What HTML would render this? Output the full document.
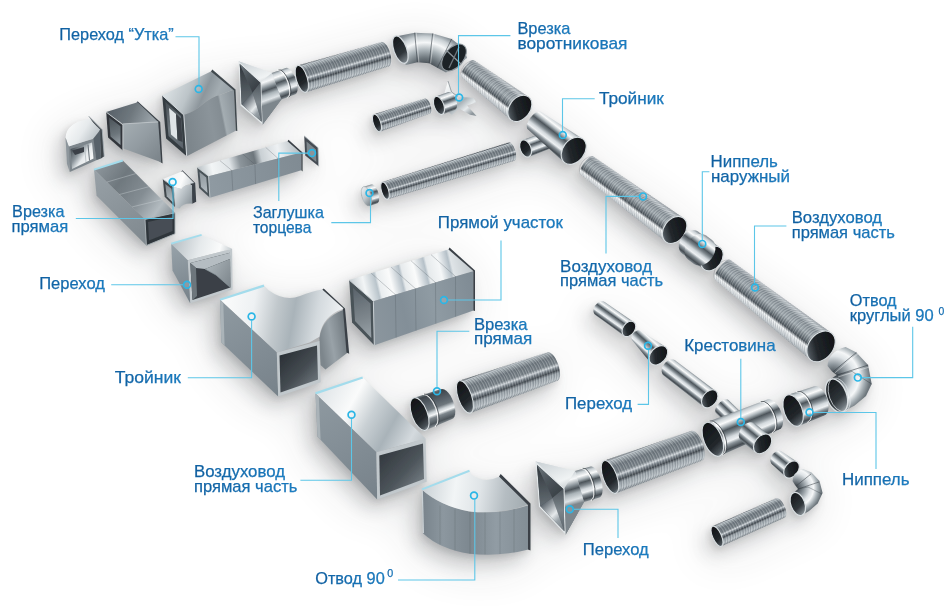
<!DOCTYPE html>
<html><head><meta charset="utf-8"><title>Воздуховоды</title>
<style>
html,body{margin:0;padding:0;background:#fff;}
body{width:950px;height:611px;overflow:hidden;font-family:"Liberation Sans",sans-serif;}
svg{display:block}
text{font-family:"Liberation Sans",sans-serif;}
</style></head><body>
<svg width="950" height="611" viewBox="0 0 950 611">
<defs>
<filter id="blur" x="-20%" y="-20%" width="140%" height="140%"><feGaussianBlur stdDeviation="9"/></filter>
<filter id="blur3" x="-30%" y="-30%" width="160%" height="160%"><feGaussianBlur stdDeviation="24"/></filter>
<filter id="blur2" x="-20%" y="-20%" width="140%" height="140%"><feGaussianBlur stdDeviation="3"/></filter>
<filter id="soft" x="-5%" y="-5%" width="110%" height="110%"><feGaussianBlur stdDeviation="0.35"/></filter>
<linearGradient id="txt" x1="0" y1="0" x2="1" y2="0"><stop offset="0" stop-color="#0f5c9c"/><stop offset="1" stop-color="#1b80c4"/></linearGradient>
<linearGradient id="g1" gradientUnits="userSpaceOnUse" x1="72.0" y1="148.0" x2="92.0" y2="162.0"><stop offset="0" stop-color="#4a5258"/><stop offset="0.35" stop-color="#8d969c"/><stop offset="0.6" stop-color="#e6eaec"/><stop offset="1" stop-color="#fafbfb"/></linearGradient><linearGradient id="g2" gradientUnits="userSpaceOnUse" x1="68.0" y1="124.0" x2="96.0" y2="142.0"><stop offset="0" stop-color="#fafbfb"/><stop offset="0.5" stop-color="#e6eaec"/><stop offset="1" stop-color="#b5bdc2"/></linearGradient><linearGradient id="g3" gradientUnits="userSpaceOnUse" x1="112.0" y1="106.0" x2="150.0" y2="124.0"><stop offset="0" stop-color="#59626a"/><stop offset="0.5" stop-color="#6f787e"/><stop offset="1" stop-color="#99a2a8"/></linearGradient><linearGradient id="g4" gradientUnits="userSpaceOnUse" x1="123.0" y1="124.0" x2="160.0" y2="160.0"><stop offset="0" stop-color="#a4adb2"/><stop offset="0.45" stop-color="#949da3"/><stop offset="1" stop-color="#7b848a"/></linearGradient><linearGradient id="g5" gradientUnits="userSpaceOnUse" x1="109.0" y1="118.0" x2="120.0" y2="145.0"><stop offset="0" stop-color="#4a5258"/><stop offset="0.6" stop-color="#6d767c"/><stop offset="1" stop-color="#99a2a8"/></linearGradient><linearGradient id="g6" gradientUnits="userSpaceOnUse" x1="172.0" y1="80.0" x2="225.0" y2="104.0"><stop offset="0" stop-color="#d9dfe2"/><stop offset="0.35" stop-color="#bcc4c8"/><stop offset="0.6" stop-color="#8d969c"/><stop offset="0.8" stop-color="#a4adb2"/><stop offset="1" stop-color="#99a2a8"/></linearGradient><linearGradient id="g7" gradientUnits="userSpaceOnUse" x1="186.0" y1="125.0" x2="236.0" y2="115.0"><stop offset="0" stop-color="#7d868c"/><stop offset="0.5" stop-color="#8b949a"/><stop offset="0.72" stop-color="#848d93"/><stop offset="0.76" stop-color="#a4adb2"/><stop offset="1" stop-color="#8d969c"/></linearGradient><linearGradient id="g8" gradientUnits="userSpaceOnUse" x1="166.0" y1="104.0" x2="183.0" y2="148.0"><stop offset="0" stop-color="#4a5258"/><stop offset="0.5" stop-color="#6d767c"/><stop offset="1" stop-color="#59626a"/></linearGradient><linearGradient id="g9" gradientUnits="userSpaceOnUse" x1="100.0" y1="165.0" x2="170.0" y2="215.0"><stop offset="0" stop-color="#8b949a"/><stop offset="0.3" stop-color="#6f787e"/><stop offset="0.6" stop-color="#848d93"/><stop offset="0.85" stop-color="#b4bcc1"/><stop offset="1" stop-color="#8b949a"/></linearGradient><linearGradient id="g10" gradientUnits="userSpaceOnUse" x1="94.0" y1="170.0" x2="146.0" y2="245.0"><stop offset="0" stop-color="#98a1a7"/><stop offset="1" stop-color="#7f888e"/></linearGradient><linearGradient id="g11" gradientUnits="userSpaceOnUse" x1="166.0" y1="176.0" x2="192.0" y2="186.0"><stop offset="0" stop-color="#eef1f3"/><stop offset="0.6" stop-color="#fafbfb"/><stop offset="1" stop-color="#c9d0d4"/></linearGradient><linearGradient id="g12" gradientUnits="userSpaceOnUse" x1="175.0" y1="190.0" x2="193.0" y2="200.0"><stop offset="0" stop-color="#dfe4e7"/><stop offset="0.5" stop-color="#b5bdc2"/><stop offset="1" stop-color="#8d969c"/></linearGradient><linearGradient id="g13" gradientUnits="userSpaceOnUse" x1="165.0" y1="184.0" x2="173.0" y2="202.0"><stop offset="0" stop-color="#7d868c"/><stop offset="1" stop-color="#b5bdc2"/></linearGradient><linearGradient id="g14" gradientUnits="userSpaceOnUse" x1="200.0" y1="170.0" x2="298.0" y2="146.0"><stop offset="0" stop-color="#c1c8cc"/><stop offset="0.12" stop-color="#f2f5f6"/><stop offset="0.3" stop-color="#dfe4e7"/><stop offset="0.4" stop-color="#8d969c"/><stop offset="0.55" stop-color="#6d767c"/><stop offset="0.62" stop-color="#c9d0d4"/><stop offset="0.8" stop-color="#eef1f3"/><stop offset="1" stop-color="#b5bdc2"/></linearGradient><linearGradient id="g15" gradientUnits="userSpaceOnUse" x1="208.0" y1="185.0" x2="302.0" y2="160.0"><stop offset="0" stop-color="#8f9aa2"/><stop offset="0.5" stop-color="#87929a"/><stop offset="1" stop-color="#808b93"/></linearGradient><linearGradient id="g16" gradientUnits="userSpaceOnUse" x1="200.0" y1="172.0" x2="207.0" y2="193.0"><stop offset="0" stop-color="#8d969c"/><stop offset="1" stop-color="#b5bdc2"/></linearGradient><linearGradient id="g17" gradientUnits="userSpaceOnUse" x1="175.0" y1="240.0" x2="230.0" y2="255.0"><stop offset="0" stop-color="#b9c1c6"/><stop offset="0.45" stop-color="#e6eaec"/><stop offset="0.8" stop-color="#fafbfb"/><stop offset="1" stop-color="#c5ccd0"/></linearGradient><linearGradient id="g18" gradientUnits="userSpaceOnUse" x1="205.0" y1="269.0" x2="231.0" y2="285.0"><stop offset="0" stop-color="#aab3b8"/><stop offset="1" stop-color="#7d868c"/></linearGradient><linearGradient id="g19" gradientUnits="userSpaceOnUse" x1="171.0" y1="243.0" x2="191.0" y2="300.0"><stop offset="0" stop-color="#98a3aa"/><stop offset="1" stop-color="#77828a"/></linearGradient><linearGradient id="g20" gradientUnits="userSpaceOnUse" x1="238.5" y1="61.2" x2="262.6" y2="124.5"><stop offset="0" stop-color="#c9d0d4"/><stop offset="0.35" stop-color="#f0f3f4"/><stop offset="0.6" stop-color="#9aa3a9"/><stop offset="1" stop-color="#6d767c"/></linearGradient><linearGradient id="g21" gradientUnits="userSpaceOnUse" x1="271.7" y1="73.0" x2="281.3" y2="99.4"><stop offset="0" stop-color="#7f888e"/><stop offset="0.08" stop-color="#c9d0d4"/><stop offset="0.2" stop-color="#fafbfb"/><stop offset="0.3" stop-color="#aab3b8"/><stop offset="0.4" stop-color="#4d555b"/><stop offset="0.5" stop-color="#7d868c"/><stop offset="0.62" stop-color="#d4dade"/><stop offset="0.72" stop-color="#eef1f3"/><stop offset="0.8" stop-color="#8d969c"/><stop offset="0.92" stop-color="#454c52"/><stop offset="1" stop-color="#7d868c"/></linearGradient><linearGradient id="g22" gradientUnits="userSpaceOnUse" x1="238.5" y1="61.2" x2="262.6" y2="124.5"><stop offset="0" stop-color="#c9d0d4"/><stop offset="0.35" stop-color="#f0f3f4"/><stop offset="0.6" stop-color="#9aa3a9"/><stop offset="1" stop-color="#6d767c"/></linearGradient><linearGradient id="g23" gradientUnits="userSpaceOnUse" x1="271.7" y1="73.0" x2="281.3" y2="99.4"><stop offset="0" stop-color="#c9d0d4"/><stop offset="0.22" stop-color="#f5f7f8"/><stop offset="0.4" stop-color="#8d969c"/><stop offset="0.52" stop-color="#4d555b"/><stop offset="0.66" stop-color="#aab3b8"/><stop offset="0.85" stop-color="#dfe4e7"/><stop offset="1" stop-color="#7d868c"/></linearGradient><linearGradient id="g24" gradientUnits="userSpaceOnUse" x1="239.8" y1="64.0" x2="241.6" y2="104.3"><stop offset="0" stop-color="#30363b"/><stop offset="0.6" stop-color="#4d555b"/><stop offset="1" stop-color="#646d73"/></linearGradient><linearGradient id="g25" gradientUnits="userSpaceOnUse" x1="239.8" y1="64.0" x2="260.3" y2="82.8"><stop offset="0" stop-color="#6d767c"/><stop offset="0.5" stop-color="#4d555b"/><stop offset="1" stop-color="#3a4147"/></linearGradient><linearGradient id="g26" gradientUnits="userSpaceOnUse" x1="260.3" y1="82.8" x2="261.7" y2="121.7"><stop offset="0" stop-color="#4d555b"/><stop offset="0.5" stop-color="#7d868c"/><stop offset="1" stop-color="#59626a"/></linearGradient><linearGradient id="g27" gradientUnits="userSpaceOnUse" x1="241.6" y1="104.3" x2="261.7" y2="121.7"><stop offset="0" stop-color="#59626a"/><stop offset="0.45" stop-color="#e6eaec"/><stop offset="0.65" stop-color="#99a2a8"/><stop offset="1" stop-color="#6d767c"/></linearGradient><linearGradient id="g28" gradientUnits="userSpaceOnUse" x1="297.8" y1="65.5" x2="305.8" y2="92.3"><stop offset="0" stop-color="#4d555b"/><stop offset="0.05" stop-color="#b9c1c6"/><stop offset="0.12" stop-color="#9fa8ad"/><stop offset="0.24" stop-color="#707980"/><stop offset="0.44" stop-color="#7c858b"/><stop offset="0.52" stop-color="#d0d6da"/><stop offset="0.58" stop-color="#808990"/><stop offset="0.66" stop-color="#454c52"/><stop offset="0.74" stop-color="#99a2a8"/><stop offset="0.9" stop-color="#b9c1c6"/><stop offset="1" stop-color="#7d868c"/></linearGradient><linearGradient id="g29" gradientUnits="userSpaceOnUse" x1="297.8" y1="65.5" x2="305.8" y2="92.3"><stop offset="0" stop-color="#0f1215"/><stop offset="0.65" stop-color="#22272b"/><stop offset="0.88" stop-color="#4a5258"/><stop offset="1" stop-color="#99a2a8"/></linearGradient><radialGradient id="g30" gradientUnits="userSpaceOnUse" cx="425.0" cy="78.0" r="48.0"><stop offset="0" stop-color="#3a4147"/><stop offset="0.28" stop-color="#454c52"/><stop offset="0.42" stop-color="#6d767c"/><stop offset="0.58" stop-color="#aab3b8"/><stop offset="0.74" stop-color="#f5f7f8"/><stop offset="0.86" stop-color="#c9d0d4"/><stop offset="0.95" stop-color="#8d969c"/><stop offset="1" stop-color="#7a838a"/></radialGradient><linearGradient id="g31" gradientUnits="userSpaceOnUse" x1="397.0" y1="37.0" x2="405.0" y2="64.0"><stop offset="0" stop-color="#15191c"/><stop offset="0.6" stop-color="#2f353a"/><stop offset="1" stop-color="#8d969c"/></linearGradient><linearGradient id="g32" gradientUnits="userSpaceOnUse" x1="374.1" y1="114.3" x2="379.9" y2="131.7"><stop offset="0" stop-color="#4d555b"/><stop offset="0.05" stop-color="#b9c1c6"/><stop offset="0.12" stop-color="#9fa8ad"/><stop offset="0.24" stop-color="#707980"/><stop offset="0.44" stop-color="#7c858b"/><stop offset="0.52" stop-color="#d0d6da"/><stop offset="0.58" stop-color="#808990"/><stop offset="0.66" stop-color="#454c52"/><stop offset="0.74" stop-color="#99a2a8"/><stop offset="0.9" stop-color="#b9c1c6"/><stop offset="1" stop-color="#7d868c"/></linearGradient><linearGradient id="g33" gradientUnits="userSpaceOnUse" x1="374.1" y1="114.3" x2="379.9" y2="131.7"><stop offset="0" stop-color="#0f1215"/><stop offset="0.65" stop-color="#22272b"/><stop offset="0.88" stop-color="#4a5258"/><stop offset="1" stop-color="#99a2a8"/></linearGradient><linearGradient id="g34" gradientUnits="userSpaceOnUse" x1="446.0" y1="84.0" x2="472.0" y2="114.0"><stop offset="0" stop-color="#fafbfb"/><stop offset="0.35" stop-color="#dfe4e7"/><stop offset="0.6" stop-color="#aab3b8"/><stop offset="0.8" stop-color="#e6eaec"/><stop offset="1" stop-color="#8d969c"/></linearGradient><linearGradient id="g35" gradientUnits="userSpaceOnUse" x1="435.8" y1="96.6" x2="442.2" y2="114.4"><stop offset="0" stop-color="#7f888e"/><stop offset="0.08" stop-color="#c9d0d4"/><stop offset="0.2" stop-color="#fafbfb"/><stop offset="0.3" stop-color="#aab3b8"/><stop offset="0.4" stop-color="#4d555b"/><stop offset="0.5" stop-color="#7d868c"/><stop offset="0.62" stop-color="#d4dade"/><stop offset="0.72" stop-color="#eef1f3"/><stop offset="0.8" stop-color="#8d969c"/><stop offset="0.92" stop-color="#454c52"/><stop offset="1" stop-color="#7d868c"/></linearGradient><linearGradient id="g36" gradientUnits="userSpaceOnUse" x1="435.8" y1="96.6" x2="442.2" y2="114.4"><stop offset="0" stop-color="#0f1215"/><stop offset="0.65" stop-color="#22272b"/><stop offset="0.88" stop-color="#4a5258"/><stop offset="1" stop-color="#99a2a8"/></linearGradient><linearGradient id="g37" gradientUnits="userSpaceOnUse" x1="476.3" y1="57.0" x2="458.7" y2="80.0"><stop offset="0" stop-color="#8e979d"/><stop offset="0.1" stop-color="#c9d0d4"/><stop offset="0.24" stop-color="#8d969c"/><stop offset="0.45" stop-color="#a4adb2"/><stop offset="0.6" stop-color="#6d767c"/><stop offset="0.68" stop-color="#4d555b"/><stop offset="0.76" stop-color="#f2f5f6"/><stop offset="0.9" stop-color="#c9d0d4"/><stop offset="1" stop-color="#99a2a8"/></linearGradient><linearGradient id="g38" gradientUnits="userSpaceOnUse" x1="528.6" y1="96.9" x2="511.0" y2="119.9"><stop offset="0" stop-color="#0f1215"/><stop offset="0.65" stop-color="#22272b"/><stop offset="0.88" stop-color="#4a5258"/><stop offset="1" stop-color="#99a2a8"/></linearGradient><linearGradient id="g39" gradientUnits="userSpaceOnUse" x1="382.2" y1="181.5" x2="387.8" y2="199.9"><stop offset="0" stop-color="#4d555b"/><stop offset="0.05" stop-color="#b9c1c6"/><stop offset="0.12" stop-color="#9fa8ad"/><stop offset="0.24" stop-color="#707980"/><stop offset="0.44" stop-color="#7c858b"/><stop offset="0.52" stop-color="#d0d6da"/><stop offset="0.58" stop-color="#808990"/><stop offset="0.66" stop-color="#454c52"/><stop offset="0.74" stop-color="#99a2a8"/><stop offset="0.9" stop-color="#b9c1c6"/><stop offset="1" stop-color="#7d868c"/></linearGradient><linearGradient id="g40" gradientUnits="userSpaceOnUse" x1="382.3" y1="182.1" x2="387.7" y2="199.3"><stop offset="0" stop-color="#0f1215"/><stop offset="0.65" stop-color="#22272b"/><stop offset="0.88" stop-color="#4a5258"/><stop offset="1" stop-color="#99a2a8"/></linearGradient><linearGradient id="g41" gradientUnits="userSpaceOnUse" x1="363.6" y1="186.7" x2="369.4" y2="205.9"><stop offset="0" stop-color="#7f888e"/><stop offset="0.08" stop-color="#c9d0d4"/><stop offset="0.2" stop-color="#fafbfb"/><stop offset="0.3" stop-color="#aab3b8"/><stop offset="0.4" stop-color="#4d555b"/><stop offset="0.5" stop-color="#7d868c"/><stop offset="0.62" stop-color="#d4dade"/><stop offset="0.72" stop-color="#eef1f3"/><stop offset="0.8" stop-color="#8d969c"/><stop offset="0.92" stop-color="#454c52"/><stop offset="1" stop-color="#7d868c"/></linearGradient><linearGradient id="g42" gradientUnits="userSpaceOnUse" x1="362.0" y1="190.0" x2="371.0" y2="203.0"><stop offset="0" stop-color="#e6eaec"/><stop offset="0.5" stop-color="#c1c8cc"/><stop offset="1" stop-color="#7d868c"/></linearGradient><linearGradient id="g43" gradientUnits="userSpaceOnUse" x1="522.5" y1="140.1" x2="528.7" y2="156.9"><stop offset="0" stop-color="#7f888e"/><stop offset="0.08" stop-color="#c9d0d4"/><stop offset="0.2" stop-color="#fafbfb"/><stop offset="0.3" stop-color="#aab3b8"/><stop offset="0.4" stop-color="#4d555b"/><stop offset="0.5" stop-color="#7d868c"/><stop offset="0.62" stop-color="#d4dade"/><stop offset="0.72" stop-color="#eef1f3"/><stop offset="0.8" stop-color="#8d969c"/><stop offset="0.92" stop-color="#454c52"/><stop offset="1" stop-color="#7d868c"/></linearGradient><linearGradient id="g44" gradientUnits="userSpaceOnUse" x1="522.5" y1="140.1" x2="528.7" y2="156.9"><stop offset="0" stop-color="#0f1215"/><stop offset="0.65" stop-color="#22272b"/><stop offset="0.88" stop-color="#4a5258"/><stop offset="1" stop-color="#99a2a8"/></linearGradient><linearGradient id="g45" gradientUnits="userSpaceOnUse" x1="543.7" y1="108.7" x2="525.3" y2="132.5"><stop offset="0" stop-color="#7f888e"/><stop offset="0.08" stop-color="#c9d0d4"/><stop offset="0.2" stop-color="#fafbfb"/><stop offset="0.3" stop-color="#aab3b8"/><stop offset="0.4" stop-color="#4d555b"/><stop offset="0.5" stop-color="#7d868c"/><stop offset="0.62" stop-color="#d4dade"/><stop offset="0.72" stop-color="#eef1f3"/><stop offset="0.8" stop-color="#8d969c"/><stop offset="0.92" stop-color="#454c52"/><stop offset="1" stop-color="#7d868c"/></linearGradient><linearGradient id="g46" gradientUnits="userSpaceOnUse" x1="582.9" y1="138.9" x2="564.5" y2="162.7"><stop offset="0" stop-color="#0f1215"/><stop offset="0.65" stop-color="#22272b"/><stop offset="0.88" stop-color="#4a5258"/><stop offset="1" stop-color="#99a2a8"/></linearGradient><linearGradient id="g47" gradientUnits="userSpaceOnUse" x1="595.3" y1="153.3" x2="577.7" y2="177.1"><stop offset="0" stop-color="#8e979d"/><stop offset="0.1" stop-color="#c9d0d4"/><stop offset="0.24" stop-color="#8d969c"/><stop offset="0.45" stop-color="#a4adb2"/><stop offset="0.6" stop-color="#6d767c"/><stop offset="0.68" stop-color="#4d555b"/><stop offset="0.76" stop-color="#f2f5f6"/><stop offset="0.9" stop-color="#c9d0d4"/><stop offset="1" stop-color="#99a2a8"/></linearGradient><linearGradient id="g48" gradientUnits="userSpaceOnUse" x1="683.4" y1="218.0" x2="665.8" y2="241.8"><stop offset="0" stop-color="#0f1215"/><stop offset="0.65" stop-color="#22272b"/><stop offset="0.88" stop-color="#4a5258"/><stop offset="1" stop-color="#99a2a8"/></linearGradient><linearGradient id="g49" gradientUnits="userSpaceOnUse" x1="697.9" y1="231.6" x2="682.1" y2="253.4"><stop offset="0" stop-color="#7f888e"/><stop offset="0.08" stop-color="#c9d0d4"/><stop offset="0.2" stop-color="#fafbfb"/><stop offset="0.3" stop-color="#aab3b8"/><stop offset="0.4" stop-color="#4d555b"/><stop offset="0.5" stop-color="#7d868c"/><stop offset="0.62" stop-color="#d4dade"/><stop offset="0.72" stop-color="#eef1f3"/><stop offset="0.8" stop-color="#8d969c"/><stop offset="0.92" stop-color="#454c52"/><stop offset="1" stop-color="#7d868c"/></linearGradient><linearGradient id="g50" gradientUnits="userSpaceOnUse" x1="719.9" y1="247.6" x2="704.1" y2="269.4"><stop offset="0" stop-color="#0f1215"/><stop offset="0.65" stop-color="#22272b"/><stop offset="0.88" stop-color="#4a5258"/><stop offset="1" stop-color="#99a2a8"/></linearGradient><linearGradient id="g51" gradientUnits="userSpaceOnUse" x1="706.0" y1="235.5" x2="688.0" y2="259.5"><stop offset="0" stop-color="#7f888e"/><stop offset="0.08" stop-color="#c9d0d4"/><stop offset="0.2" stop-color="#fafbfb"/><stop offset="0.3" stop-color="#aab3b8"/><stop offset="0.4" stop-color="#4d555b"/><stop offset="0.5" stop-color="#7d868c"/><stop offset="0.62" stop-color="#d4dade"/><stop offset="0.72" stop-color="#eef1f3"/><stop offset="0.8" stop-color="#8d969c"/><stop offset="0.92" stop-color="#454c52"/><stop offset="1" stop-color="#7d868c"/></linearGradient><linearGradient id="g52" gradientUnits="userSpaceOnUse" x1="732.7" y1="256.3" x2="711.9" y2="283.1"><stop offset="0" stop-color="#8e979d"/><stop offset="0.1" stop-color="#c9d0d4"/><stop offset="0.24" stop-color="#8d969c"/><stop offset="0.45" stop-color="#a4adb2"/><stop offset="0.6" stop-color="#6d767c"/><stop offset="0.68" stop-color="#4d555b"/><stop offset="0.76" stop-color="#f2f5f6"/><stop offset="0.9" stop-color="#c9d0d4"/><stop offset="1" stop-color="#99a2a8"/></linearGradient><linearGradient id="g53" gradientUnits="userSpaceOnUse" x1="831.4" y1="333.0" x2="810.6" y2="359.8"><stop offset="0" stop-color="#0f1215"/><stop offset="0.65" stop-color="#22272b"/><stop offset="0.88" stop-color="#4a5258"/><stop offset="1" stop-color="#99a2a8"/></linearGradient><radialGradient id="g54" gradientUnits="userSpaceOnUse" cx="833.0" cy="377.0" r="42.0"><stop offset="0" stop-color="#3a4147"/><stop offset="0.12" stop-color="#4d555b"/><stop offset="0.3" stop-color="#8d969c"/><stop offset="0.5" stop-color="#dfe4e7"/><stop offset="0.62" stop-color="#f5f7f8"/><stop offset="0.75" stop-color="#aab3b8"/><stop offset="0.88" stop-color="#6d767c"/><stop offset="1" stop-color="#59626a"/></radialGradient><linearGradient id="g55" gradientUnits="userSpaceOnUse" x1="830.0" y1="380.0" x2="843.0" y2="412.0"><stop offset="0" stop-color="#15191c"/><stop offset="0.6" stop-color="#2f353a"/><stop offset="0.85" stop-color="#6d767c"/><stop offset="1" stop-color="#aab3b8"/></linearGradient><linearGradient id="g56" gradientUnits="userSpaceOnUse" x1="787.4" y1="395.0" x2="798.8" y2="426.0"><stop offset="0" stop-color="#7f888e"/><stop offset="0.08" stop-color="#c9d0d4"/><stop offset="0.2" stop-color="#fafbfb"/><stop offset="0.3" stop-color="#aab3b8"/><stop offset="0.4" stop-color="#4d555b"/><stop offset="0.5" stop-color="#7d868c"/><stop offset="0.62" stop-color="#d4dade"/><stop offset="0.72" stop-color="#eef1f3"/><stop offset="0.8" stop-color="#8d969c"/><stop offset="0.92" stop-color="#454c52"/><stop offset="1" stop-color="#7d868c"/></linearGradient><linearGradient id="g57" gradientUnits="userSpaceOnUse" x1="787.4" y1="395.0" x2="798.8" y2="426.0"><stop offset="0" stop-color="#0f1215"/><stop offset="0.65" stop-color="#22272b"/><stop offset="0.88" stop-color="#4a5258"/><stop offset="1" stop-color="#99a2a8"/></linearGradient><linearGradient id="g58" gradientUnits="userSpaceOnUse" x1="728.4" y1="400.1" x2="716.0" y2="413.1"><stop offset="0" stop-color="#7f888e"/><stop offset="0.08" stop-color="#c9d0d4"/><stop offset="0.2" stop-color="#fafbfb"/><stop offset="0.3" stop-color="#aab3b8"/><stop offset="0.4" stop-color="#4d555b"/><stop offset="0.5" stop-color="#7d868c"/><stop offset="0.62" stop-color="#d4dade"/><stop offset="0.72" stop-color="#eef1f3"/><stop offset="0.8" stop-color="#8d969c"/><stop offset="0.92" stop-color="#454c52"/><stop offset="1" stop-color="#7d868c"/></linearGradient><linearGradient id="g59" gradientUnits="userSpaceOnUse" x1="706.0" y1="422.6" x2="719.6" y2="456.0"><stop offset="0" stop-color="#7f888e"/><stop offset="0.08" stop-color="#c9d0d4"/><stop offset="0.2" stop-color="#fafbfb"/><stop offset="0.3" stop-color="#aab3b8"/><stop offset="0.4" stop-color="#4d555b"/><stop offset="0.5" stop-color="#7d868c"/><stop offset="0.62" stop-color="#d4dade"/><stop offset="0.72" stop-color="#eef1f3"/><stop offset="0.8" stop-color="#8d969c"/><stop offset="0.92" stop-color="#454c52"/><stop offset="1" stop-color="#7d868c"/></linearGradient><linearGradient id="g60" gradientUnits="userSpaceOnUse" x1="706.0" y1="422.6" x2="719.6" y2="456.0"><stop offset="0" stop-color="#0f1215"/><stop offset="0.65" stop-color="#22272b"/><stop offset="0.88" stop-color="#4a5258"/><stop offset="1" stop-color="#99a2a8"/></linearGradient><linearGradient id="g61" gradientUnits="userSpaceOnUse" x1="754.9" y1="423.5" x2="741.1" y2="440.5"><stop offset="0" stop-color="#7f888e"/><stop offset="0.08" stop-color="#c9d0d4"/><stop offset="0.2" stop-color="#fafbfb"/><stop offset="0.3" stop-color="#aab3b8"/><stop offset="0.4" stop-color="#4d555b"/><stop offset="0.5" stop-color="#7d868c"/><stop offset="0.62" stop-color="#d4dade"/><stop offset="0.72" stop-color="#eef1f3"/><stop offset="0.8" stop-color="#8d969c"/><stop offset="0.92" stop-color="#454c52"/><stop offset="1" stop-color="#7d868c"/></linearGradient><linearGradient id="g62" gradientUnits="userSpaceOnUse" x1="769.5" y1="435.4" x2="755.7" y2="452.4"><stop offset="0" stop-color="#0f1215"/><stop offset="0.65" stop-color="#22272b"/><stop offset="0.88" stop-color="#4a5258"/><stop offset="1" stop-color="#99a2a8"/></linearGradient><linearGradient id="g63" gradientUnits="userSpaceOnUse" x1="604.9" y1="301.6" x2="595.1" y2="315.4"><stop offset="0" stop-color="#7f888e"/><stop offset="0.08" stop-color="#c9d0d4"/><stop offset="0.2" stop-color="#fafbfb"/><stop offset="0.3" stop-color="#aab3b8"/><stop offset="0.4" stop-color="#4d555b"/><stop offset="0.5" stop-color="#7d868c"/><stop offset="0.62" stop-color="#d4dade"/><stop offset="0.72" stop-color="#eef1f3"/><stop offset="0.8" stop-color="#8d969c"/><stop offset="0.92" stop-color="#454c52"/><stop offset="1" stop-color="#7d868c"/></linearGradient><linearGradient id="g64" gradientUnits="userSpaceOnUse" x1="633.8" y1="322.0" x2="624.0" y2="335.8"><stop offset="0" stop-color="#0f1215"/><stop offset="0.65" stop-color="#22272b"/><stop offset="0.88" stop-color="#4a5258"/><stop offset="1" stop-color="#99a2a8"/></linearGradient><linearGradient id="g65" gradientUnits="userSpaceOnUse" x1="644.4" y1="327.8" x2="629.6" y2="344.2"><stop offset="0" stop-color="#7f888e"/><stop offset="0.08" stop-color="#c9d0d4"/><stop offset="0.2" stop-color="#fafbfb"/><stop offset="0.3" stop-color="#aab3b8"/><stop offset="0.4" stop-color="#4d555b"/><stop offset="0.5" stop-color="#7d868c"/><stop offset="0.62" stop-color="#d4dade"/><stop offset="0.72" stop-color="#eef1f3"/><stop offset="0.8" stop-color="#8d969c"/><stop offset="0.92" stop-color="#454c52"/><stop offset="1" stop-color="#7d868c"/></linearGradient><linearGradient id="g66" gradientUnits="userSpaceOnUse" x1="665.8" y1="347.1" x2="651.0" y2="363.5"><stop offset="0" stop-color="#0f1215"/><stop offset="0.65" stop-color="#22272b"/><stop offset="0.88" stop-color="#4a5258"/><stop offset="1" stop-color="#99a2a8"/></linearGradient><linearGradient id="g67" gradientUnits="userSpaceOnUse" x1="675.6" y1="360.1" x2="663.4" y2="375.9"><stop offset="0" stop-color="#7f888e"/><stop offset="0.08" stop-color="#c9d0d4"/><stop offset="0.2" stop-color="#fafbfb"/><stop offset="0.3" stop-color="#aab3b8"/><stop offset="0.4" stop-color="#4d555b"/><stop offset="0.5" stop-color="#7d868c"/><stop offset="0.62" stop-color="#d4dade"/><stop offset="0.72" stop-color="#eef1f3"/><stop offset="0.8" stop-color="#8d969c"/><stop offset="0.92" stop-color="#454c52"/><stop offset="1" stop-color="#7d868c"/></linearGradient><linearGradient id="g68" gradientUnits="userSpaceOnUse" x1="715.8" y1="390.9" x2="703.6" y2="406.7"><stop offset="0" stop-color="#0f1215"/><stop offset="0.65" stop-color="#22272b"/><stop offset="0.88" stop-color="#4a5258"/><stop offset="1" stop-color="#99a2a8"/></linearGradient><linearGradient id="g69" gradientUnits="userSpaceOnUse" x1="352.0" y1="286.0" x2="470.0" y2="258.0"><stop offset="0" stop-color="#c9d0d4"/><stop offset="0.1" stop-color="#f2f5f6"/><stop offset="0.2" stop-color="#b9c4cb"/><stop offset="0.22" stop-color="#e9edef"/><stop offset="0.32" stop-color="#fafbfb"/><stop offset="0.41" stop-color="#b5c0c8"/><stop offset="0.43" stop-color="#e6eaec"/><stop offset="0.53" stop-color="#fafbfb"/><stop offset="0.62" stop-color="#b5c0c8"/><stop offset="0.64" stop-color="#e6eaec"/><stop offset="0.74" stop-color="#f5f7f8"/><stop offset="0.82" stop-color="#b5c0c8"/><stop offset="0.84" stop-color="#dfe4e7"/><stop offset="1" stop-color="#c1c8cc"/></linearGradient><linearGradient id="g70" gradientUnits="userSpaceOnUse" x1="374.0" y1="320.0" x2="474.0" y2="295.0"><stop offset="0" stop-color="#8a959d"/><stop offset="0.3" stop-color="#838f98"/><stop offset="0.6" stop-color="#8f9ba3"/><stop offset="1" stop-color="#808c95"/></linearGradient><linearGradient id="g71" gradientUnits="userSpaceOnUse" x1="353.0" y1="288.0" x2="371.0" y2="338.0"><stop offset="0" stop-color="#59626a"/><stop offset="0.6" stop-color="#7d868c"/><stop offset="1" stop-color="#9aa3a9"/></linearGradient><linearGradient id="g72" gradientUnits="userSpaceOnUse" x1="320.0" y1="340.0" x2="348.0" y2="335.0"><stop offset="0" stop-color="#7d868c"/><stop offset="0.4" stop-color="#99a2a8"/><stop offset="0.7" stop-color="#848d93"/><stop offset="1" stop-color="#6d767c"/></linearGradient><linearGradient id="g73" gradientUnits="userSpaceOnUse" x1="225.0" y1="300.0" x2="340.0" y2="320.0"><stop offset="0" stop-color="#fafbfb"/><stop offset="0.25" stop-color="#eef1f3"/><stop offset="0.45" stop-color="#c1c8cc"/><stop offset="0.6" stop-color="#a9b3b9"/><stop offset="0.8" stop-color="#d4dade"/><stop offset="1" stop-color="#eef1f3"/></linearGradient><linearGradient id="g74" gradientUnits="userSpaceOnUse" x1="220.0" y1="300.0" x2="278.0" y2="396.0"><stop offset="0" stop-color="#8f9aa1"/><stop offset="0.5" stop-color="#838e96"/><stop offset="1" stop-color="#77828a"/></linearGradient><linearGradient id="g75" gradientUnits="userSpaceOnUse" x1="280.0" y1="355.0" x2="318.0" y2="392.0"><stop offset="0" stop-color="#2a3035"/><stop offset="0.5" stop-color="#454c52"/><stop offset="1" stop-color="#7d868c"/></linearGradient><linearGradient id="g76" gradientUnits="userSpaceOnUse" x1="320.0" y1="390.0" x2="420.0" y2="445.0"><stop offset="0" stop-color="#dfe4e7"/><stop offset="0.3" stop-color="#fafbfb"/><stop offset="0.5" stop-color="#c9d0d4"/><stop offset="0.7" stop-color="#a9b3b9"/><stop offset="0.9" stop-color="#d4dade"/><stop offset="1" stop-color="#c1c8cc"/></linearGradient><linearGradient id="g77" gradientUnits="userSpaceOnUse" x1="315.0" y1="393.0" x2="377.0" y2="499.0"><stop offset="0" stop-color="#8f9aa1"/><stop offset="0.5" stop-color="#838e96"/><stop offset="1" stop-color="#77828a"/></linearGradient><linearGradient id="g78" gradientUnits="userSpaceOnUse" x1="380.0" y1="455.0" x2="424.0" y2="495.0"><stop offset="0" stop-color="#33393f"/><stop offset="0.5" stop-color="#4d555b"/><stop offset="1" stop-color="#848d93"/></linearGradient><linearGradient id="g79" gradientUnits="userSpaceOnUse" x1="413.6" y1="397.9" x2="425.6" y2="430.3"><stop offset="0" stop-color="#7d868c"/><stop offset="0.08" stop-color="#3f464c"/><stop offset="0.32" stop-color="#59626a"/><stop offset="0.48" stop-color="#6d767c"/><stop offset="0.58" stop-color="#c9d0d4"/><stop offset="0.66" stop-color="#f2f5f6"/><stop offset="0.74" stop-color="#7d868c"/><stop offset="0.9" stop-color="#4d555b"/><stop offset="1" stop-color="#8d969c"/></linearGradient><linearGradient id="g80" gradientUnits="userSpaceOnUse" x1="413.6" y1="397.9" x2="425.6" y2="430.3"><stop offset="0" stop-color="#0f1215"/><stop offset="0.65" stop-color="#22272b"/><stop offset="0.88" stop-color="#4a5258"/><stop offset="1" stop-color="#99a2a8"/></linearGradient><linearGradient id="g81" gradientUnits="userSpaceOnUse" x1="459.3" y1="380.8" x2="470.5" y2="413.0"><stop offset="0" stop-color="#4d555b"/><stop offset="0.05" stop-color="#b9c1c6"/><stop offset="0.12" stop-color="#9fa8ad"/><stop offset="0.24" stop-color="#707980"/><stop offset="0.44" stop-color="#7c858b"/><stop offset="0.52" stop-color="#d0d6da"/><stop offset="0.58" stop-color="#808990"/><stop offset="0.66" stop-color="#454c52"/><stop offset="0.74" stop-color="#99a2a8"/><stop offset="0.9" stop-color="#b9c1c6"/><stop offset="1" stop-color="#7d868c"/></linearGradient><linearGradient id="g82" gradientUnits="userSpaceOnUse" x1="459.3" y1="380.8" x2="470.5" y2="413.0"><stop offset="0" stop-color="#0f1215"/><stop offset="0.65" stop-color="#22272b"/><stop offset="0.88" stop-color="#4a5258"/><stop offset="1" stop-color="#99a2a8"/></linearGradient><linearGradient id="g83" gradientUnits="userSpaceOnUse" x1="422.0" y1="520.0" x2="528.0" y2="520.0"><stop offset="0" stop-color="#78838b"/><stop offset="0.2" stop-color="#8c979f"/><stop offset="0.45" stop-color="#7d8890"/><stop offset="0.7" stop-color="#919ca4"/><stop offset="1" stop-color="#838e96"/></linearGradient><linearGradient id="g84" gradientUnits="userSpaceOnUse" x1="425.0" y1="485.0" x2="525.0" y2="500.0"><stop offset="0" stop-color="#cdd4d8"/><stop offset="0.3" stop-color="#f2f5f6"/><stop offset="0.55" stop-color="#dfe4e7"/><stop offset="0.8" stop-color="#b5bdc2"/><stop offset="1" stop-color="#a4adb2"/></linearGradient><linearGradient id="g85" gradientUnits="userSpaceOnUse" x1="535.5" y1="461.6" x2="565.6" y2="534.5"><stop offset="0" stop-color="#c9d0d4"/><stop offset="0.35" stop-color="#f0f3f4"/><stop offset="0.6" stop-color="#9aa3a9"/><stop offset="1" stop-color="#6d767c"/></linearGradient><linearGradient id="g86" gradientUnits="userSpaceOnUse" x1="575.0" y1="471.1" x2="584.0" y2="501.9"><stop offset="0" stop-color="#7f888e"/><stop offset="0.08" stop-color="#c9d0d4"/><stop offset="0.2" stop-color="#fafbfb"/><stop offset="0.3" stop-color="#aab3b8"/><stop offset="0.4" stop-color="#4d555b"/><stop offset="0.5" stop-color="#7d868c"/><stop offset="0.62" stop-color="#d4dade"/><stop offset="0.72" stop-color="#eef1f3"/><stop offset="0.8" stop-color="#8d969c"/><stop offset="0.92" stop-color="#454c52"/><stop offset="1" stop-color="#7d868c"/></linearGradient><linearGradient id="g87" gradientUnits="userSpaceOnUse" x1="535.5" y1="461.6" x2="565.6" y2="534.5"><stop offset="0" stop-color="#c9d0d4"/><stop offset="0.35" stop-color="#f0f3f4"/><stop offset="0.6" stop-color="#9aa3a9"/><stop offset="1" stop-color="#6d767c"/></linearGradient><linearGradient id="g88" gradientUnits="userSpaceOnUse" x1="575.0" y1="471.1" x2="584.0" y2="501.9"><stop offset="0" stop-color="#c9d0d4"/><stop offset="0.22" stop-color="#f5f7f8"/><stop offset="0.4" stop-color="#8d969c"/><stop offset="0.52" stop-color="#4d555b"/><stop offset="0.66" stop-color="#aab3b8"/><stop offset="0.85" stop-color="#dfe4e7"/><stop offset="1" stop-color="#7d868c"/></linearGradient><linearGradient id="g89" gradientUnits="userSpaceOnUse" x1="537.0" y1="464.9" x2="540.2" y2="505.9"><stop offset="0" stop-color="#30363b"/><stop offset="0.6" stop-color="#4d555b"/><stop offset="1" stop-color="#646d73"/></linearGradient><linearGradient id="g90" gradientUnits="userSpaceOnUse" x1="537.0" y1="464.9" x2="563.3" y2="489.1"><stop offset="0" stop-color="#6d767c"/><stop offset="0.5" stop-color="#4d555b"/><stop offset="1" stop-color="#3a4147"/></linearGradient><linearGradient id="g91" gradientUnits="userSpaceOnUse" x1="563.3" y1="489.1" x2="564.4" y2="531.2"><stop offset="0" stop-color="#4d555b"/><stop offset="0.5" stop-color="#7d868c"/><stop offset="1" stop-color="#59626a"/></linearGradient><linearGradient id="g92" gradientUnits="userSpaceOnUse" x1="540.2" y1="505.9" x2="564.4" y2="531.2"><stop offset="0" stop-color="#59626a"/><stop offset="0.45" stop-color="#e6eaec"/><stop offset="0.65" stop-color="#99a2a8"/><stop offset="1" stop-color="#6d767c"/></linearGradient><linearGradient id="g93" gradientUnits="userSpaceOnUse" x1="604.1" y1="460.7" x2="615.9" y2="493.3"><stop offset="0" stop-color="#4d555b"/><stop offset="0.05" stop-color="#b9c1c6"/><stop offset="0.12" stop-color="#9fa8ad"/><stop offset="0.24" stop-color="#707980"/><stop offset="0.44" stop-color="#7c858b"/><stop offset="0.52" stop-color="#d0d6da"/><stop offset="0.58" stop-color="#808990"/><stop offset="0.66" stop-color="#454c52"/><stop offset="0.74" stop-color="#99a2a8"/><stop offset="0.9" stop-color="#b9c1c6"/><stop offset="1" stop-color="#7d868c"/></linearGradient><linearGradient id="g94" gradientUnits="userSpaceOnUse" x1="604.1" y1="460.7" x2="615.9" y2="493.3"><stop offset="0" stop-color="#0f1215"/><stop offset="0.65" stop-color="#22272b"/><stop offset="0.88" stop-color="#4a5258"/><stop offset="1" stop-color="#99a2a8"/></linearGradient><linearGradient id="g95" gradientUnits="userSpaceOnUse" x1="782.9" y1="450.6" x2="771.1" y2="465.4"><stop offset="0" stop-color="#7f888e"/><stop offset="0.08" stop-color="#c9d0d4"/><stop offset="0.2" stop-color="#fafbfb"/><stop offset="0.3" stop-color="#aab3b8"/><stop offset="0.4" stop-color="#4d555b"/><stop offset="0.5" stop-color="#7d868c"/><stop offset="0.62" stop-color="#d4dade"/><stop offset="0.72" stop-color="#eef1f3"/><stop offset="0.8" stop-color="#8d969c"/><stop offset="0.92" stop-color="#454c52"/><stop offset="1" stop-color="#7d868c"/></linearGradient><linearGradient id="g96" gradientUnits="userSpaceOnUse" x1="797.4" y1="462.1" x2="785.6" y2="476.9"><stop offset="0" stop-color="#0f1215"/><stop offset="0.65" stop-color="#22272b"/><stop offset="0.88" stop-color="#4a5258"/><stop offset="1" stop-color="#99a2a8"/></linearGradient><radialGradient id="g97" gradientUnits="userSpaceOnUse" cx="795.0" cy="488.0" r="30.0"><stop offset="0" stop-color="#3a4147"/><stop offset="0.12" stop-color="#4d555b"/><stop offset="0.3" stop-color="#8d969c"/><stop offset="0.5" stop-color="#dfe4e7"/><stop offset="0.62" stop-color="#f5f7f8"/><stop offset="0.75" stop-color="#aab3b8"/><stop offset="0.88" stop-color="#6d767c"/><stop offset="1" stop-color="#59626a"/></radialGradient><linearGradient id="g98" gradientUnits="userSpaceOnUse" x1="793.0" y1="494.0" x2="803.0" y2="515.0"><stop offset="0" stop-color="#15191c"/><stop offset="0.6" stop-color="#2f353a"/><stop offset="1" stop-color="#99a2a8"/></linearGradient><linearGradient id="g99" gradientUnits="userSpaceOnUse" x1="712.5" y1="526.3" x2="721.5" y2="546.3"><stop offset="0" stop-color="#4d555b"/><stop offset="0.05" stop-color="#b9c1c6"/><stop offset="0.12" stop-color="#9fa8ad"/><stop offset="0.24" stop-color="#707980"/><stop offset="0.44" stop-color="#7c858b"/><stop offset="0.52" stop-color="#d0d6da"/><stop offset="0.58" stop-color="#808990"/><stop offset="0.66" stop-color="#454c52"/><stop offset="0.74" stop-color="#99a2a8"/><stop offset="0.9" stop-color="#b9c1c6"/><stop offset="1" stop-color="#7d868c"/></linearGradient><linearGradient id="g100" gradientUnits="userSpaceOnUse" x1="712.5" y1="526.3" x2="721.5" y2="546.3"><stop offset="0" stop-color="#0f1215"/><stop offset="0.65" stop-color="#22272b"/><stop offset="0.88" stop-color="#4a5258"/><stop offset="1" stop-color="#99a2a8"/></linearGradient>
</defs>
<rect width="950" height="611" fill="#ffffff"/>
<g filter="url(#blur3)" fill="#20262c" opacity="0.16" transform="translate(-6,10)">
<polygon points="88.5,116.0 102.2,129.7 104.2,156.3 101.0,158.5 99.5,132.0"/><polygon points="67.9,146.4 94.4,138.6 96.3,160.2 69.8,172.0"/><path d="M65.5,137.6 Q66.5,122 89.5,118.9 L100.3,129.7 L93.4,138.6 L68.8,146.4 Z"/><polygon points="65.5,137.6 68.8,146.4 69.8,172.0 67.0,164.0"/><polygon points="137.6,101.3 160.2,121.9 162.6,163.6 159.5,161.5 157.5,122.5 136.5,103.0"/><polygon points="106.2,112.1 137.6,102.2 158.2,121.9 122.9,123.9"/><polygon points="122.9,123.9 158.2,121.9 161.2,162.2 123.3,148.4"/><polygon points="106.2,112.1 122.9,124.8 122.9,150.4 108.1,137.6"/><path d="M162.2,95.4 L212.3,70.8 L233.9,89.5 L221.1,94.4 Q211,97 203,104 Q194,112 183.8,115 Z"/><path d="M183.8,115 Q194,112 203,104 Q211,97 221.1,94.4 L233.9,89.5 L235.8,130.7 L186.7,156.3 Z"/><polygon points="162.2,95.4 183.8,115.0 186.7,156.3 166.1,138.6"/><polygon points="94.0,169.6 122.8,160.5 175.0,212.8 145.0,219.4"/><polygon points="94.0,169.6 145.0,219.4 146.4,245.5 96.6,195.8"/><polygon points="145.0,219.4 175.0,212.8 175.0,233.8 146.4,245.5"/><polygon points="182.4,170.3 195.2,183.0 196.2,201.8 192.2,203.7 191.5,185.5 181.0,172.0"/><path d="M162.8,179.1 L182.4,171.3 L194.2,183 Q184,184.5 181.4,188.9 L173.6,187 Z"/><path d="M173.6,187 L181.4,188.9 Q184,184.5 192,185 L192.2,203.7 Q183,203 179.5,208.6 L175.5,207.6 Z"/><polygon points="162.8,179.1 173.6,187.0 175.5,207.6 164.7,196.8"/><polygon points="197.2,167.3 288.5,140.8 301.3,152.6 208.5,176.2"/><polygon points="208.5,176.2 301.3,152.6 301.3,170.3 209.9,197.8"/><polygon points="197.2,167.3 208.5,176.2 209.9,197.8 199.1,188.0"/><polygon points="304.2,135.9 318.0,147.7 318.6,166.3 305.2,155.5"/><polygon points="171.2,243.7 201.6,234.9 232.1,248.8 187.7,260.2"/><polygon points="187.7,260.2 232.1,248.8 232.6,289.4 190.2,303.3"/><polygon points="171.2,243.7 187.7,260.2 190.2,303.3 172.5,270.4"/><polygon points="238.5,61.2 271.7,73.0 281.3,99.4 262.6,124.5 261.1,81.8"/><polygon points="271.7,73.0 285.7,67.9 287.0,67.8 288.5,68.4 290.0,69.6 291.6,71.4 293.2,73.7 294.6,76.3 295.8,79.2 296.7,82.2 297.3,85.1 297.6,87.8 297.5,90.2 297.1,92.1 296.3,93.5 295.3,94.3 281.3,99.4 280.0,99.5 278.5,98.9 277.0,97.7 275.4,95.9 273.8,93.6 272.4,91.0 271.2,88.1 270.3,85.1 269.7,82.2 269.4,79.5 269.5,77.1 269.9,75.2 270.7,73.8"/><polygon points="238.5,61.2 240.5,105.4 262.6,124.5 261.1,81.8"/><polygon points="297.8,65.5 381.7,42.1 382.9,42.1 384.2,42.7 385.5,43.9 386.9,45.5 388.1,47.7 389.2,50.1 390.1,52.8 390.8,55.5 391.2,58.2 391.3,60.6 391.1,62.8 390.6,64.5 389.9,65.7 388.9,66.3 305.8,92.3 304.5,92.3 303.0,91.7 301.6,90.4 300.1,88.5 298.7,86.2 297.4,83.4 296.4,80.5 295.7,77.5 295.2,74.5 295.1,71.8 295.3,69.4 295.9,67.5 296.7,66.2"/><path d="M396.7,36.2 L414.7,32.8 L432.7,33.5 L451.7,38.9 L464.3,48.8 L467,58 L446,72.5 L437.3,67.7 L429.1,63.2 L417.4,62.3 L405.7,65 Z"/><ellipse cx="400.3" cy="49.7" rx="6.5" ry="14.4" transform="rotate(-20.0 400.3 49.7)"/><ellipse cx="454.0" cy="57.5" rx="9.5" ry="15.5" transform="rotate(40.0 454.0 57.5)"/><polygon points="374.1,114.3 424.9,98.4 425.7,98.4 426.5,98.7 427.4,99.4 428.3,100.5 429.1,101.8 429.9,103.3 430.5,105.0 431.0,106.7 431.3,108.4 431.5,109.9 431.4,111.3 431.1,112.4 430.7,113.2 430.1,113.6 379.9,131.7 379.1,131.8 378.1,131.4 377.1,130.5 376.1,129.4 375.1,127.8 374.3,126.1 373.5,124.2 372.9,122.2 372.6,120.3 372.4,118.5 372.5,116.9 372.8,115.7 373.4,114.8"/><polygon points="448.0,81.0 451.5,92.0 458.0,96.5 473.5,98.0 476.5,102.5 467.0,105.5 476.5,116.0 470.0,114.8 459.0,108.5 452.0,115.0 446.0,110.0 443.5,96.0"/><polygon points="435.8,96.6 448.3,92.1 449.4,91.9 450.5,92.2 451.8,93.0 453.0,94.2 454.1,95.7 455.1,97.4 456.0,99.4 456.6,101.4 456.9,103.4 457.0,105.3 456.8,107.0 456.3,108.4 455.6,109.4 454.7,109.9 442.2,114.4 441.1,114.6 440.0,114.3 438.7,113.5 437.5,112.3 436.4,110.8 435.4,109.1 434.5,107.1 433.9,105.1 433.6,103.1 433.5,101.2 433.7,99.5 434.2,98.1 434.9,97.1"/><polygon points="473.9,60.2 528.6,96.9 530.2,98.6 531.3,100.8 531.9,103.3 531.8,106.2 531.1,109.1 529.8,112.0 528.1,114.7 525.9,117.1 523.5,119.1 520.8,120.5 518.1,121.4 515.5,121.5 513.1,121.0 511.0,119.9 461.1,76.8 460.7,76.2 460.7,75.2 461.0,73.8 461.6,72.2 462.5,70.4 463.6,68.5 465.0,66.6 466.5,64.8 468.0,63.2 469.5,61.8 470.9,60.8 472.2,60.1 473.2,59.9"/><polygon points="382.3,182.1 508.7,142.4 509.6,142.4 510.5,142.8 511.6,143.7 512.6,145.0 513.6,146.6 514.4,148.5 515.2,150.5 515.7,152.5 516.0,154.6 516.1,156.4 516.0,158.1 515.6,159.4 515.1,160.3 514.3,160.8 387.7,199.3 386.8,199.3 385.9,198.9 384.9,198.1 384.0,196.9 383.1,195.4 382.2,193.6 381.6,191.8 381.1,189.8 380.7,187.9 380.7,186.2 380.8,184.6 381.1,183.4 381.6,182.6"/><polygon points="363.6,186.7 371.1,184.4 372.1,184.4 373.2,184.8 374.4,185.7 375.5,187.0 376.6,188.7 377.5,190.6 378.3,192.7 378.8,194.8 379.1,197.0 379.2,198.9 379.0,200.7 378.5,202.0 377.8,203.0 376.9,203.6 369.4,205.9 368.4,205.9 367.3,205.5 366.1,204.6 365.0,203.3 363.9,201.6 363.0,199.7 362.2,197.6 361.7,195.5 361.4,193.3 361.3,191.4 361.5,189.6 362.0,188.3 362.7,187.3"/><polygon points="522.5,140.1 545.5,132.0 546.7,131.8 547.9,132.1 549.2,132.7 550.4,133.6 551.5,134.9 552.5,136.5 553.3,138.2 553.8,140.0 554.1,141.9 554.1,143.6 553.8,145.1 553.2,146.4 552.4,147.4 551.5,148.0 528.7,156.9 527.5,157.1 526.2,156.9 524.9,156.3 523.6,155.2 522.4,153.9 521.4,152.2 520.5,150.4 520.0,148.5 519.7,146.5 519.7,144.7 520.0,143.1 520.6,141.7 521.4,140.7"/><polygon points="541.2,111.9 582.9,138.9 584.5,140.7 585.7,143.0 586.2,145.6 586.1,148.5 585.4,151.6 584.1,154.6 582.3,157.4 580.0,159.9 577.4,161.9 574.7,163.4 571.9,164.2 569.2,164.4 566.7,163.9 564.5,162.7 527.8,129.3 527.1,128.4 526.8,127.1 526.8,125.5 527.2,123.7 528.1,121.7 529.2,119.6 530.6,117.6 532.2,115.7 533.9,114.1 535.6,112.8 537.3,111.9 538.8,111.4 540.2,111.4"/><polygon points="593.0,156.3 683.4,218.0 685.1,219.7 686.2,221.9 686.8,224.5 686.8,227.4 686.1,230.4 684.9,233.4 683.2,236.2 681.0,238.7 678.5,240.8 675.9,242.3 673.1,243.2 670.4,243.4 668.0,242.9 665.8,241.8 580.0,174.1 579.6,173.4 579.5,172.3 579.8,170.9 580.4,169.2 581.3,167.3 582.5,165.3 583.8,163.2 585.4,161.3 586.9,159.6 588.5,158.1 589.9,157.1 591.2,156.4 592.3,156.1"/><polygon points="697.9,231.6 719.9,247.6 721.5,249.1 722.6,251.1 723.1,253.5 723.1,256.2 722.5,258.9 721.4,261.6 719.9,264.2 717.9,266.5 715.6,268.4 713.2,269.8 710.7,270.6 708.3,270.8 706.0,270.4 704.1,269.4 682.1,253.4 680.5,251.9 679.4,249.9 678.9,247.5 678.9,244.8 679.5,242.1 680.6,239.4 682.1,236.8 684.1,234.5 686.4,232.6 688.8,231.2 691.3,230.4 693.7,230.2 696.0,230.6"/><polygon points="730.0,259.8 831.4,333.0 833.3,335.0 834.6,337.6 835.2,340.6 835.1,343.9 834.2,347.3 832.7,350.7 830.7,353.9 828.1,356.7 825.2,359.0 822.1,360.6 818.9,361.6 815.8,361.8 813.0,361.2 810.6,359.8 714.6,279.6 714.2,278.8 714.1,277.6 714.5,276.0 715.2,274.1 716.3,271.9 717.7,269.7 719.3,267.4 721.1,265.3 723.0,263.3 724.8,261.7 726.5,260.5 727.9,259.8 729.1,259.6"/><path d="M845.6,347.1 L856.4,352.5 L868.1,365.1 L871.7,384 L866,396 L854.6,405.6 L842.6,412.1 L830.6,379.2 L836.6,375 L832.1,371.4 L827.6,366 Q828,352 845.6,347.1 Z"/><ellipse cx="836.6" cy="395.7" rx="10.0" ry="17.5" transform="rotate(-20.0 836.6 395.7)"/><polygon points="787.4,395.0 813.7,386.4 815.6,386.2 817.7,386.6 819.8,387.8 821.9,389.6 823.9,392.0 825.6,394.9 827.0,398.1 828.0,401.4 828.5,404.7 828.6,407.8 828.2,410.5 827.3,412.8 826.0,414.5 824.3,415.6 798.8,426.0 796.7,426.3 794.5,425.8 792.2,424.6 790.0,422.6 787.9,420.0 786.1,417.0 784.6,413.6 783.5,410.1 783.0,406.6 782.9,403.3 783.3,400.3 784.3,397.9 785.7,396.1"/><polygon points="728.4,400.1 738.2,409.5 738.8,410.4 739.0,411.5 738.9,412.9 738.4,414.4 737.6,416.0 736.6,417.6 735.2,419.1 733.8,420.5 732.2,421.6 730.7,422.5 729.2,423.0 727.8,423.2 726.6,423.0 725.8,422.5 716.0,413.1 715.4,412.2 715.2,411.1 715.3,409.7 715.8,408.2 716.6,406.6 717.6,405.0 719.0,403.5 720.4,402.1 722.0,401.0 723.5,400.1 725.0,399.6 726.4,399.4 727.6,399.6"/><polygon points="706.0,422.6 767.4,399.6 769.2,399.3 771.2,399.7 773.4,400.9 775.5,402.8 777.5,405.2 779.4,408.1 780.9,411.4 782.1,414.7 782.8,418.1 783.1,421.3 782.9,424.1 782.2,426.4 781.1,428.2 779.6,429.2 719.6,456.0 717.6,456.3 715.3,455.8 712.9,454.4 710.5,452.4 708.3,449.6 706.2,446.3 704.5,442.7 703.2,438.9 702.3,435.2 702.0,431.6 702.3,428.4 703.0,425.8 704.3,423.8"/><polygon points="754.9,423.5 769.5,435.4 770.7,436.7 771.5,438.3 771.8,440.3 771.6,442.4 771.0,444.6 770.0,446.7 768.6,448.8 766.9,450.5 765.0,452.0 762.9,453.0 760.9,453.6 758.9,453.7 757.2,453.3 755.7,452.4 741.1,440.5 739.9,439.2 739.1,437.6 738.8,435.6 739.0,433.5 739.6,431.3 740.6,429.2 742.0,427.1 743.7,425.4 745.6,423.9 747.7,422.9 749.7,422.3 751.7,422.2 753.4,422.6"/><polygon points="604.6,302.0 633.8,322.0 634.8,322.9 635.4,324.1 635.8,325.6 635.8,327.3 635.4,329.0 634.7,330.7 633.8,332.3 632.5,333.8 631.2,335.0 629.6,335.9 628.1,336.5 626.6,336.6 625.2,336.4 624.0,335.8 595.4,315.0 594.5,314.2 593.9,313.0 593.5,311.6 593.5,310.1 593.9,308.4 594.5,306.8 595.4,305.3 596.6,303.9 597.9,302.8 599.3,301.9 600.8,301.4 602.2,301.2 603.5,301.4"/><polygon points="641.4,331.2 665.8,347.1 666.9,348.5 667.5,350.2 667.7,352.1 667.5,354.2 666.7,356.4 665.6,358.5 664.1,360.5 662.3,362.1 660.4,363.5 658.3,364.4 656.2,364.9 654.2,364.9 652.5,364.4 651.0,363.5 632.6,340.8 632.0,340.0 631.6,339.0 631.5,337.9 631.6,336.6 632.1,335.3 632.7,334.1 633.6,333.0 634.7,332.0 635.8,331.2 637.1,330.6 638.3,330.3 639.5,330.3 640.5,330.6"/><polygon points="675.3,360.5 715.8,390.9 716.9,392.0 717.6,393.5 717.9,395.2 717.8,397.2 717.3,399.2 716.5,401.2 715.3,403.1 713.8,404.7 712.1,406.1 710.3,407.1 708.4,407.7 706.6,407.8 705.0,407.5 703.6,406.7 663.7,375.5 662.7,374.5 662.0,373.0 661.7,371.4 661.8,369.5 662.2,367.6 663.1,365.7 664.2,364.0 665.6,362.4 667.3,361.1 669.0,360.1 670.7,359.6 672.4,359.5 674.0,359.7"/><polygon points="349.2,280.0 449.0,249.2 473.5,271.0 373.4,301.3"/><polygon points="373.4,301.3 473.5,271.0 473.5,310.4 374.3,345.3"/><polygon points="349.2,280.0 373.4,301.3 374.3,345.3 352.1,322.6"/><path d="M319.4,338.2 Q322,318 343.6,309.8 L347.8,352.4 L325.4,369.5 L320.5,365 Z"/><polygon points="323.7,288.5 345.0,308.4 349.2,353.8 346.5,352.5 343.0,309.5 322.0,290.0"/><path d="M220,299.8 L264,285.6 L268.3,289.9 Q285,302 300,296 Q312,291 322.2,289.5 L343.6,308.4 Q322,316 319.4,336.8 L309.5,342.5 L276.8,352.4 Z"/><polygon points="220.0,299.8 276.8,352.4 278.2,396.5 221.4,342.5"/><polygon points="276.8,352.4 319.4,341.0 320.8,382.2 278.2,396.5"/><polygon points="315.5,393.4 362.7,377.5 425.6,438.6 376.4,452.3"/><polygon points="315.5,393.4 376.4,452.3 377.2,499.5 317.5,436.6"/><polygon points="376.4,452.3 425.6,438.6 426.7,481.8 377.2,499.5"/><polygon points="413.6,397.9 440.9,389.1 442.6,388.9 444.4,389.5 446.3,390.8 448.3,392.8 450.2,395.3 451.8,398.3 453.2,401.6 454.3,405.0 455.0,408.3 455.3,411.5 455.1,414.3 454.5,416.5 453.4,418.2 452.1,419.1 425.6,430.3 423.9,430.5 421.9,429.9 419.8,428.5 417.7,426.3 415.6,423.6 413.8,420.4 412.3,416.8 411.1,413.1 410.4,409.5 410.1,406.1 410.3,403.1 411.0,400.7 412.1,398.9"/><polygon points="459.3,380.8 547.6,352.3 549.0,352.2 550.5,352.9 552.2,354.2 553.9,356.1 555.5,358.6 556.9,361.4 558.2,364.5 559.1,367.7 559.7,370.9 560.0,373.8 559.9,376.4 559.4,378.4 558.6,379.9 557.4,380.7 470.5,413.0 468.9,413.1 467.1,412.3 465.3,410.8 463.4,408.7 461.5,405.9 459.9,402.6 458.5,399.1 457.4,395.5 456.7,391.9 456.4,388.6 456.5,385.7 457.1,383.4 458.0,381.7"/><path d="M422,489.8 Q440,506 469.5,511.4 Q500,515 528.5,505.2 L528.5,549.6 Q500,557 469.5,553.7 Q440,549 423.2,533.4 Z"/><path d="M422,489.4 L469.5,470.8 L472,475 Q485,484 499.6,476.6 L500.7,475.5 L528.5,504.4 Q500,515 469.5,511.4 Q440,506 422,489.4 Z"/><polygon points="500.7,474.0 530.5,503.5 530.5,550.5 528.0,549.6 528.0,505.0 499.0,476.6"/><polygon points="535.5,461.6 575.0,471.1 584.0,501.9 565.6,534.5 564.4,488.2"/><polygon points="575.0,471.1 590.5,466.6 592.0,466.6 593.6,467.4 595.3,468.9 597.0,471.0 598.6,473.7 600.0,476.8 601.1,480.2 602.0,483.7 602.5,487.1 602.6,490.2 602.3,492.9 601.7,495.1 600.7,496.6 599.5,497.4 584.0,501.9 582.5,501.9 580.9,501.1 579.2,499.6 577.5,497.5 575.9,494.8 574.5,491.7 573.4,488.3 572.5,484.8 572.0,481.4 571.9,478.3 572.2,475.6 572.8,473.4 573.8,471.9"/><polygon points="535.5,461.6 539.0,506.7 565.6,534.5 564.4,488.2"/><polygon points="604.1,460.7 691.5,430.8 692.9,430.7 694.6,431.4 696.3,432.7 698.1,434.7 699.8,437.3 701.4,440.2 702.7,443.5 703.7,446.8 704.4,450.1 704.7,453.1 704.7,455.8 704.2,458.0 703.3,459.5 702.1,460.4 615.9,493.3 614.3,493.4 612.5,492.7 610.5,491.2 608.6,489.0 606.7,486.2 605.0,482.9 603.5,479.4 602.3,475.7 601.6,472.1 601.2,468.7 601.3,465.7 601.9,463.4 602.8,461.7"/><polygon points="782.0,451.7 797.4,462.1 798.4,463.2 799.1,464.6 799.4,466.3 799.3,468.1 798.8,470.0 797.9,471.9 796.7,473.6 795.3,475.2 793.6,476.5 791.9,477.4 790.1,477.9 788.4,478.0 786.9,477.7 785.6,476.9 772.0,464.3 771.2,463.3 770.6,462.1 770.4,460.7 770.5,459.2 770.9,457.6 771.6,456.0 772.6,454.5 773.8,453.2 775.2,452.1 776.7,451.4 778.2,450.9 779.6,450.8 780.9,451.1"/><path d="M803,469 L811.5,472.5 L819.5,481 L822.6,493 L817.7,503.5 L809,511 L801.5,515.5 L794,492.5 L798,489 L795,485 L792.5,481 Q793,472 803,469 Z"/><ellipse cx="797.8" cy="504.0" rx="7.0" ry="12.0" transform="rotate(-20.0 797.8 504.0)"/><polygon points="712.5,526.3 776.3,498.2 777.3,498.1 778.4,498.4 779.6,499.2 780.9,500.5 782.2,502.1 783.4,504.0 784.4,506.1 785.3,508.3 785.9,510.4 786.3,512.4 786.3,514.2 786.1,515.7 785.6,516.8 784.9,517.4 721.5,546.3 720.5,546.5 719.3,546.1 718.0,545.3 716.7,544.0 715.3,542.3 714.1,540.3 713.0,538.1 712.1,535.8 711.4,533.6 711.1,531.4 711.0,529.6 711.2,528.0 711.7,526.9"/>
</g>
<g filter="url(#blur)" fill="#20262c" opacity="0.18" transform="translate(-8,10)">
<polygon points="88.5,116.0 102.2,129.7 104.2,156.3 101.0,158.5 99.5,132.0"/><polygon points="67.9,146.4 94.4,138.6 96.3,160.2 69.8,172.0"/><path d="M65.5,137.6 Q66.5,122 89.5,118.9 L100.3,129.7 L93.4,138.6 L68.8,146.4 Z"/><polygon points="65.5,137.6 68.8,146.4 69.8,172.0 67.0,164.0"/><polygon points="137.6,101.3 160.2,121.9 162.6,163.6 159.5,161.5 157.5,122.5 136.5,103.0"/><polygon points="106.2,112.1 137.6,102.2 158.2,121.9 122.9,123.9"/><polygon points="122.9,123.9 158.2,121.9 161.2,162.2 123.3,148.4"/><polygon points="106.2,112.1 122.9,124.8 122.9,150.4 108.1,137.6"/><path d="M162.2,95.4 L212.3,70.8 L233.9,89.5 L221.1,94.4 Q211,97 203,104 Q194,112 183.8,115 Z"/><path d="M183.8,115 Q194,112 203,104 Q211,97 221.1,94.4 L233.9,89.5 L235.8,130.7 L186.7,156.3 Z"/><polygon points="162.2,95.4 183.8,115.0 186.7,156.3 166.1,138.6"/><polygon points="94.0,169.6 122.8,160.5 175.0,212.8 145.0,219.4"/><polygon points="94.0,169.6 145.0,219.4 146.4,245.5 96.6,195.8"/><polygon points="145.0,219.4 175.0,212.8 175.0,233.8 146.4,245.5"/><polygon points="182.4,170.3 195.2,183.0 196.2,201.8 192.2,203.7 191.5,185.5 181.0,172.0"/><path d="M162.8,179.1 L182.4,171.3 L194.2,183 Q184,184.5 181.4,188.9 L173.6,187 Z"/><path d="M173.6,187 L181.4,188.9 Q184,184.5 192,185 L192.2,203.7 Q183,203 179.5,208.6 L175.5,207.6 Z"/><polygon points="162.8,179.1 173.6,187.0 175.5,207.6 164.7,196.8"/><polygon points="197.2,167.3 288.5,140.8 301.3,152.6 208.5,176.2"/><polygon points="208.5,176.2 301.3,152.6 301.3,170.3 209.9,197.8"/><polygon points="197.2,167.3 208.5,176.2 209.9,197.8 199.1,188.0"/><polygon points="304.2,135.9 318.0,147.7 318.6,166.3 305.2,155.5"/><polygon points="171.2,243.7 201.6,234.9 232.1,248.8 187.7,260.2"/><polygon points="187.7,260.2 232.1,248.8 232.6,289.4 190.2,303.3"/><polygon points="171.2,243.7 187.7,260.2 190.2,303.3 172.5,270.4"/><polygon points="238.5,61.2 271.7,73.0 281.3,99.4 262.6,124.5 261.1,81.8"/><polygon points="271.7,73.0 285.7,67.9 287.0,67.8 288.5,68.4 290.0,69.6 291.6,71.4 293.2,73.7 294.6,76.3 295.8,79.2 296.7,82.2 297.3,85.1 297.6,87.8 297.5,90.2 297.1,92.1 296.3,93.5 295.3,94.3 281.3,99.4 280.0,99.5 278.5,98.9 277.0,97.7 275.4,95.9 273.8,93.6 272.4,91.0 271.2,88.1 270.3,85.1 269.7,82.2 269.4,79.5 269.5,77.1 269.9,75.2 270.7,73.8"/><polygon points="238.5,61.2 240.5,105.4 262.6,124.5 261.1,81.8"/><polygon points="297.8,65.5 381.7,42.1 382.9,42.1 384.2,42.7 385.5,43.9 386.9,45.5 388.1,47.7 389.2,50.1 390.1,52.8 390.8,55.5 391.2,58.2 391.3,60.6 391.1,62.8 390.6,64.5 389.9,65.7 388.9,66.3 305.8,92.3 304.5,92.3 303.0,91.7 301.6,90.4 300.1,88.5 298.7,86.2 297.4,83.4 296.4,80.5 295.7,77.5 295.2,74.5 295.1,71.8 295.3,69.4 295.9,67.5 296.7,66.2"/><path d="M396.7,36.2 L414.7,32.8 L432.7,33.5 L451.7,38.9 L464.3,48.8 L467,58 L446,72.5 L437.3,67.7 L429.1,63.2 L417.4,62.3 L405.7,65 Z"/><ellipse cx="400.3" cy="49.7" rx="6.5" ry="14.4" transform="rotate(-20.0 400.3 49.7)"/><ellipse cx="454.0" cy="57.5" rx="9.5" ry="15.5" transform="rotate(40.0 454.0 57.5)"/><polygon points="374.1,114.3 424.9,98.4 425.7,98.4 426.5,98.7 427.4,99.4 428.3,100.5 429.1,101.8 429.9,103.3 430.5,105.0 431.0,106.7 431.3,108.4 431.5,109.9 431.4,111.3 431.1,112.4 430.7,113.2 430.1,113.6 379.9,131.7 379.1,131.8 378.1,131.4 377.1,130.5 376.1,129.4 375.1,127.8 374.3,126.1 373.5,124.2 372.9,122.2 372.6,120.3 372.4,118.5 372.5,116.9 372.8,115.7 373.4,114.8"/><polygon points="448.0,81.0 451.5,92.0 458.0,96.5 473.5,98.0 476.5,102.5 467.0,105.5 476.5,116.0 470.0,114.8 459.0,108.5 452.0,115.0 446.0,110.0 443.5,96.0"/><polygon points="435.8,96.6 448.3,92.1 449.4,91.9 450.5,92.2 451.8,93.0 453.0,94.2 454.1,95.7 455.1,97.4 456.0,99.4 456.6,101.4 456.9,103.4 457.0,105.3 456.8,107.0 456.3,108.4 455.6,109.4 454.7,109.9 442.2,114.4 441.1,114.6 440.0,114.3 438.7,113.5 437.5,112.3 436.4,110.8 435.4,109.1 434.5,107.1 433.9,105.1 433.6,103.1 433.5,101.2 433.7,99.5 434.2,98.1 434.9,97.1"/><polygon points="473.9,60.2 528.6,96.9 530.2,98.6 531.3,100.8 531.9,103.3 531.8,106.2 531.1,109.1 529.8,112.0 528.1,114.7 525.9,117.1 523.5,119.1 520.8,120.5 518.1,121.4 515.5,121.5 513.1,121.0 511.0,119.9 461.1,76.8 460.7,76.2 460.7,75.2 461.0,73.8 461.6,72.2 462.5,70.4 463.6,68.5 465.0,66.6 466.5,64.8 468.0,63.2 469.5,61.8 470.9,60.8 472.2,60.1 473.2,59.9"/><polygon points="382.3,182.1 508.7,142.4 509.6,142.4 510.5,142.8 511.6,143.7 512.6,145.0 513.6,146.6 514.4,148.5 515.2,150.5 515.7,152.5 516.0,154.6 516.1,156.4 516.0,158.1 515.6,159.4 515.1,160.3 514.3,160.8 387.7,199.3 386.8,199.3 385.9,198.9 384.9,198.1 384.0,196.9 383.1,195.4 382.2,193.6 381.6,191.8 381.1,189.8 380.7,187.9 380.7,186.2 380.8,184.6 381.1,183.4 381.6,182.6"/><polygon points="363.6,186.7 371.1,184.4 372.1,184.4 373.2,184.8 374.4,185.7 375.5,187.0 376.6,188.7 377.5,190.6 378.3,192.7 378.8,194.8 379.1,197.0 379.2,198.9 379.0,200.7 378.5,202.0 377.8,203.0 376.9,203.6 369.4,205.9 368.4,205.9 367.3,205.5 366.1,204.6 365.0,203.3 363.9,201.6 363.0,199.7 362.2,197.6 361.7,195.5 361.4,193.3 361.3,191.4 361.5,189.6 362.0,188.3 362.7,187.3"/><polygon points="522.5,140.1 545.5,132.0 546.7,131.8 547.9,132.1 549.2,132.7 550.4,133.6 551.5,134.9 552.5,136.5 553.3,138.2 553.8,140.0 554.1,141.9 554.1,143.6 553.8,145.1 553.2,146.4 552.4,147.4 551.5,148.0 528.7,156.9 527.5,157.1 526.2,156.9 524.9,156.3 523.6,155.2 522.4,153.9 521.4,152.2 520.5,150.4 520.0,148.5 519.7,146.5 519.7,144.7 520.0,143.1 520.6,141.7 521.4,140.7"/><polygon points="541.2,111.9 582.9,138.9 584.5,140.7 585.7,143.0 586.2,145.6 586.1,148.5 585.4,151.6 584.1,154.6 582.3,157.4 580.0,159.9 577.4,161.9 574.7,163.4 571.9,164.2 569.2,164.4 566.7,163.9 564.5,162.7 527.8,129.3 527.1,128.4 526.8,127.1 526.8,125.5 527.2,123.7 528.1,121.7 529.2,119.6 530.6,117.6 532.2,115.7 533.9,114.1 535.6,112.8 537.3,111.9 538.8,111.4 540.2,111.4"/><polygon points="593.0,156.3 683.4,218.0 685.1,219.7 686.2,221.9 686.8,224.5 686.8,227.4 686.1,230.4 684.9,233.4 683.2,236.2 681.0,238.7 678.5,240.8 675.9,242.3 673.1,243.2 670.4,243.4 668.0,242.9 665.8,241.8 580.0,174.1 579.6,173.4 579.5,172.3 579.8,170.9 580.4,169.2 581.3,167.3 582.5,165.3 583.8,163.2 585.4,161.3 586.9,159.6 588.5,158.1 589.9,157.1 591.2,156.4 592.3,156.1"/><polygon points="697.9,231.6 719.9,247.6 721.5,249.1 722.6,251.1 723.1,253.5 723.1,256.2 722.5,258.9 721.4,261.6 719.9,264.2 717.9,266.5 715.6,268.4 713.2,269.8 710.7,270.6 708.3,270.8 706.0,270.4 704.1,269.4 682.1,253.4 680.5,251.9 679.4,249.9 678.9,247.5 678.9,244.8 679.5,242.1 680.6,239.4 682.1,236.8 684.1,234.5 686.4,232.6 688.8,231.2 691.3,230.4 693.7,230.2 696.0,230.6"/><polygon points="730.0,259.8 831.4,333.0 833.3,335.0 834.6,337.6 835.2,340.6 835.1,343.9 834.2,347.3 832.7,350.7 830.7,353.9 828.1,356.7 825.2,359.0 822.1,360.6 818.9,361.6 815.8,361.8 813.0,361.2 810.6,359.8 714.6,279.6 714.2,278.8 714.1,277.6 714.5,276.0 715.2,274.1 716.3,271.9 717.7,269.7 719.3,267.4 721.1,265.3 723.0,263.3 724.8,261.7 726.5,260.5 727.9,259.8 729.1,259.6"/><path d="M845.6,347.1 L856.4,352.5 L868.1,365.1 L871.7,384 L866,396 L854.6,405.6 L842.6,412.1 L830.6,379.2 L836.6,375 L832.1,371.4 L827.6,366 Q828,352 845.6,347.1 Z"/><ellipse cx="836.6" cy="395.7" rx="10.0" ry="17.5" transform="rotate(-20.0 836.6 395.7)"/><polygon points="787.4,395.0 813.7,386.4 815.6,386.2 817.7,386.6 819.8,387.8 821.9,389.6 823.9,392.0 825.6,394.9 827.0,398.1 828.0,401.4 828.5,404.7 828.6,407.8 828.2,410.5 827.3,412.8 826.0,414.5 824.3,415.6 798.8,426.0 796.7,426.3 794.5,425.8 792.2,424.6 790.0,422.6 787.9,420.0 786.1,417.0 784.6,413.6 783.5,410.1 783.0,406.6 782.9,403.3 783.3,400.3 784.3,397.9 785.7,396.1"/><polygon points="728.4,400.1 738.2,409.5 738.8,410.4 739.0,411.5 738.9,412.9 738.4,414.4 737.6,416.0 736.6,417.6 735.2,419.1 733.8,420.5 732.2,421.6 730.7,422.5 729.2,423.0 727.8,423.2 726.6,423.0 725.8,422.5 716.0,413.1 715.4,412.2 715.2,411.1 715.3,409.7 715.8,408.2 716.6,406.6 717.6,405.0 719.0,403.5 720.4,402.1 722.0,401.0 723.5,400.1 725.0,399.6 726.4,399.4 727.6,399.6"/><polygon points="706.0,422.6 767.4,399.6 769.2,399.3 771.2,399.7 773.4,400.9 775.5,402.8 777.5,405.2 779.4,408.1 780.9,411.4 782.1,414.7 782.8,418.1 783.1,421.3 782.9,424.1 782.2,426.4 781.1,428.2 779.6,429.2 719.6,456.0 717.6,456.3 715.3,455.8 712.9,454.4 710.5,452.4 708.3,449.6 706.2,446.3 704.5,442.7 703.2,438.9 702.3,435.2 702.0,431.6 702.3,428.4 703.0,425.8 704.3,423.8"/><polygon points="754.9,423.5 769.5,435.4 770.7,436.7 771.5,438.3 771.8,440.3 771.6,442.4 771.0,444.6 770.0,446.7 768.6,448.8 766.9,450.5 765.0,452.0 762.9,453.0 760.9,453.6 758.9,453.7 757.2,453.3 755.7,452.4 741.1,440.5 739.9,439.2 739.1,437.6 738.8,435.6 739.0,433.5 739.6,431.3 740.6,429.2 742.0,427.1 743.7,425.4 745.6,423.9 747.7,422.9 749.7,422.3 751.7,422.2 753.4,422.6"/><polygon points="604.6,302.0 633.8,322.0 634.8,322.9 635.4,324.1 635.8,325.6 635.8,327.3 635.4,329.0 634.7,330.7 633.8,332.3 632.5,333.8 631.2,335.0 629.6,335.9 628.1,336.5 626.6,336.6 625.2,336.4 624.0,335.8 595.4,315.0 594.5,314.2 593.9,313.0 593.5,311.6 593.5,310.1 593.9,308.4 594.5,306.8 595.4,305.3 596.6,303.9 597.9,302.8 599.3,301.9 600.8,301.4 602.2,301.2 603.5,301.4"/><polygon points="641.4,331.2 665.8,347.1 666.9,348.5 667.5,350.2 667.7,352.1 667.5,354.2 666.7,356.4 665.6,358.5 664.1,360.5 662.3,362.1 660.4,363.5 658.3,364.4 656.2,364.9 654.2,364.9 652.5,364.4 651.0,363.5 632.6,340.8 632.0,340.0 631.6,339.0 631.5,337.9 631.6,336.6 632.1,335.3 632.7,334.1 633.6,333.0 634.7,332.0 635.8,331.2 637.1,330.6 638.3,330.3 639.5,330.3 640.5,330.6"/><polygon points="675.3,360.5 715.8,390.9 716.9,392.0 717.6,393.5 717.9,395.2 717.8,397.2 717.3,399.2 716.5,401.2 715.3,403.1 713.8,404.7 712.1,406.1 710.3,407.1 708.4,407.7 706.6,407.8 705.0,407.5 703.6,406.7 663.7,375.5 662.7,374.5 662.0,373.0 661.7,371.4 661.8,369.5 662.2,367.6 663.1,365.7 664.2,364.0 665.6,362.4 667.3,361.1 669.0,360.1 670.7,359.6 672.4,359.5 674.0,359.7"/><polygon points="349.2,280.0 449.0,249.2 473.5,271.0 373.4,301.3"/><polygon points="373.4,301.3 473.5,271.0 473.5,310.4 374.3,345.3"/><polygon points="349.2,280.0 373.4,301.3 374.3,345.3 352.1,322.6"/><path d="M319.4,338.2 Q322,318 343.6,309.8 L347.8,352.4 L325.4,369.5 L320.5,365 Z"/><polygon points="323.7,288.5 345.0,308.4 349.2,353.8 346.5,352.5 343.0,309.5 322.0,290.0"/><path d="M220,299.8 L264,285.6 L268.3,289.9 Q285,302 300,296 Q312,291 322.2,289.5 L343.6,308.4 Q322,316 319.4,336.8 L309.5,342.5 L276.8,352.4 Z"/><polygon points="220.0,299.8 276.8,352.4 278.2,396.5 221.4,342.5"/><polygon points="276.8,352.4 319.4,341.0 320.8,382.2 278.2,396.5"/><polygon points="315.5,393.4 362.7,377.5 425.6,438.6 376.4,452.3"/><polygon points="315.5,393.4 376.4,452.3 377.2,499.5 317.5,436.6"/><polygon points="376.4,452.3 425.6,438.6 426.7,481.8 377.2,499.5"/><polygon points="413.6,397.9 440.9,389.1 442.6,388.9 444.4,389.5 446.3,390.8 448.3,392.8 450.2,395.3 451.8,398.3 453.2,401.6 454.3,405.0 455.0,408.3 455.3,411.5 455.1,414.3 454.5,416.5 453.4,418.2 452.1,419.1 425.6,430.3 423.9,430.5 421.9,429.9 419.8,428.5 417.7,426.3 415.6,423.6 413.8,420.4 412.3,416.8 411.1,413.1 410.4,409.5 410.1,406.1 410.3,403.1 411.0,400.7 412.1,398.9"/><polygon points="459.3,380.8 547.6,352.3 549.0,352.2 550.5,352.9 552.2,354.2 553.9,356.1 555.5,358.6 556.9,361.4 558.2,364.5 559.1,367.7 559.7,370.9 560.0,373.8 559.9,376.4 559.4,378.4 558.6,379.9 557.4,380.7 470.5,413.0 468.9,413.1 467.1,412.3 465.3,410.8 463.4,408.7 461.5,405.9 459.9,402.6 458.5,399.1 457.4,395.5 456.7,391.9 456.4,388.6 456.5,385.7 457.1,383.4 458.0,381.7"/><path d="M422,489.8 Q440,506 469.5,511.4 Q500,515 528.5,505.2 L528.5,549.6 Q500,557 469.5,553.7 Q440,549 423.2,533.4 Z"/><path d="M422,489.4 L469.5,470.8 L472,475 Q485,484 499.6,476.6 L500.7,475.5 L528.5,504.4 Q500,515 469.5,511.4 Q440,506 422,489.4 Z"/><polygon points="500.7,474.0 530.5,503.5 530.5,550.5 528.0,549.6 528.0,505.0 499.0,476.6"/><polygon points="535.5,461.6 575.0,471.1 584.0,501.9 565.6,534.5 564.4,488.2"/><polygon points="575.0,471.1 590.5,466.6 592.0,466.6 593.6,467.4 595.3,468.9 597.0,471.0 598.6,473.7 600.0,476.8 601.1,480.2 602.0,483.7 602.5,487.1 602.6,490.2 602.3,492.9 601.7,495.1 600.7,496.6 599.5,497.4 584.0,501.9 582.5,501.9 580.9,501.1 579.2,499.6 577.5,497.5 575.9,494.8 574.5,491.7 573.4,488.3 572.5,484.8 572.0,481.4 571.9,478.3 572.2,475.6 572.8,473.4 573.8,471.9"/><polygon points="535.5,461.6 539.0,506.7 565.6,534.5 564.4,488.2"/><polygon points="604.1,460.7 691.5,430.8 692.9,430.7 694.6,431.4 696.3,432.7 698.1,434.7 699.8,437.3 701.4,440.2 702.7,443.5 703.7,446.8 704.4,450.1 704.7,453.1 704.7,455.8 704.2,458.0 703.3,459.5 702.1,460.4 615.9,493.3 614.3,493.4 612.5,492.7 610.5,491.2 608.6,489.0 606.7,486.2 605.0,482.9 603.5,479.4 602.3,475.7 601.6,472.1 601.2,468.7 601.3,465.7 601.9,463.4 602.8,461.7"/><polygon points="782.0,451.7 797.4,462.1 798.4,463.2 799.1,464.6 799.4,466.3 799.3,468.1 798.8,470.0 797.9,471.9 796.7,473.6 795.3,475.2 793.6,476.5 791.9,477.4 790.1,477.9 788.4,478.0 786.9,477.7 785.6,476.9 772.0,464.3 771.2,463.3 770.6,462.1 770.4,460.7 770.5,459.2 770.9,457.6 771.6,456.0 772.6,454.5 773.8,453.2 775.2,452.1 776.7,451.4 778.2,450.9 779.6,450.8 780.9,451.1"/><path d="M803,469 L811.5,472.5 L819.5,481 L822.6,493 L817.7,503.5 L809,511 L801.5,515.5 L794,492.5 L798,489 L795,485 L792.5,481 Q793,472 803,469 Z"/><ellipse cx="797.8" cy="504.0" rx="7.0" ry="12.0" transform="rotate(-20.0 797.8 504.0)"/><polygon points="712.5,526.3 776.3,498.2 777.3,498.1 778.4,498.4 779.6,499.2 780.9,500.5 782.2,502.1 783.4,504.0 784.4,506.1 785.3,508.3 785.9,510.4 786.3,512.4 786.3,514.2 786.1,515.7 785.6,516.8 784.9,517.4 721.5,546.3 720.5,546.5 719.3,546.1 718.0,545.3 716.7,544.0 715.3,542.3 714.1,540.3 713.0,538.1 712.1,535.8 711.4,533.6 711.1,531.4 711.0,529.6 711.2,528.0 711.7,526.9"/>
</g>
<g filter="url(#blur2)" fill="#20262c" opacity="0.13" transform="translate(-2,3)">
<polygon points="88.5,116.0 102.2,129.7 104.2,156.3 101.0,158.5 99.5,132.0"/><polygon points="67.9,146.4 94.4,138.6 96.3,160.2 69.8,172.0"/><path d="M65.5,137.6 Q66.5,122 89.5,118.9 L100.3,129.7 L93.4,138.6 L68.8,146.4 Z"/><polygon points="65.5,137.6 68.8,146.4 69.8,172.0 67.0,164.0"/><polygon points="137.6,101.3 160.2,121.9 162.6,163.6 159.5,161.5 157.5,122.5 136.5,103.0"/><polygon points="106.2,112.1 137.6,102.2 158.2,121.9 122.9,123.9"/><polygon points="122.9,123.9 158.2,121.9 161.2,162.2 123.3,148.4"/><polygon points="106.2,112.1 122.9,124.8 122.9,150.4 108.1,137.6"/><path d="M162.2,95.4 L212.3,70.8 L233.9,89.5 L221.1,94.4 Q211,97 203,104 Q194,112 183.8,115 Z"/><path d="M183.8,115 Q194,112 203,104 Q211,97 221.1,94.4 L233.9,89.5 L235.8,130.7 L186.7,156.3 Z"/><polygon points="162.2,95.4 183.8,115.0 186.7,156.3 166.1,138.6"/><polygon points="94.0,169.6 122.8,160.5 175.0,212.8 145.0,219.4"/><polygon points="94.0,169.6 145.0,219.4 146.4,245.5 96.6,195.8"/><polygon points="145.0,219.4 175.0,212.8 175.0,233.8 146.4,245.5"/><polygon points="182.4,170.3 195.2,183.0 196.2,201.8 192.2,203.7 191.5,185.5 181.0,172.0"/><path d="M162.8,179.1 L182.4,171.3 L194.2,183 Q184,184.5 181.4,188.9 L173.6,187 Z"/><path d="M173.6,187 L181.4,188.9 Q184,184.5 192,185 L192.2,203.7 Q183,203 179.5,208.6 L175.5,207.6 Z"/><polygon points="162.8,179.1 173.6,187.0 175.5,207.6 164.7,196.8"/><polygon points="197.2,167.3 288.5,140.8 301.3,152.6 208.5,176.2"/><polygon points="208.5,176.2 301.3,152.6 301.3,170.3 209.9,197.8"/><polygon points="197.2,167.3 208.5,176.2 209.9,197.8 199.1,188.0"/><polygon points="304.2,135.9 318.0,147.7 318.6,166.3 305.2,155.5"/><polygon points="171.2,243.7 201.6,234.9 232.1,248.8 187.7,260.2"/><polygon points="187.7,260.2 232.1,248.8 232.6,289.4 190.2,303.3"/><polygon points="171.2,243.7 187.7,260.2 190.2,303.3 172.5,270.4"/><polygon points="238.5,61.2 271.7,73.0 281.3,99.4 262.6,124.5 261.1,81.8"/><polygon points="271.7,73.0 285.7,67.9 287.0,67.8 288.5,68.4 290.0,69.6 291.6,71.4 293.2,73.7 294.6,76.3 295.8,79.2 296.7,82.2 297.3,85.1 297.6,87.8 297.5,90.2 297.1,92.1 296.3,93.5 295.3,94.3 281.3,99.4 280.0,99.5 278.5,98.9 277.0,97.7 275.4,95.9 273.8,93.6 272.4,91.0 271.2,88.1 270.3,85.1 269.7,82.2 269.4,79.5 269.5,77.1 269.9,75.2 270.7,73.8"/><polygon points="238.5,61.2 240.5,105.4 262.6,124.5 261.1,81.8"/><polygon points="297.8,65.5 381.7,42.1 382.9,42.1 384.2,42.7 385.5,43.9 386.9,45.5 388.1,47.7 389.2,50.1 390.1,52.8 390.8,55.5 391.2,58.2 391.3,60.6 391.1,62.8 390.6,64.5 389.9,65.7 388.9,66.3 305.8,92.3 304.5,92.3 303.0,91.7 301.6,90.4 300.1,88.5 298.7,86.2 297.4,83.4 296.4,80.5 295.7,77.5 295.2,74.5 295.1,71.8 295.3,69.4 295.9,67.5 296.7,66.2"/><path d="M396.7,36.2 L414.7,32.8 L432.7,33.5 L451.7,38.9 L464.3,48.8 L467,58 L446,72.5 L437.3,67.7 L429.1,63.2 L417.4,62.3 L405.7,65 Z"/><ellipse cx="400.3" cy="49.7" rx="6.5" ry="14.4" transform="rotate(-20.0 400.3 49.7)"/><ellipse cx="454.0" cy="57.5" rx="9.5" ry="15.5" transform="rotate(40.0 454.0 57.5)"/><polygon points="374.1,114.3 424.9,98.4 425.7,98.4 426.5,98.7 427.4,99.4 428.3,100.5 429.1,101.8 429.9,103.3 430.5,105.0 431.0,106.7 431.3,108.4 431.5,109.9 431.4,111.3 431.1,112.4 430.7,113.2 430.1,113.6 379.9,131.7 379.1,131.8 378.1,131.4 377.1,130.5 376.1,129.4 375.1,127.8 374.3,126.1 373.5,124.2 372.9,122.2 372.6,120.3 372.4,118.5 372.5,116.9 372.8,115.7 373.4,114.8"/><polygon points="448.0,81.0 451.5,92.0 458.0,96.5 473.5,98.0 476.5,102.5 467.0,105.5 476.5,116.0 470.0,114.8 459.0,108.5 452.0,115.0 446.0,110.0 443.5,96.0"/><polygon points="435.8,96.6 448.3,92.1 449.4,91.9 450.5,92.2 451.8,93.0 453.0,94.2 454.1,95.7 455.1,97.4 456.0,99.4 456.6,101.4 456.9,103.4 457.0,105.3 456.8,107.0 456.3,108.4 455.6,109.4 454.7,109.9 442.2,114.4 441.1,114.6 440.0,114.3 438.7,113.5 437.5,112.3 436.4,110.8 435.4,109.1 434.5,107.1 433.9,105.1 433.6,103.1 433.5,101.2 433.7,99.5 434.2,98.1 434.9,97.1"/><polygon points="473.9,60.2 528.6,96.9 530.2,98.6 531.3,100.8 531.9,103.3 531.8,106.2 531.1,109.1 529.8,112.0 528.1,114.7 525.9,117.1 523.5,119.1 520.8,120.5 518.1,121.4 515.5,121.5 513.1,121.0 511.0,119.9 461.1,76.8 460.7,76.2 460.7,75.2 461.0,73.8 461.6,72.2 462.5,70.4 463.6,68.5 465.0,66.6 466.5,64.8 468.0,63.2 469.5,61.8 470.9,60.8 472.2,60.1 473.2,59.9"/><polygon points="382.3,182.1 508.7,142.4 509.6,142.4 510.5,142.8 511.6,143.7 512.6,145.0 513.6,146.6 514.4,148.5 515.2,150.5 515.7,152.5 516.0,154.6 516.1,156.4 516.0,158.1 515.6,159.4 515.1,160.3 514.3,160.8 387.7,199.3 386.8,199.3 385.9,198.9 384.9,198.1 384.0,196.9 383.1,195.4 382.2,193.6 381.6,191.8 381.1,189.8 380.7,187.9 380.7,186.2 380.8,184.6 381.1,183.4 381.6,182.6"/><polygon points="363.6,186.7 371.1,184.4 372.1,184.4 373.2,184.8 374.4,185.7 375.5,187.0 376.6,188.7 377.5,190.6 378.3,192.7 378.8,194.8 379.1,197.0 379.2,198.9 379.0,200.7 378.5,202.0 377.8,203.0 376.9,203.6 369.4,205.9 368.4,205.9 367.3,205.5 366.1,204.6 365.0,203.3 363.9,201.6 363.0,199.7 362.2,197.6 361.7,195.5 361.4,193.3 361.3,191.4 361.5,189.6 362.0,188.3 362.7,187.3"/><polygon points="522.5,140.1 545.5,132.0 546.7,131.8 547.9,132.1 549.2,132.7 550.4,133.6 551.5,134.9 552.5,136.5 553.3,138.2 553.8,140.0 554.1,141.9 554.1,143.6 553.8,145.1 553.2,146.4 552.4,147.4 551.5,148.0 528.7,156.9 527.5,157.1 526.2,156.9 524.9,156.3 523.6,155.2 522.4,153.9 521.4,152.2 520.5,150.4 520.0,148.5 519.7,146.5 519.7,144.7 520.0,143.1 520.6,141.7 521.4,140.7"/><polygon points="541.2,111.9 582.9,138.9 584.5,140.7 585.7,143.0 586.2,145.6 586.1,148.5 585.4,151.6 584.1,154.6 582.3,157.4 580.0,159.9 577.4,161.9 574.7,163.4 571.9,164.2 569.2,164.4 566.7,163.9 564.5,162.7 527.8,129.3 527.1,128.4 526.8,127.1 526.8,125.5 527.2,123.7 528.1,121.7 529.2,119.6 530.6,117.6 532.2,115.7 533.9,114.1 535.6,112.8 537.3,111.9 538.8,111.4 540.2,111.4"/><polygon points="593.0,156.3 683.4,218.0 685.1,219.7 686.2,221.9 686.8,224.5 686.8,227.4 686.1,230.4 684.9,233.4 683.2,236.2 681.0,238.7 678.5,240.8 675.9,242.3 673.1,243.2 670.4,243.4 668.0,242.9 665.8,241.8 580.0,174.1 579.6,173.4 579.5,172.3 579.8,170.9 580.4,169.2 581.3,167.3 582.5,165.3 583.8,163.2 585.4,161.3 586.9,159.6 588.5,158.1 589.9,157.1 591.2,156.4 592.3,156.1"/><polygon points="697.9,231.6 719.9,247.6 721.5,249.1 722.6,251.1 723.1,253.5 723.1,256.2 722.5,258.9 721.4,261.6 719.9,264.2 717.9,266.5 715.6,268.4 713.2,269.8 710.7,270.6 708.3,270.8 706.0,270.4 704.1,269.4 682.1,253.4 680.5,251.9 679.4,249.9 678.9,247.5 678.9,244.8 679.5,242.1 680.6,239.4 682.1,236.8 684.1,234.5 686.4,232.6 688.8,231.2 691.3,230.4 693.7,230.2 696.0,230.6"/><polygon points="730.0,259.8 831.4,333.0 833.3,335.0 834.6,337.6 835.2,340.6 835.1,343.9 834.2,347.3 832.7,350.7 830.7,353.9 828.1,356.7 825.2,359.0 822.1,360.6 818.9,361.6 815.8,361.8 813.0,361.2 810.6,359.8 714.6,279.6 714.2,278.8 714.1,277.6 714.5,276.0 715.2,274.1 716.3,271.9 717.7,269.7 719.3,267.4 721.1,265.3 723.0,263.3 724.8,261.7 726.5,260.5 727.9,259.8 729.1,259.6"/><path d="M845.6,347.1 L856.4,352.5 L868.1,365.1 L871.7,384 L866,396 L854.6,405.6 L842.6,412.1 L830.6,379.2 L836.6,375 L832.1,371.4 L827.6,366 Q828,352 845.6,347.1 Z"/><ellipse cx="836.6" cy="395.7" rx="10.0" ry="17.5" transform="rotate(-20.0 836.6 395.7)"/><polygon points="787.4,395.0 813.7,386.4 815.6,386.2 817.7,386.6 819.8,387.8 821.9,389.6 823.9,392.0 825.6,394.9 827.0,398.1 828.0,401.4 828.5,404.7 828.6,407.8 828.2,410.5 827.3,412.8 826.0,414.5 824.3,415.6 798.8,426.0 796.7,426.3 794.5,425.8 792.2,424.6 790.0,422.6 787.9,420.0 786.1,417.0 784.6,413.6 783.5,410.1 783.0,406.6 782.9,403.3 783.3,400.3 784.3,397.9 785.7,396.1"/><polygon points="728.4,400.1 738.2,409.5 738.8,410.4 739.0,411.5 738.9,412.9 738.4,414.4 737.6,416.0 736.6,417.6 735.2,419.1 733.8,420.5 732.2,421.6 730.7,422.5 729.2,423.0 727.8,423.2 726.6,423.0 725.8,422.5 716.0,413.1 715.4,412.2 715.2,411.1 715.3,409.7 715.8,408.2 716.6,406.6 717.6,405.0 719.0,403.5 720.4,402.1 722.0,401.0 723.5,400.1 725.0,399.6 726.4,399.4 727.6,399.6"/><polygon points="706.0,422.6 767.4,399.6 769.2,399.3 771.2,399.7 773.4,400.9 775.5,402.8 777.5,405.2 779.4,408.1 780.9,411.4 782.1,414.7 782.8,418.1 783.1,421.3 782.9,424.1 782.2,426.4 781.1,428.2 779.6,429.2 719.6,456.0 717.6,456.3 715.3,455.8 712.9,454.4 710.5,452.4 708.3,449.6 706.2,446.3 704.5,442.7 703.2,438.9 702.3,435.2 702.0,431.6 702.3,428.4 703.0,425.8 704.3,423.8"/><polygon points="754.9,423.5 769.5,435.4 770.7,436.7 771.5,438.3 771.8,440.3 771.6,442.4 771.0,444.6 770.0,446.7 768.6,448.8 766.9,450.5 765.0,452.0 762.9,453.0 760.9,453.6 758.9,453.7 757.2,453.3 755.7,452.4 741.1,440.5 739.9,439.2 739.1,437.6 738.8,435.6 739.0,433.5 739.6,431.3 740.6,429.2 742.0,427.1 743.7,425.4 745.6,423.9 747.7,422.9 749.7,422.3 751.7,422.2 753.4,422.6"/><polygon points="604.6,302.0 633.8,322.0 634.8,322.9 635.4,324.1 635.8,325.6 635.8,327.3 635.4,329.0 634.7,330.7 633.8,332.3 632.5,333.8 631.2,335.0 629.6,335.9 628.1,336.5 626.6,336.6 625.2,336.4 624.0,335.8 595.4,315.0 594.5,314.2 593.9,313.0 593.5,311.6 593.5,310.1 593.9,308.4 594.5,306.8 595.4,305.3 596.6,303.9 597.9,302.8 599.3,301.9 600.8,301.4 602.2,301.2 603.5,301.4"/><polygon points="641.4,331.2 665.8,347.1 666.9,348.5 667.5,350.2 667.7,352.1 667.5,354.2 666.7,356.4 665.6,358.5 664.1,360.5 662.3,362.1 660.4,363.5 658.3,364.4 656.2,364.9 654.2,364.9 652.5,364.4 651.0,363.5 632.6,340.8 632.0,340.0 631.6,339.0 631.5,337.9 631.6,336.6 632.1,335.3 632.7,334.1 633.6,333.0 634.7,332.0 635.8,331.2 637.1,330.6 638.3,330.3 639.5,330.3 640.5,330.6"/><polygon points="675.3,360.5 715.8,390.9 716.9,392.0 717.6,393.5 717.9,395.2 717.8,397.2 717.3,399.2 716.5,401.2 715.3,403.1 713.8,404.7 712.1,406.1 710.3,407.1 708.4,407.7 706.6,407.8 705.0,407.5 703.6,406.7 663.7,375.5 662.7,374.5 662.0,373.0 661.7,371.4 661.8,369.5 662.2,367.6 663.1,365.7 664.2,364.0 665.6,362.4 667.3,361.1 669.0,360.1 670.7,359.6 672.4,359.5 674.0,359.7"/><polygon points="349.2,280.0 449.0,249.2 473.5,271.0 373.4,301.3"/><polygon points="373.4,301.3 473.5,271.0 473.5,310.4 374.3,345.3"/><polygon points="349.2,280.0 373.4,301.3 374.3,345.3 352.1,322.6"/><path d="M319.4,338.2 Q322,318 343.6,309.8 L347.8,352.4 L325.4,369.5 L320.5,365 Z"/><polygon points="323.7,288.5 345.0,308.4 349.2,353.8 346.5,352.5 343.0,309.5 322.0,290.0"/><path d="M220,299.8 L264,285.6 L268.3,289.9 Q285,302 300,296 Q312,291 322.2,289.5 L343.6,308.4 Q322,316 319.4,336.8 L309.5,342.5 L276.8,352.4 Z"/><polygon points="220.0,299.8 276.8,352.4 278.2,396.5 221.4,342.5"/><polygon points="276.8,352.4 319.4,341.0 320.8,382.2 278.2,396.5"/><polygon points="315.5,393.4 362.7,377.5 425.6,438.6 376.4,452.3"/><polygon points="315.5,393.4 376.4,452.3 377.2,499.5 317.5,436.6"/><polygon points="376.4,452.3 425.6,438.6 426.7,481.8 377.2,499.5"/><polygon points="413.6,397.9 440.9,389.1 442.6,388.9 444.4,389.5 446.3,390.8 448.3,392.8 450.2,395.3 451.8,398.3 453.2,401.6 454.3,405.0 455.0,408.3 455.3,411.5 455.1,414.3 454.5,416.5 453.4,418.2 452.1,419.1 425.6,430.3 423.9,430.5 421.9,429.9 419.8,428.5 417.7,426.3 415.6,423.6 413.8,420.4 412.3,416.8 411.1,413.1 410.4,409.5 410.1,406.1 410.3,403.1 411.0,400.7 412.1,398.9"/><polygon points="459.3,380.8 547.6,352.3 549.0,352.2 550.5,352.9 552.2,354.2 553.9,356.1 555.5,358.6 556.9,361.4 558.2,364.5 559.1,367.7 559.7,370.9 560.0,373.8 559.9,376.4 559.4,378.4 558.6,379.9 557.4,380.7 470.5,413.0 468.9,413.1 467.1,412.3 465.3,410.8 463.4,408.7 461.5,405.9 459.9,402.6 458.5,399.1 457.4,395.5 456.7,391.9 456.4,388.6 456.5,385.7 457.1,383.4 458.0,381.7"/><path d="M422,489.8 Q440,506 469.5,511.4 Q500,515 528.5,505.2 L528.5,549.6 Q500,557 469.5,553.7 Q440,549 423.2,533.4 Z"/><path d="M422,489.4 L469.5,470.8 L472,475 Q485,484 499.6,476.6 L500.7,475.5 L528.5,504.4 Q500,515 469.5,511.4 Q440,506 422,489.4 Z"/><polygon points="500.7,474.0 530.5,503.5 530.5,550.5 528.0,549.6 528.0,505.0 499.0,476.6"/><polygon points="535.5,461.6 575.0,471.1 584.0,501.9 565.6,534.5 564.4,488.2"/><polygon points="575.0,471.1 590.5,466.6 592.0,466.6 593.6,467.4 595.3,468.9 597.0,471.0 598.6,473.7 600.0,476.8 601.1,480.2 602.0,483.7 602.5,487.1 602.6,490.2 602.3,492.9 601.7,495.1 600.7,496.6 599.5,497.4 584.0,501.9 582.5,501.9 580.9,501.1 579.2,499.6 577.5,497.5 575.9,494.8 574.5,491.7 573.4,488.3 572.5,484.8 572.0,481.4 571.9,478.3 572.2,475.6 572.8,473.4 573.8,471.9"/><polygon points="535.5,461.6 539.0,506.7 565.6,534.5 564.4,488.2"/><polygon points="604.1,460.7 691.5,430.8 692.9,430.7 694.6,431.4 696.3,432.7 698.1,434.7 699.8,437.3 701.4,440.2 702.7,443.5 703.7,446.8 704.4,450.1 704.7,453.1 704.7,455.8 704.2,458.0 703.3,459.5 702.1,460.4 615.9,493.3 614.3,493.4 612.5,492.7 610.5,491.2 608.6,489.0 606.7,486.2 605.0,482.9 603.5,479.4 602.3,475.7 601.6,472.1 601.2,468.7 601.3,465.7 601.9,463.4 602.8,461.7"/><polygon points="782.0,451.7 797.4,462.1 798.4,463.2 799.1,464.6 799.4,466.3 799.3,468.1 798.8,470.0 797.9,471.9 796.7,473.6 795.3,475.2 793.6,476.5 791.9,477.4 790.1,477.9 788.4,478.0 786.9,477.7 785.6,476.9 772.0,464.3 771.2,463.3 770.6,462.1 770.4,460.7 770.5,459.2 770.9,457.6 771.6,456.0 772.6,454.5 773.8,453.2 775.2,452.1 776.7,451.4 778.2,450.9 779.6,450.8 780.9,451.1"/><path d="M803,469 L811.5,472.5 L819.5,481 L822.6,493 L817.7,503.5 L809,511 L801.5,515.5 L794,492.5 L798,489 L795,485 L792.5,481 Q793,472 803,469 Z"/><ellipse cx="797.8" cy="504.0" rx="7.0" ry="12.0" transform="rotate(-20.0 797.8 504.0)"/><polygon points="712.5,526.3 776.3,498.2 777.3,498.1 778.4,498.4 779.6,499.2 780.9,500.5 782.2,502.1 783.4,504.0 784.4,506.1 785.3,508.3 785.9,510.4 786.3,512.4 786.3,514.2 786.1,515.7 785.6,516.8 784.9,517.4 721.5,546.3 720.5,546.5 719.3,546.1 718.0,545.3 716.7,544.0 715.3,542.3 714.1,540.3 713.0,538.1 712.1,535.8 711.4,533.6 711.1,531.4 711.0,529.6 711.2,528.0 711.7,526.9"/>
</g>
<g filter="url(#soft)">
<polygon points="88.5,116.0 102.2,129.7 104.2,156.3 101.0,158.5 99.5,132.0" fill="#3f464c"/>
<polyline points="88.5,116.0 102.2,129.7 104.2,156.3" fill="none" stroke="#aab3b8" stroke-width="0.8" />
<polygon points="67.9,146.4 94.4,138.6 96.3,160.2 69.8,172.0" fill="#7d868c"/>
<polygon points="70.5,149.0 92.0,142.5 93.5,158.5 72.0,169.0" fill="url(#g1)"/>
<polygon points="72.0,150.5 84.0,147.0 84.0,152.0 75.0,155.0" fill="#3a4147"/>
<polyline points="88.0,144.5 89.5,160.5" fill="none" stroke="#59626a" stroke-width="0.9" />
<polyline points="84.5,145.5 86.0,162.0" fill="none" stroke="#aab3b8" stroke-width="0.7" />
<path d="M65.5,137.6 Q66.5,122 89.5,118.9 L100.3,129.7 L93.4,138.6 L68.8,146.4 Z" fill="url(#g2)" />
<polygon points="65.5,137.6 68.8,146.4 69.8,172.0 67.0,164.0" fill="#8d969c"/>
<polygon points="93.4,138.6 100.3,129.7 101.0,158.5 96.3,160.2" fill="#59626a"/>
<polygon points="137.6,101.3 160.2,121.9 162.6,163.6 159.5,161.5 157.5,122.5 136.5,103.0" fill="#3a4147"/>
<polygon points="106.2,112.1 137.6,102.2 158.2,121.9 122.9,123.9" fill="url(#g3)"/>
<polygon points="122.9,123.9 158.2,121.9 161.2,162.2 123.3,148.4" fill="url(#g4)"/>
<polygon points="106.2,112.1 122.9,124.8 122.9,150.4 108.1,137.6" fill="#30363b"/>
<polygon points="109.0,117.5 120.5,126.3 120.5,145.0 110.5,136.5" fill="url(#g5)"/>
<polyline points="106.2,112.1 122.9,124.8 122.9,150.4" fill="none" stroke="#c9d0d4" stroke-width="0.9" />
<polyline points="122.9,123.9 158.2,121.9" fill="none" stroke="#c1c8cc" stroke-width="0.8" />
<path d="M162.2,95.4 L212.3,70.8 L233.9,89.5 L221.1,94.4 Q211,97 203,104 Q194,112 183.8,115 Z" fill="url(#g6)" />
<path d="M183.8,115 Q194,112 203,104 Q211,97 221.1,94.4 L233.9,89.5 L235.8,130.7 L186.7,156.3 Z" fill="url(#g7)" />
<polygon points="162.2,95.4 183.8,115.0 186.7,156.3 166.1,138.6" fill="#363d43"/>
<polygon points="165.5,102.0 181.0,116.0 183.3,149.0 168.5,136.0" fill="url(#g8)"/>
<polygon points="169.0,108.0 176.0,114.0 177.5,140.0 171.0,134.5" fill="#dfe4e7"/>
<polygon points="176.0,114.0 181.0,118.5 182.5,142.0 177.5,140.0" fill="#3a4147"/>
<polyline points="162.2,95.4 183.8,115.0 186.7,156.3" fill="none" stroke="#d4dade" stroke-width="1" />
<polygon points="212.3,69.5 235.5,89.5 237.3,131.0 235.8,130.7 233.9,90.5 211.0,71.5" fill="#41484e"/>
<polygon points="94.0,169.6 122.8,160.5 175.0,212.8 145.0,219.4" fill="url(#g9)"/>
<polygon points="94.0,169.6 145.0,219.4 146.4,245.5 96.6,195.8" fill="url(#g10)"/>
<polygon points="145.0,219.4 175.0,212.8 175.0,233.8 146.4,245.5" fill="#2f353a"/>
<polygon points="148.0,222.0 172.5,216.5 172.5,231.0 149.0,240.5" fill="#474e54"/>
<polyline points="94.0,169.6 122.8,160.5" fill="none" stroke="#a3dcec" stroke-width="2" />
<polyline points="145.0,219.4 175.0,212.8 175.0,233.8 146.4,245.5 145.0,219.4" fill="none" stroke="#aab3b8" stroke-width="0.9" />
<polyline points="106.8,182.1 135.8,173.6" fill="none" stroke="rgba(220,226,230,0.55)" stroke-width="0.6" />
<polyline points="119.5,194.5 148.9,186.7" fill="none" stroke="rgba(220,226,230,0.55)" stroke-width="0.6" />
<polyline points="132.2,206.9 161.9,199.7" fill="none" stroke="rgba(220,226,230,0.55)" stroke-width="0.6" />
<polygon points="182.4,170.3 195.2,183.0 196.2,201.8 192.2,203.7 191.5,185.5 181.0,172.0" fill="#3b4248"/>
<path d="M162.8,179.1 L182.4,171.3 L194.2,183 Q184,184.5 181.4,188.9 L173.6,187 Z" fill="url(#g11)" />
<path d="M173.6,187 L181.4,188.9 Q184,184.5 192,185 L192.2,203.7 Q183,203 179.5,208.6 L175.5,207.6 Z" fill="url(#g12)" />
<polygon points="162.8,179.1 173.6,187.0 175.5,207.6 164.7,196.8" fill="#3f464c"/>
<polygon points="165.3,184.0 171.5,188.7 173.0,202.5 166.7,196.3" fill="url(#g13)"/>
<polyline points="162.8,179.1 173.6,187.0 175.5,207.6" fill="none" stroke="#c9d0d4" stroke-width="0.8" />
<polygon points="197.2,167.3 288.5,140.8 301.3,152.6 208.5,176.2" fill="url(#g14)"/>
<polygon points="208.5,176.2 301.3,152.6 301.3,170.3 209.9,197.8" fill="url(#g15)"/>
<polygon points="197.2,167.3 208.5,176.2 209.9,197.8 199.1,188.0" fill="#4a5258"/>
<polygon points="199.5,172.0 206.3,177.5 207.5,193.0 201.0,187.0" fill="url(#g16)"/>
<polygon points="288.5,139.8 302.6,152.6 302.6,171.5 301.3,170.3 301.3,153.2 287.5,141.2" fill="#3a4147"/>
<polyline points="220.0,160.7 231.7,170.3 232.8,190.9" fill="none" stroke="rgba(70,80,88,0.45)" stroke-width="0.6" />
<polyline points="242.8,154.1 254.9,164.4 255.6,184.1" fill="none" stroke="rgba(70,80,88,0.45)" stroke-width="0.6" />
<polyline points="265.7,147.4 278.1,158.5 278.5,177.2" fill="none" stroke="rgba(70,80,88,0.45)" stroke-width="0.6" />
<polyline points="197.2,167.3 208.5,176.2 209.9,197.8" fill="none" stroke="#c9d0d4" stroke-width="0.8" />
<polygon points="304.2,135.9 318.0,147.7 318.6,166.3 305.2,155.5" fill="#454c52"/>
<polygon points="306.5,141.5 316.0,149.5 316.3,162.0 307.0,154.3" fill="#7d868c"/>
<polyline points="304.2,135.9 318.0,147.7 318.6,166.3" fill="none" stroke="#aeb7bc" stroke-width="0.8" />
<polygon points="171.2,243.7 201.6,234.9 232.1,248.8 187.7,260.2" fill="url(#g17)"/>
<polygon points="187.7,260.2 232.1,248.8 232.6,289.4 190.2,303.3" fill="#c1c8cc"/>
<polygon points="190.3,263.0 230.0,252.8 230.4,287.5 192.5,300.0" fill="#3a4147"/>
<polygon points="190.3,263.0 230.0,252.8 230.0,259.0 205.0,269.0 196.0,268.0" fill="#b5bdc2"/>
<polygon points="230.0,259.0 230.4,287.5 216.0,275.0 205.0,269.0" fill="url(#g18)"/>
<polygon points="190.3,263.0 196.0,268.0 197.0,296.0 192.5,300.0" fill="#6d767c"/>
<polyline points="205.0,269.0 216.0,275.0 230.4,287.5" fill="none" stroke="#8d969c" stroke-width="0.7" />
<polygon points="171.2,243.7 187.7,260.2 190.2,303.3 172.5,270.4" fill="url(#g19)"/>
<polyline points="171.2,243.7 201.6,234.9" fill="none" stroke="#a3dcec" stroke-width="1.8" />
<polygon points="238.5,61.2 271.7,73.0 281.3,99.4 262.6,124.5 261.1,81.8" fill="url(#g20)"/>
<polygon points="271.7,73.0 285.7,67.9 287.0,67.8 288.5,68.4 290.0,69.6 291.6,71.4 293.2,73.7 294.6,76.3 295.8,79.2 296.7,82.2 297.3,85.1 297.6,87.8 297.5,90.2 297.1,92.1 296.3,93.5 295.3,94.3 281.3,99.4 280.0,99.5 278.5,98.9 277.0,97.7 275.4,95.9 273.8,93.6 272.4,91.0 271.2,88.1 270.3,85.1 269.7,82.2 269.4,79.5 269.5,77.1 269.9,75.2 270.7,73.8" fill="url(#g21)"/>
<polygon points="238.5,61.2 271.7,73.0 281.3,99.4 262.6,124.5 261.1,81.8" fill="url(#g22)"/>
<polygon points="261.1,81.8 271.7,73.0 281.3,99.4 262.6,124.5" fill="url(#g23)"/>
<path d="M278.5,69.9A5.8,14.6 -20.0 0 1 288.5,97.4" fill="none" stroke="rgba(255,255,255,0.8)" stroke-width="1.4" transform="translate(-1.03,0.38)"/>
<path d="M278.5,69.9A5.8,14.6 -20.0 0 1 288.5,97.4" fill="none" stroke="rgba(40,48,54,0.75)" stroke-width="0.9"/>
<polygon points="238.5,61.2 240.5,105.4 262.6,124.5 261.1,81.8" fill="#e2e7e9"/>
<polygon points="239.8,64.0 241.6,104.3 261.7,121.7 260.3,82.8" fill="#4d555b"/>
<polygon points="239.8,64.0 252.6,92.8 241.6,104.3" fill="url(#g24)"/>
<polygon points="239.8,64.0 252.6,92.8 260.3,82.8" fill="url(#g25)"/>
<polygon points="260.3,82.8 252.6,92.8 261.7,121.7" fill="url(#g26)"/>
<polygon points="241.6,104.3 252.6,92.8 261.7,121.7" fill="url(#g27)"/>
<polygon points="297.8,65.5 381.7,42.1 382.9,42.1 384.2,42.7 385.5,43.9 386.9,45.5 388.1,47.7 389.2,50.1 390.1,52.8 390.8,55.5 391.2,58.2 391.3,60.6 391.1,62.8 390.6,64.5 389.9,65.7 388.9,66.3 305.8,92.3 304.5,92.3 303.0,91.7 301.6,90.4 300.1,88.5 298.7,86.2 297.4,83.4 296.4,80.5 295.7,77.5 295.2,74.5 295.1,71.8 295.3,69.4 295.9,67.5 296.7,66.2" fill="url(#g28)"/>
<path d="M300.4,64.8A5.6,14.0 -16.5 0 1 308.3,91.5M303.0,64.0A5.6,13.9 -16.5 0 1 310.9,90.7M305.6,63.3A5.5,13.9 -16.5 0 1 313.5,89.9M308.2,62.6A5.5,13.8 -16.5 0 1 316.1,89.1M310.8,61.9A5.5,13.8 -16.5 0 1 318.7,88.3M313.4,61.1A5.5,13.7 -16.5 0 1 321.2,87.5M316.0,60.4A5.5,13.7 -16.5 0 1 323.8,86.7M318.6,59.7A5.5,13.7 -16.5 0 1 326.4,85.9M321.2,59.0A5.4,13.6 -16.5 0 1 329.0,85.1M323.8,58.2A5.4,13.6 -16.5 0 1 331.5,84.2M326.4,57.5A5.4,13.5 -16.5 0 1 334.1,83.4M329.0,56.8A5.4,13.5 -16.5 0 1 336.7,82.6M331.6,56.1A5.4,13.4 -16.5 0 1 339.3,81.8M334.2,55.3A5.4,13.4 -16.5 0 1 341.8,81.0M336.8,54.6A5.3,13.3 -16.5 0 1 344.4,80.2M339.5,53.9A5.3,13.3 -16.5 0 1 347.0,79.4M342.1,53.2A5.3,13.3 -16.5 0 1 349.6,78.6M344.7,52.4A5.3,13.2 -16.5 0 1 352.2,77.8M347.3,51.7A5.3,13.2 -16.5 0 1 354.7,77.0M349.9,51.0A5.3,13.1 -16.5 0 1 357.3,76.2M352.5,50.3A5.2,13.1 -16.5 0 1 359.9,75.4M355.1,49.5A5.2,13.0 -16.5 0 1 362.5,74.6M357.7,48.8A5.2,13.0 -16.5 0 1 365.0,73.8M360.3,48.1A5.2,13.0 -16.5 0 1 367.6,72.9M362.9,47.4A5.2,12.9 -16.5 0 1 370.2,72.1M365.5,46.6A5.1,12.9 -16.5 0 1 372.8,71.3M368.1,45.9A5.1,12.8 -16.5 0 1 375.3,70.5M370.7,45.2A5.1,12.8 -16.5 0 1 377.9,69.7M373.3,44.5A5.1,12.7 -16.5 0 1 380.5,68.9M375.9,43.7A5.1,12.7 -16.5 0 1 383.1,68.1M378.5,43.0A5.1,12.7 -16.5 0 1 385.7,67.3M381.1,42.3A5.0,12.6 -16.5 0 1 388.2,66.5" fill="none" stroke="rgba(45,55,62,0.22)" stroke-width="0.8"/>
<path d="M300.4,64.8A5.6,14.0 -16.5 0 1 308.3,91.5M303.0,64.0A5.6,13.9 -16.5 0 1 310.9,90.7M305.6,63.3A5.5,13.9 -16.5 0 1 313.5,89.9M308.2,62.6A5.5,13.8 -16.5 0 1 316.1,89.1M310.8,61.9A5.5,13.8 -16.5 0 1 318.7,88.3M313.4,61.1A5.5,13.7 -16.5 0 1 321.2,87.5M316.0,60.4A5.5,13.7 -16.5 0 1 323.8,86.7M318.6,59.7A5.5,13.7 -16.5 0 1 326.4,85.9M321.2,59.0A5.4,13.6 -16.5 0 1 329.0,85.1M323.8,58.2A5.4,13.6 -16.5 0 1 331.5,84.2M326.4,57.5A5.4,13.5 -16.5 0 1 334.1,83.4M329.0,56.8A5.4,13.5 -16.5 0 1 336.7,82.6M331.6,56.1A5.4,13.4 -16.5 0 1 339.3,81.8M334.2,55.3A5.4,13.4 -16.5 0 1 341.8,81.0M336.8,54.6A5.3,13.3 -16.5 0 1 344.4,80.2M339.5,53.9A5.3,13.3 -16.5 0 1 347.0,79.4M342.1,53.2A5.3,13.3 -16.5 0 1 349.6,78.6M344.7,52.4A5.3,13.2 -16.5 0 1 352.2,77.8M347.3,51.7A5.3,13.2 -16.5 0 1 354.7,77.0M349.9,51.0A5.3,13.1 -16.5 0 1 357.3,76.2M352.5,50.3A5.2,13.1 -16.5 0 1 359.9,75.4M355.1,49.5A5.2,13.0 -16.5 0 1 362.5,74.6M357.7,48.8A5.2,13.0 -16.5 0 1 365.0,73.8M360.3,48.1A5.2,13.0 -16.5 0 1 367.6,72.9M362.9,47.4A5.2,12.9 -16.5 0 1 370.2,72.1M365.5,46.6A5.1,12.9 -16.5 0 1 372.8,71.3M368.1,45.9A5.1,12.8 -16.5 0 1 375.3,70.5M370.7,45.2A5.1,12.8 -16.5 0 1 377.9,69.7M373.3,44.5A5.1,12.7 -16.5 0 1 380.5,68.9M375.9,43.7A5.1,12.7 -16.5 0 1 383.1,68.1M378.5,43.0A5.1,12.7 -16.5 0 1 385.7,67.3M381.1,42.3A5.0,12.6 -16.5 0 1 388.2,66.5" fill="none" stroke="rgba(255,255,255,0.28)" stroke-width="0.7" transform="translate(1.15,-0.34)"/>
<ellipse cx="301.8" cy="78.9" rx="5.6" ry="14.0" transform="rotate(-16.5 301.8 78.9)" fill="url(#g29)" stroke="#d9dfe2" stroke-width="1.1"/>
<path d="M396.7,36.2 L414.7,32.8 L432.7,33.5 L451.7,38.9 L464.3,48.8 L467,58 L446,72.5 L437.3,67.7 L429.1,63.2 L417.4,62.3 L405.7,65 Z" fill="url(#g30)" />
<polyline points="414.7,32.8 417.4,62.3" fill="none" stroke="rgba(50,58,64,0.7)" stroke-width="0.8" />
<polyline points="432.7,33.5 429.1,63.2" fill="none" stroke="rgba(50,58,64,0.7)" stroke-width="0.8" />
<polyline points="451.7,38.9 437.3,67.7" fill="none" stroke="rgba(50,58,64,0.7)" stroke-width="0.8" />
<polyline points="416.2,32.8 418.9,62.3" fill="none" stroke="rgba(255,255,255,0.5)" stroke-width="0.8" />
<polyline points="434.2,33.8 430.6,63.5" fill="none" stroke="rgba(255,255,255,0.5)" stroke-width="0.8" />
<ellipse cx="400.3" cy="49.7" rx="6.5" ry="14.4" transform="rotate(-20.0 400.3 49.7)" fill="url(#g31)" stroke="#d4dade" stroke-width="1.3"/>
<ellipse cx="454.0" cy="57.5" rx="9.5" ry="15.5" transform="rotate(40.0 454.0 57.5)" fill="#1d2226" stroke="#8d969c" stroke-width="1"/>
<polyline points="446.0,50.0 461.0,64.0" fill="none" stroke="#8d969c" stroke-width="1.3" />
<polyline points="459.0,47.0 449.0,68.0" fill="none" stroke="#6d767c" stroke-width="1.3" />
<polygon points="374.1,114.3 424.9,98.4 425.7,98.4 426.5,98.7 427.4,99.4 428.3,100.5 429.1,101.8 429.9,103.3 430.5,105.0 431.0,106.7 431.3,108.4 431.5,109.9 431.4,111.3 431.1,112.4 430.7,113.2 430.1,113.6 379.9,131.7 379.1,131.8 378.1,131.4 377.1,130.5 376.1,129.4 375.1,127.8 374.3,126.1 373.5,124.2 372.9,122.2 372.6,120.3 372.4,118.5 372.5,116.9 372.8,115.7 373.4,114.8" fill="url(#g32)"/>
<path d="M376.4,113.6A3.7,9.1 -18.6 0 1 382.2,130.9M378.6,112.9A3.6,9.1 -18.6 0 1 384.4,130.1M380.9,112.1A3.6,9.0 -18.6 0 1 386.7,129.3M383.2,111.4A3.6,9.0 -18.6 0 1 389.0,128.5M385.5,110.7A3.6,8.9 -18.6 0 1 391.2,127.6M387.8,110.0A3.6,8.9 -18.6 0 1 393.5,126.8M390.1,109.3A3.5,8.8 -18.6 0 1 395.7,126.0M392.4,108.6A3.5,8.8 -18.6 0 1 398.0,125.2M394.7,107.9A3.5,8.7 -18.6 0 1 400.3,124.4M397.0,107.1A3.5,8.7 -18.6 0 1 402.5,123.5M399.3,106.4A3.4,8.6 -18.6 0 1 404.8,122.7M401.6,105.7A3.4,8.6 -18.6 0 1 407.0,121.9M403.9,105.0A3.4,8.5 -18.6 0 1 409.3,121.1M406.2,104.3A3.4,8.4 -18.6 0 1 411.5,120.3M408.4,103.6A3.4,8.4 -18.6 0 1 413.8,119.5M410.7,102.8A3.3,8.3 -18.6 0 1 416.1,118.6M413.0,102.1A3.3,8.3 -18.6 0 1 418.3,117.8M415.3,101.4A3.3,8.2 -18.6 0 1 420.6,117.0M417.6,100.7A3.3,8.2 -18.6 0 1 422.8,116.2M419.9,100.0A3.2,8.1 -18.6 0 1 425.1,115.4M422.2,99.3A3.2,8.1 -18.6 0 1 427.3,114.6M424.5,98.6A3.2,8.0 -18.6 0 1 429.6,113.7" fill="none" stroke="rgba(45,55,62,0.22)" stroke-width="0.8"/>
<path d="M376.4,113.6A3.7,9.1 -18.6 0 1 382.2,130.9M378.6,112.9A3.6,9.1 -18.6 0 1 384.4,130.1M380.9,112.1A3.6,9.0 -18.6 0 1 386.7,129.3M383.2,111.4A3.6,9.0 -18.6 0 1 389.0,128.5M385.5,110.7A3.6,8.9 -18.6 0 1 391.2,127.6M387.8,110.0A3.6,8.9 -18.6 0 1 393.5,126.8M390.1,109.3A3.5,8.8 -18.6 0 1 395.7,126.0M392.4,108.6A3.5,8.8 -18.6 0 1 398.0,125.2M394.7,107.9A3.5,8.7 -18.6 0 1 400.3,124.4M397.0,107.1A3.5,8.7 -18.6 0 1 402.5,123.5M399.3,106.4A3.4,8.6 -18.6 0 1 404.8,122.7M401.6,105.7A3.4,8.6 -18.6 0 1 407.0,121.9M403.9,105.0A3.4,8.5 -18.6 0 1 409.3,121.1M406.2,104.3A3.4,8.4 -18.6 0 1 411.5,120.3M408.4,103.6A3.4,8.4 -18.6 0 1 413.8,119.5M410.7,102.8A3.3,8.3 -18.6 0 1 416.1,118.6M413.0,102.1A3.3,8.3 -18.6 0 1 418.3,117.8M415.3,101.4A3.3,8.2 -18.6 0 1 420.6,117.0M417.6,100.7A3.3,8.2 -18.6 0 1 422.8,116.2M419.9,100.0A3.2,8.1 -18.6 0 1 425.1,115.4M422.2,99.3A3.2,8.1 -18.6 0 1 427.3,114.6M424.5,98.6A3.2,8.0 -18.6 0 1 429.6,113.7" fill="none" stroke="rgba(255,255,255,0.28)" stroke-width="0.7" transform="translate(1.14,-0.38)"/>
<ellipse cx="377.0" cy="123.0" rx="3.7" ry="9.2" transform="rotate(-18.6 377.0 123.0)" fill="url(#g33)" stroke="#d9dfe2" stroke-width="1.1"/>
<polygon points="448.0,81.0 451.5,92.0 458.0,96.5 473.5,98.0 476.5,102.5 467.0,105.5 476.5,116.0 470.0,114.8 459.0,108.5 452.0,115.0 446.0,110.0 443.5,96.0" fill="url(#g34)"/>
<polyline points="448.0,81.0 451.5,92.0 458.0,96.5" fill="none" stroke="#7d868c" stroke-width="0.7" />
<polygon points="435.8,96.6 448.3,92.1 449.4,91.9 450.5,92.2 451.8,93.0 453.0,94.2 454.1,95.7 455.1,97.4 456.0,99.4 456.6,101.4 456.9,103.4 457.0,105.3 456.8,107.0 456.3,108.4 455.6,109.4 454.7,109.9 442.2,114.4 441.1,114.6 440.0,114.3 438.7,113.5 437.5,112.3 436.4,110.8 435.4,109.1 434.5,107.1 433.9,105.1 433.6,103.1 433.5,101.2 433.7,99.5 434.2,98.1 434.9,97.1" fill="url(#g35)"/>
<ellipse cx="439.0" cy="105.5" rx="4.8" ry="9.5" transform="rotate(-19.8 439.0 105.5)" fill="url(#g36)" stroke="#d9dfe2" stroke-width="1.1"/>
<polygon points="473.9,60.2 528.6,96.9 530.2,98.6 531.3,100.8 531.9,103.3 531.8,106.2 531.1,109.1 529.8,112.0 528.1,114.7 525.9,117.1 523.5,119.1 520.8,120.5 518.1,121.4 515.5,121.5 513.1,121.0 511.0,119.9 461.1,76.8 460.7,76.2 460.7,75.2 461.0,73.8 461.6,72.2 462.5,70.4 463.6,68.5 465.0,66.6 466.5,64.8 468.0,63.2 469.5,61.8 470.9,60.8 472.2,60.1 473.2,59.9" fill="url(#g37)"/>
<path d="M476.0,61.6A7.7,10.7 37.3 0 0 463.1,78.6M478.2,63.1A7.8,10.8 37.3 0 0 465.1,80.3M480.4,64.5A7.9,11.0 37.3 0 0 467.0,82.0M482.5,66.0A8.0,11.1 37.3 0 0 469.0,83.7M484.7,67.4A8.1,11.3 37.3 0 0 471.0,85.4M486.8,68.9A8.2,11.4 37.3 0 0 473.0,87.1M489.0,70.3A8.4,11.6 37.3 0 0 474.9,88.8M491.2,71.8A8.5,11.8 37.3 0 0 476.9,90.5M493.3,73.2A8.6,11.9 37.3 0 0 478.9,92.2M495.5,74.7A8.7,12.1 37.3 0 0 480.8,93.9M497.7,76.1A8.8,12.2 37.3 0 0 482.8,95.6M499.8,77.6A8.9,12.4 37.3 0 0 484.8,97.3M502.0,79.0A9.0,12.6 37.3 0 0 486.8,99.0M504.2,80.5A9.2,12.7 37.3 0 0 488.7,100.7M506.3,81.9A9.3,12.9 37.3 0 0 490.7,102.4M508.5,83.4A9.4,13.0 37.3 0 0 492.7,104.1M510.6,84.8A9.5,13.2 37.3 0 0 494.6,105.8M512.8,86.3A9.6,13.3 37.3 0 0 496.6,107.5M515.0,87.7A9.7,13.5 37.3 0 0 498.6,109.2M517.1,89.2A9.8,13.7 37.3 0 0 500.6,110.9M519.3,90.6A10.0,13.8 37.3 0 0 502.5,112.6M521.5,92.1A10.1,14.0 37.3 0 0 504.5,114.3M523.6,93.5A10.2,14.1 37.3 0 0 506.5,116.0M525.8,95.0A10.3,14.3 37.3 0 0 508.4,117.7M527.9,96.4A10.4,14.5 37.3 0 0 510.4,119.4" fill="none" stroke="rgba(45,55,62,0.22)" stroke-width="0.8"/>
<path d="M476.0,61.6A7.7,10.7 37.3 0 0 463.1,78.6M478.2,63.1A7.8,10.8 37.3 0 0 465.1,80.3M480.4,64.5A7.9,11.0 37.3 0 0 467.0,82.0M482.5,66.0A8.0,11.1 37.3 0 0 469.0,83.7M484.7,67.4A8.1,11.3 37.3 0 0 471.0,85.4M486.8,68.9A8.2,11.4 37.3 0 0 473.0,87.1M489.0,70.3A8.4,11.6 37.3 0 0 474.9,88.8M491.2,71.8A8.5,11.8 37.3 0 0 476.9,90.5M493.3,73.2A8.6,11.9 37.3 0 0 478.9,92.2M495.5,74.7A8.7,12.1 37.3 0 0 480.8,93.9M497.7,76.1A8.8,12.2 37.3 0 0 482.8,95.6M499.8,77.6A8.9,12.4 37.3 0 0 484.8,97.3M502.0,79.0A9.0,12.6 37.3 0 0 486.8,99.0M504.2,80.5A9.2,12.7 37.3 0 0 488.7,100.7M506.3,81.9A9.3,12.9 37.3 0 0 490.7,102.4M508.5,83.4A9.4,13.0 37.3 0 0 492.7,104.1M510.6,84.8A9.5,13.2 37.3 0 0 494.6,105.8M512.8,86.3A9.6,13.3 37.3 0 0 496.6,107.5M515.0,87.7A9.7,13.5 37.3 0 0 498.6,109.2M517.1,89.2A9.8,13.7 37.3 0 0 500.6,110.9M519.3,90.6A10.0,13.8 37.3 0 0 502.5,112.6M521.5,92.1A10.1,14.0 37.3 0 0 504.5,114.3M523.6,93.5A10.2,14.1 37.3 0 0 506.5,116.0M525.8,95.0A10.3,14.3 37.3 0 0 508.4,117.7M527.9,96.4A10.4,14.5 37.3 0 0 510.4,119.4" fill="none" stroke="rgba(255,255,255,0.28)" stroke-width="0.7" transform="translate(0.95,0.73)"/>
<ellipse cx="519.8" cy="108.4" rx="10.4" ry="14.5" transform="rotate(37.3 519.8 108.4)" fill="url(#g38)" stroke="#d9dfe2" stroke-width="1.1"/>
<polygon points="382.3,182.1 508.7,142.4 509.6,142.4 510.5,142.8 511.6,143.7 512.6,145.0 513.6,146.6 514.4,148.5 515.2,150.5 515.7,152.5 516.0,154.6 516.1,156.4 516.0,158.1 515.6,159.4 515.1,160.3 514.3,160.8 387.7,199.3 386.8,199.3 385.9,198.9 384.9,198.1 384.0,196.9 383.1,195.4 382.2,193.6 381.6,191.8 381.1,189.8 380.7,187.9 380.7,186.2 380.8,184.6 381.1,183.4 381.6,182.6" fill="url(#g39)"/>
<path d="M384.8,181.3A3.6,9.0 -17.2 0 1 390.1,198.5M387.3,180.5A3.6,9.0 -17.2 0 1 392.6,197.8M389.8,179.8A3.6,9.0 -17.2 0 1 395.1,197.0M392.3,179.0A3.6,9.0 -17.2 0 1 397.6,196.3M394.7,178.2A3.6,9.1 -17.2 0 1 400.1,195.5M397.2,177.4A3.6,9.1 -17.2 0 1 402.6,194.8M399.7,176.6A3.6,9.1 -17.2 0 1 405.1,194.0M402.2,175.9A3.6,9.1 -17.2 0 1 407.6,193.2M404.7,175.1A3.6,9.1 -17.2 0 1 410.0,192.5M407.1,174.3A3.6,9.1 -17.2 0 1 412.5,191.7M409.6,173.5A3.7,9.1 -17.2 0 1 415.0,191.0M412.1,172.8A3.7,9.1 -17.2 0 1 417.5,190.2M414.6,172.0A3.7,9.2 -17.2 0 1 420.0,189.5M417.1,171.2A3.7,9.2 -17.2 0 1 422.5,188.7M419.6,170.4A3.7,9.2 -17.2 0 1 425.0,188.0M422.0,169.6A3.7,9.2 -17.2 0 1 427.5,187.2M424.5,168.9A3.7,9.2 -17.2 0 1 429.9,186.4M427.0,168.1A3.7,9.2 -17.2 0 1 432.4,185.7M429.5,167.3A3.7,9.2 -17.2 0 1 434.9,184.9M432.0,166.5A3.7,9.2 -17.2 0 1 437.4,184.2M434.4,165.7A3.7,9.2 -17.2 0 1 439.9,183.4M436.9,165.0A3.7,9.3 -17.2 0 1 442.4,182.7M439.4,164.2A3.7,9.3 -17.2 0 1 444.9,181.9M441.9,163.4A3.7,9.3 -17.2 0 1 447.4,181.1M444.4,162.6A3.7,9.3 -17.2 0 1 449.8,180.4M446.8,161.8A3.7,9.3 -17.2 0 1 452.3,179.6M449.3,161.1A3.7,9.3 -17.2 0 1 454.8,178.9M451.8,160.3A3.7,9.3 -17.2 0 1 457.3,178.1M454.3,159.5A3.7,9.3 -17.2 0 1 459.8,177.4M456.8,158.7A3.7,9.4 -17.2 0 1 462.3,176.6M459.2,158.0A3.7,9.4 -17.2 0 1 464.8,175.8M461.7,157.2A3.8,9.4 -17.2 0 1 467.3,175.1M464.2,156.4A3.8,9.4 -17.2 0 1 469.7,174.3M466.7,155.6A3.8,9.4 -17.2 0 1 472.2,173.6M469.2,154.8A3.8,9.4 -17.2 0 1 474.7,172.8M471.6,154.1A3.8,9.4 -17.2 0 1 477.2,172.1M474.1,153.3A3.8,9.4 -17.2 0 1 479.7,171.3M476.6,152.5A3.8,9.4 -17.2 0 1 482.2,170.6M479.1,151.7A3.8,9.5 -17.2 0 1 484.7,169.8M481.6,150.9A3.8,9.5 -17.2 0 1 487.2,169.0M484.0,150.2A3.8,9.5 -17.2 0 1 489.6,168.3M486.5,149.4A3.8,9.5 -17.2 0 1 492.1,167.5M489.0,148.6A3.8,9.5 -17.2 0 1 494.6,166.8M491.5,147.8A3.8,9.5 -17.2 0 1 497.1,166.0M494.0,147.0A3.8,9.5 -17.2 0 1 499.6,165.3M496.4,146.3A3.8,9.5 -17.2 0 1 502.1,164.5M498.9,145.5A3.8,9.6 -17.2 0 1 504.6,163.7M501.4,144.7A3.8,9.6 -17.2 0 1 507.1,163.0M503.9,143.9A3.8,9.6 -17.2 0 1 509.5,162.2M506.4,143.1A3.8,9.6 -17.2 0 1 512.0,161.5" fill="none" stroke="rgba(45,55,62,0.22)" stroke-width="0.8"/>
<path d="M384.8,181.3A3.6,9.0 -17.2 0 1 390.1,198.5M387.3,180.5A3.6,9.0 -17.2 0 1 392.6,197.8M389.8,179.8A3.6,9.0 -17.2 0 1 395.1,197.0M392.3,179.0A3.6,9.0 -17.2 0 1 397.6,196.3M394.7,178.2A3.6,9.1 -17.2 0 1 400.1,195.5M397.2,177.4A3.6,9.1 -17.2 0 1 402.6,194.8M399.7,176.6A3.6,9.1 -17.2 0 1 405.1,194.0M402.2,175.9A3.6,9.1 -17.2 0 1 407.6,193.2M404.7,175.1A3.6,9.1 -17.2 0 1 410.0,192.5M407.1,174.3A3.6,9.1 -17.2 0 1 412.5,191.7M409.6,173.5A3.7,9.1 -17.2 0 1 415.0,191.0M412.1,172.8A3.7,9.1 -17.2 0 1 417.5,190.2M414.6,172.0A3.7,9.2 -17.2 0 1 420.0,189.5M417.1,171.2A3.7,9.2 -17.2 0 1 422.5,188.7M419.6,170.4A3.7,9.2 -17.2 0 1 425.0,188.0M422.0,169.6A3.7,9.2 -17.2 0 1 427.5,187.2M424.5,168.9A3.7,9.2 -17.2 0 1 429.9,186.4M427.0,168.1A3.7,9.2 -17.2 0 1 432.4,185.7M429.5,167.3A3.7,9.2 -17.2 0 1 434.9,184.9M432.0,166.5A3.7,9.2 -17.2 0 1 437.4,184.2M434.4,165.7A3.7,9.2 -17.2 0 1 439.9,183.4M436.9,165.0A3.7,9.3 -17.2 0 1 442.4,182.7M439.4,164.2A3.7,9.3 -17.2 0 1 444.9,181.9M441.9,163.4A3.7,9.3 -17.2 0 1 447.4,181.1M444.4,162.6A3.7,9.3 -17.2 0 1 449.8,180.4M446.8,161.8A3.7,9.3 -17.2 0 1 452.3,179.6M449.3,161.1A3.7,9.3 -17.2 0 1 454.8,178.9M451.8,160.3A3.7,9.3 -17.2 0 1 457.3,178.1M454.3,159.5A3.7,9.3 -17.2 0 1 459.8,177.4M456.8,158.7A3.7,9.4 -17.2 0 1 462.3,176.6M459.2,158.0A3.7,9.4 -17.2 0 1 464.8,175.8M461.7,157.2A3.8,9.4 -17.2 0 1 467.3,175.1M464.2,156.4A3.8,9.4 -17.2 0 1 469.7,174.3M466.7,155.6A3.8,9.4 -17.2 0 1 472.2,173.6M469.2,154.8A3.8,9.4 -17.2 0 1 474.7,172.8M471.6,154.1A3.8,9.4 -17.2 0 1 477.2,172.1M474.1,153.3A3.8,9.4 -17.2 0 1 479.7,171.3M476.6,152.5A3.8,9.4 -17.2 0 1 482.2,170.6M479.1,151.7A3.8,9.5 -17.2 0 1 484.7,169.8M481.6,150.9A3.8,9.5 -17.2 0 1 487.2,169.0M484.0,150.2A3.8,9.5 -17.2 0 1 489.6,168.3M486.5,149.4A3.8,9.5 -17.2 0 1 492.1,167.5M489.0,148.6A3.8,9.5 -17.2 0 1 494.6,166.8M491.5,147.8A3.8,9.5 -17.2 0 1 497.1,166.0M494.0,147.0A3.8,9.5 -17.2 0 1 499.6,165.3M496.4,146.3A3.8,9.5 -17.2 0 1 502.1,164.5M498.9,145.5A3.8,9.6 -17.2 0 1 504.6,163.7M501.4,144.7A3.8,9.6 -17.2 0 1 507.1,163.0M503.9,143.9A3.8,9.6 -17.2 0 1 509.5,162.2M506.4,143.1A3.8,9.6 -17.2 0 1 512.0,161.5" fill="none" stroke="rgba(255,255,255,0.28)" stroke-width="0.7" transform="translate(1.15,-0.35)"/>
<ellipse cx="385.0" cy="190.7" rx="3.6" ry="9.0" transform="rotate(-17.2 385.0 190.7)" fill="url(#g40)" stroke="#d9dfe2" stroke-width="1.1"/>
<polygon points="363.6,186.7 371.1,184.4 372.1,184.4 373.2,184.8 374.4,185.7 375.5,187.0 376.6,188.7 377.5,190.6 378.3,192.7 378.8,194.8 379.1,197.0 379.2,198.9 379.0,200.7 378.5,202.0 377.8,203.0 376.9,203.6 369.4,205.9 368.4,205.9 367.3,205.5 366.1,204.6 365.0,203.3 363.9,201.6 363.0,199.7 362.2,197.6 361.7,195.5 361.4,193.3 361.3,191.4 361.5,189.6 362.0,188.3 362.7,187.3" fill="url(#g41)"/>
<ellipse cx="366.5" cy="196.3" rx="4.5" ry="10.0" transform="rotate(-17.0 366.5 196.3)" fill="url(#g42)" stroke="#aab3b8" stroke-width="0.6"/>
<polygon points="522.5,140.1 545.5,132.0 546.7,131.8 547.9,132.1 549.2,132.7 550.4,133.6 551.5,134.9 552.5,136.5 553.3,138.2 553.8,140.0 554.1,141.9 554.1,143.6 553.8,145.1 553.2,146.4 552.4,147.4 551.5,148.0 528.7,156.9 527.5,157.1 526.2,156.9 524.9,156.3 523.6,155.2 522.4,153.9 521.4,152.2 520.5,150.4 520.0,148.5 519.7,146.5 519.7,144.7 520.0,143.1 520.6,141.7 521.4,140.7" fill="url(#g43)"/>
<ellipse cx="525.6" cy="148.5" rx="5.4" ry="9.0" transform="rotate(-20.4 525.6 148.5)" fill="url(#g44)" stroke="#d9dfe2" stroke-width="1.1"/>
<polygon points="541.2,111.9 582.9,138.9 584.5,140.7 585.7,143.0 586.2,145.6 586.1,148.5 585.4,151.6 584.1,154.6 582.3,157.4 580.0,159.9 577.4,161.9 574.7,163.4 571.9,164.2 569.2,164.4 566.7,163.9 564.5,162.7 527.8,129.3 527.1,128.4 526.8,127.1 526.8,125.5 527.2,123.7 528.1,121.7 529.2,119.6 530.6,117.6 532.2,115.7 533.9,114.1 535.6,112.8 537.3,111.9 538.8,111.4 540.2,111.4" fill="url(#g45)"/>
<ellipse cx="573.7" cy="150.8" rx="10.8" ry="15.0" transform="rotate(37.6 573.7 150.8)" fill="url(#g46)" stroke="#d9dfe2" stroke-width="1.1"/>
<polygon points="593.0,156.3 683.4,218.0 685.1,219.7 686.2,221.9 686.8,224.5 686.8,227.4 686.1,230.4 684.9,233.4 683.2,236.2 681.0,238.7 678.5,240.8 675.9,242.3 673.1,243.2 670.4,243.4 668.0,242.9 665.8,241.8 580.0,174.1 579.6,173.4 579.5,172.3 579.8,170.9 580.4,169.2 581.3,167.3 582.5,165.3 583.8,163.2 585.4,161.3 586.9,159.6 588.5,158.1 589.9,157.1 591.2,156.4 592.3,156.1" fill="url(#g47)"/>
<path d="M595.2,157.8A8.0,11.1 36.3 0 0 582.0,175.7M597.3,159.3A8.1,11.2 36.3 0 0 584.1,177.3M599.5,160.7A8.1,11.3 36.3 0 0 586.1,178.9M601.6,162.2A8.2,11.4 36.3 0 0 588.2,180.5M603.8,163.7A8.2,11.5 36.3 0 0 590.2,182.1M605.9,165.1A8.3,11.5 36.3 0 0 592.2,183.7M608.1,166.6A8.4,11.6 36.3 0 0 594.3,185.3M610.2,168.1A8.4,11.7 36.3 0 0 596.3,187.0M612.4,169.5A8.5,11.8 36.3 0 0 598.4,188.6M614.5,171.0A8.6,11.9 36.3 0 0 600.4,190.2M616.7,172.5A8.6,12.0 36.3 0 0 602.5,191.8M618.8,173.9A8.7,12.1 36.3 0 0 604.5,193.4M620.9,175.4A8.8,12.2 36.3 0 0 606.5,195.0M623.1,176.9A8.8,12.3 36.3 0 0 608.6,196.6M625.2,178.3A8.9,12.4 36.3 0 0 610.6,198.2M627.4,179.8A9.0,12.4 36.3 0 0 612.7,199.9M629.5,181.3A9.0,12.5 36.3 0 0 614.7,201.5M631.7,182.7A9.1,12.6 36.3 0 0 616.7,203.1M633.8,184.2A9.2,12.7 36.3 0 0 618.8,204.7M636.0,185.7A9.2,12.8 36.3 0 0 620.8,206.3M638.1,187.1A9.3,12.9 36.3 0 0 622.9,207.9M640.3,188.6A9.4,13.0 36.3 0 0 624.9,209.5M642.4,190.1A9.4,13.1 36.3 0 0 627.0,211.1M644.6,191.5A9.5,13.2 36.3 0 0 629.0,212.8M646.7,193.0A9.5,13.3 36.3 0 0 631.0,214.4M648.9,194.5A9.6,13.4 36.3 0 0 633.1,216.0M651.0,195.9A9.7,13.4 36.3 0 0 635.1,217.6M653.2,197.4A9.7,13.5 36.3 0 0 637.2,219.2M655.3,198.9A9.8,13.6 36.3 0 0 639.2,220.8M657.5,200.3A9.9,13.7 36.3 0 0 641.3,222.4M659.6,201.8A9.9,13.8 36.3 0 0 643.3,224.0M661.8,203.3A10.0,13.9 36.3 0 0 645.3,225.6M663.9,204.7A10.1,14.0 36.3 0 0 647.4,227.3M666.1,206.2A10.1,14.1 36.3 0 0 649.4,228.9M668.2,207.6A10.2,14.2 36.3 0 0 651.5,230.5M670.4,209.1A10.3,14.3 36.3 0 0 653.5,232.1M672.5,210.6A10.3,14.3 36.3 0 0 655.5,233.7M674.7,212.0A10.4,14.4 36.3 0 0 657.6,235.3M676.8,213.5A10.5,14.5 36.3 0 0 659.6,236.9M679.0,215.0A10.5,14.6 36.3 0 0 661.7,238.5M681.1,216.4A10.6,14.7 36.3 0 0 663.7,240.2M683.3,217.9A10.7,14.8 36.3 0 0 665.8,241.8" fill="none" stroke="rgba(45,55,62,0.22)" stroke-width="0.8"/>
<path d="M595.2,157.8A8.0,11.1 36.3 0 0 582.0,175.7M597.3,159.3A8.1,11.2 36.3 0 0 584.1,177.3M599.5,160.7A8.1,11.3 36.3 0 0 586.1,178.9M601.6,162.2A8.2,11.4 36.3 0 0 588.2,180.5M603.8,163.7A8.2,11.5 36.3 0 0 590.2,182.1M605.9,165.1A8.3,11.5 36.3 0 0 592.2,183.7M608.1,166.6A8.4,11.6 36.3 0 0 594.3,185.3M610.2,168.1A8.4,11.7 36.3 0 0 596.3,187.0M612.4,169.5A8.5,11.8 36.3 0 0 598.4,188.6M614.5,171.0A8.6,11.9 36.3 0 0 600.4,190.2M616.7,172.5A8.6,12.0 36.3 0 0 602.5,191.8M618.8,173.9A8.7,12.1 36.3 0 0 604.5,193.4M620.9,175.4A8.8,12.2 36.3 0 0 606.5,195.0M623.1,176.9A8.8,12.3 36.3 0 0 608.6,196.6M625.2,178.3A8.9,12.4 36.3 0 0 610.6,198.2M627.4,179.8A9.0,12.4 36.3 0 0 612.7,199.9M629.5,181.3A9.0,12.5 36.3 0 0 614.7,201.5M631.7,182.7A9.1,12.6 36.3 0 0 616.7,203.1M633.8,184.2A9.2,12.7 36.3 0 0 618.8,204.7M636.0,185.7A9.2,12.8 36.3 0 0 620.8,206.3M638.1,187.1A9.3,12.9 36.3 0 0 622.9,207.9M640.3,188.6A9.4,13.0 36.3 0 0 624.9,209.5M642.4,190.1A9.4,13.1 36.3 0 0 627.0,211.1M644.6,191.5A9.5,13.2 36.3 0 0 629.0,212.8M646.7,193.0A9.5,13.3 36.3 0 0 631.0,214.4M648.9,194.5A9.6,13.4 36.3 0 0 633.1,216.0M651.0,195.9A9.7,13.4 36.3 0 0 635.1,217.6M653.2,197.4A9.7,13.5 36.3 0 0 637.2,219.2M655.3,198.9A9.8,13.6 36.3 0 0 639.2,220.8M657.5,200.3A9.9,13.7 36.3 0 0 641.3,222.4M659.6,201.8A9.9,13.8 36.3 0 0 643.3,224.0M661.8,203.3A10.0,13.9 36.3 0 0 645.3,225.6M663.9,204.7A10.1,14.0 36.3 0 0 647.4,227.3M666.1,206.2A10.1,14.1 36.3 0 0 649.4,228.9M668.2,207.6A10.2,14.2 36.3 0 0 651.5,230.5M670.4,209.1A10.3,14.3 36.3 0 0 653.5,232.1M672.5,210.6A10.3,14.3 36.3 0 0 655.5,233.7M674.7,212.0A10.4,14.4 36.3 0 0 657.6,235.3M676.8,213.5A10.5,14.5 36.3 0 0 659.6,236.9M679.0,215.0A10.5,14.6 36.3 0 0 661.7,238.5M681.1,216.4A10.6,14.7 36.3 0 0 663.7,240.2M683.3,217.9A10.7,14.8 36.3 0 0 665.8,241.8" fill="none" stroke="rgba(255,255,255,0.28)" stroke-width="0.7" transform="translate(0.97,0.71)"/>
<ellipse cx="674.6" cy="229.9" rx="10.7" ry="14.8" transform="rotate(36.3 674.6 229.9)" fill="url(#g48)" stroke="#d9dfe2" stroke-width="1.1"/>
<polygon points="697.9,231.6 719.9,247.6 721.5,249.1 722.6,251.1 723.1,253.5 723.1,256.2 722.5,258.9 721.4,261.6 719.9,264.2 717.9,266.5 715.6,268.4 713.2,269.8 710.7,270.6 708.3,270.8 706.0,270.4 704.1,269.4 682.1,253.4 680.5,251.9 679.4,249.9 678.9,247.5 678.9,244.8 679.5,242.1 680.6,239.4 682.1,236.8 684.1,234.5 686.4,232.6 688.8,231.2 691.3,230.4 693.7,230.2 696.0,230.6" fill="url(#g49)"/>
<ellipse cx="712.0" cy="258.5" rx="9.7" ry="13.5" transform="rotate(36.0 712.0 258.5)" fill="url(#g50)" stroke="#d9dfe2" stroke-width="1.1"/>
<polygon points="706.0,235.5 712.0,240.0 713.7,241.7 714.9,244.0 715.4,246.7 715.4,249.6 714.7,252.6 713.4,255.6 711.6,258.5 709.4,261.0 706.9,263.0 704.1,264.5 701.4,265.4 698.6,265.6 696.1,265.1 694.0,264.0 688.0,259.5 686.3,257.8 685.1,255.5 684.6,252.8 684.6,249.9 685.3,246.9 686.6,243.9 688.4,241.0 690.6,238.5 693.1,236.5 695.9,235.0 698.6,234.1 701.4,233.9 703.9,234.4" fill="url(#g51)"/>
<polygon points="730.0,259.8 831.4,333.0 833.3,335.0 834.6,337.6 835.2,340.6 835.1,343.9 834.2,347.3 832.7,350.7 830.7,353.9 828.1,356.7 825.2,359.0 822.1,360.6 818.9,361.6 815.8,361.8 813.0,361.2 810.6,359.8 714.6,279.6 714.2,278.8 714.1,277.6 714.5,276.0 715.2,274.1 716.3,271.9 717.7,269.7 719.3,267.4 721.1,265.3 723.0,263.3 724.8,261.7 726.5,260.5 727.9,259.8 729.1,259.6" fill="url(#g52)"/>
<path d="M732.2,261.4A9.1,12.6 37.9 0 0 716.7,281.3M734.4,263.0A9.1,12.7 37.9 0 0 718.8,283.0M736.5,264.6A9.2,12.8 37.9 0 0 720.8,284.8M738.7,266.1A9.3,12.9 37.9 0 0 722.9,286.5M740.9,267.7A9.3,13.0 37.9 0 0 725.0,288.2M743.1,269.3A9.4,13.1 37.9 0 0 727.1,290.0M745.3,270.9A9.5,13.2 37.9 0 0 729.1,291.7M747.5,272.5A9.6,13.3 37.9 0 0 731.2,293.4M749.7,274.0A9.6,13.4 37.9 0 0 733.3,295.2M751.9,275.6A9.7,13.5 37.9 0 0 735.4,296.9M754.1,277.2A9.8,13.6 37.9 0 0 737.4,298.6M756.3,278.8A9.8,13.7 37.9 0 0 739.5,300.4M758.5,280.4A9.9,13.8 37.9 0 0 741.6,302.1M760.7,281.9A10.0,13.9 37.9 0 0 743.6,303.8M762.8,283.5A10.0,14.0 37.9 0 0 745.7,305.6M765.0,285.1A10.1,14.1 37.9 0 0 747.8,307.3M767.2,286.7A10.2,14.2 37.9 0 0 749.9,309.0M769.4,288.3A10.3,14.2 37.9 0 0 751.9,310.8M771.6,289.8A10.3,14.3 37.9 0 0 754.0,312.5M773.8,291.4A10.4,14.4 37.9 0 0 756.1,314.2M776.0,293.0A10.5,14.5 37.9 0 0 758.1,316.0M778.2,294.6A10.5,14.6 37.9 0 0 760.2,317.7M780.4,296.2A10.6,14.7 37.9 0 0 762.3,319.4M782.6,297.7A10.7,14.8 37.9 0 0 764.4,321.2M784.8,299.3A10.7,14.9 37.9 0 0 766.4,322.9M787.0,300.9A10.8,15.0 37.9 0 0 768.5,324.6M789.1,302.5A10.9,15.1 37.9 0 0 770.6,326.4M791.3,304.1A11.0,15.2 37.9 0 0 772.7,328.1M793.5,305.6A11.0,15.3 37.9 0 0 774.7,329.8M795.7,307.2A11.1,15.4 37.9 0 0 776.8,331.6M797.9,308.8A11.2,15.5 37.9 0 0 778.9,333.3M800.1,310.4A11.2,15.6 37.9 0 0 780.9,335.0M802.3,312.0A11.3,15.7 37.9 0 0 783.0,336.8M804.5,313.5A11.4,15.8 37.9 0 0 785.1,338.5M806.7,315.1A11.4,15.9 37.9 0 0 787.2,340.2M808.9,316.7A11.5,16.0 37.9 0 0 789.2,342.0M811.1,318.3A11.6,16.1 37.9 0 0 791.3,343.7M813.3,319.9A11.7,16.2 37.9 0 0 793.4,345.4M815.4,321.4A11.7,16.3 37.9 0 0 795.4,347.2M817.6,323.0A11.8,16.4 37.9 0 0 797.5,348.9M819.8,324.6A11.9,16.5 37.9 0 0 799.6,350.6M822.0,326.2A11.9,16.6 37.9 0 0 801.7,352.4M824.2,327.8A12.0,16.7 37.9 0 0 803.7,354.1M826.4,329.3A12.1,16.8 37.9 0 0 805.8,355.8M828.6,330.9A12.1,16.9 37.9 0 0 807.9,357.6M830.8,332.5A12.2,17.0 37.9 0 0 810.0,359.3" fill="none" stroke="rgba(45,55,62,0.22)" stroke-width="0.8"/>
<path d="M732.2,261.4A9.1,12.6 37.9 0 0 716.7,281.3M734.4,263.0A9.1,12.7 37.9 0 0 718.8,283.0M736.5,264.6A9.2,12.8 37.9 0 0 720.8,284.8M738.7,266.1A9.3,12.9 37.9 0 0 722.9,286.5M740.9,267.7A9.3,13.0 37.9 0 0 725.0,288.2M743.1,269.3A9.4,13.1 37.9 0 0 727.1,290.0M745.3,270.9A9.5,13.2 37.9 0 0 729.1,291.7M747.5,272.5A9.6,13.3 37.9 0 0 731.2,293.4M749.7,274.0A9.6,13.4 37.9 0 0 733.3,295.2M751.9,275.6A9.7,13.5 37.9 0 0 735.4,296.9M754.1,277.2A9.8,13.6 37.9 0 0 737.4,298.6M756.3,278.8A9.8,13.7 37.9 0 0 739.5,300.4M758.5,280.4A9.9,13.8 37.9 0 0 741.6,302.1M760.7,281.9A10.0,13.9 37.9 0 0 743.6,303.8M762.8,283.5A10.0,14.0 37.9 0 0 745.7,305.6M765.0,285.1A10.1,14.1 37.9 0 0 747.8,307.3M767.2,286.7A10.2,14.2 37.9 0 0 749.9,309.0M769.4,288.3A10.3,14.2 37.9 0 0 751.9,310.8M771.6,289.8A10.3,14.3 37.9 0 0 754.0,312.5M773.8,291.4A10.4,14.4 37.9 0 0 756.1,314.2M776.0,293.0A10.5,14.5 37.9 0 0 758.1,316.0M778.2,294.6A10.5,14.6 37.9 0 0 760.2,317.7M780.4,296.2A10.6,14.7 37.9 0 0 762.3,319.4M782.6,297.7A10.7,14.8 37.9 0 0 764.4,321.2M784.8,299.3A10.7,14.9 37.9 0 0 766.4,322.9M787.0,300.9A10.8,15.0 37.9 0 0 768.5,324.6M789.1,302.5A10.9,15.1 37.9 0 0 770.6,326.4M791.3,304.1A11.0,15.2 37.9 0 0 772.7,328.1M793.5,305.6A11.0,15.3 37.9 0 0 774.7,329.8M795.7,307.2A11.1,15.4 37.9 0 0 776.8,331.6M797.9,308.8A11.2,15.5 37.9 0 0 778.9,333.3M800.1,310.4A11.2,15.6 37.9 0 0 780.9,335.0M802.3,312.0A11.3,15.7 37.9 0 0 783.0,336.8M804.5,313.5A11.4,15.8 37.9 0 0 785.1,338.5M806.7,315.1A11.4,15.9 37.9 0 0 787.2,340.2M808.9,316.7A11.5,16.0 37.9 0 0 789.2,342.0M811.1,318.3A11.6,16.1 37.9 0 0 791.3,343.7M813.3,319.9A11.7,16.2 37.9 0 0 793.4,345.4M815.4,321.4A11.7,16.3 37.9 0 0 795.4,347.2M817.6,323.0A11.8,16.4 37.9 0 0 797.5,348.9M819.8,324.6A11.9,16.5 37.9 0 0 799.6,350.6M822.0,326.2A11.9,16.6 37.9 0 0 801.7,352.4M824.2,327.8A12.0,16.7 37.9 0 0 803.7,354.1M826.4,329.3A12.1,16.8 37.9 0 0 805.8,355.8M828.6,330.9A12.1,16.9 37.9 0 0 807.9,357.6M830.8,332.5A12.2,17.0 37.9 0 0 810.0,359.3" fill="none" stroke="rgba(255,255,255,0.28)" stroke-width="0.7" transform="translate(0.95,0.74)"/>
<ellipse cx="821.0" cy="346.4" rx="12.2" ry="17.0" transform="rotate(37.9 821.0 346.4)" fill="url(#g53)" stroke="#d9dfe2" stroke-width="1.1"/>
<path d="M845.6,347.1 L856.4,352.5 L868.1,365.1 L871.7,384 L866,396 L854.6,405.6 L842.6,412.1 L830.6,379.2 L836.6,375 L832.1,371.4 L827.6,366 Q828,352 845.6,347.1 Z" fill="url(#g54)" />
<polyline points="856.4,352.5 833.0,371.8" fill="none" stroke="rgba(50,58,64,0.7)" stroke-width="0.8" />
<polyline points="868.1,365.1 837.0,375.0" fill="none" stroke="rgba(50,58,64,0.7)" stroke-width="0.8" />
<polyline points="871.7,384.0 852.0,371.5 837.0,375.0" fill="none" stroke="rgba(50,58,64,0.55)" stroke-width="0.8" />
<polyline points="858.4,353.5 835.0,372.8" fill="none" stroke="rgba(255,255,255,0.5)" stroke-width="0.8" />
<polyline points="869.1,367.1 838.0,377.0" fill="none" stroke="rgba(255,255,255,0.5)" stroke-width="0.8" />
<ellipse cx="836.6" cy="395.7" rx="10.0" ry="17.5" transform="rotate(-20.0 836.6 395.7)" fill="url(#g55)" stroke="#d9dfe2" stroke-width="1.4"/>
<ellipse cx="839.2" cy="394.8" rx="10.0" ry="17.5" transform="rotate(-20.0 839.2 394.8)" fill="none" stroke="rgba(220,226,230,0.8)" stroke-width="0.9"/>
<polygon points="787.4,395.0 813.7,386.4 815.6,386.2 817.7,386.6 819.8,387.8 821.9,389.6 823.9,392.0 825.6,394.9 827.0,398.1 828.0,401.4 828.5,404.7 828.6,407.8 828.2,410.5 827.3,412.8 826.0,414.5 824.3,415.6 798.8,426.0 796.7,426.3 794.5,425.8 792.2,424.6 790.0,422.6 787.9,420.0 786.1,417.0 784.6,413.6 783.5,410.1 783.0,406.6 782.9,403.3 783.3,400.3 784.3,397.9 785.7,396.1" fill="url(#g56)"/>
<ellipse cx="793.1" cy="410.5" rx="9.1" ry="16.5" transform="rotate(-20.1 793.1 410.5)" fill="url(#g57)" stroke="#d9dfe2" stroke-width="1.1"/>
<polygon points="728.4,400.1 738.2,409.5 738.8,410.4 739.0,411.5 738.9,412.9 738.4,414.4 737.6,416.0 736.6,417.6 735.2,419.1 733.8,420.5 732.2,421.6 730.7,422.5 729.2,423.0 727.8,423.2 726.6,423.0 725.8,422.5 716.0,413.1 715.4,412.2 715.2,411.1 715.3,409.7 715.8,408.2 716.6,406.6 717.6,405.0 719.0,403.5 720.4,402.1 722.0,401.0 723.5,400.1 725.0,399.6 726.4,399.4 727.6,399.6" fill="url(#g58)"/>
<polygon points="706.0,422.6 767.4,399.6 769.2,399.3 771.2,399.7 773.4,400.9 775.5,402.8 777.5,405.2 779.4,408.1 780.9,411.4 782.1,414.7 782.8,418.1 783.1,421.3 782.9,424.1 782.2,426.4 781.1,428.2 779.6,429.2 719.6,456.0 717.6,456.3 715.3,455.8 712.9,454.4 710.5,452.4 708.3,449.6 706.2,446.3 704.5,442.7 703.2,438.9 702.3,435.2 702.0,431.6 702.3,428.4 703.0,425.8 704.3,423.8" fill="url(#g59)"/>
<ellipse cx="712.8" cy="439.3" rx="9.0" ry="18.0" transform="rotate(-22.3 712.8 439.3)" fill="url(#g60)" stroke="#d9dfe2" stroke-width="1.1"/>
<polygon points="754.9,423.5 769.5,435.4 770.7,436.7 771.5,438.3 771.8,440.3 771.6,442.4 771.0,444.6 770.0,446.7 768.6,448.8 766.9,450.5 765.0,452.0 762.9,453.0 760.9,453.6 758.9,453.7 757.2,453.3 755.7,452.4 741.1,440.5 739.9,439.2 739.1,437.6 738.8,435.6 739.0,433.5 739.6,431.3 740.6,429.2 742.0,427.1 743.7,425.4 745.6,423.9 747.7,422.9 749.7,422.3 751.7,422.2 753.4,422.6" fill="url(#g61)"/>
<ellipse cx="762.6" cy="443.9" rx="7.7" ry="11.0" transform="rotate(39.2 762.6 443.9)" fill="url(#g62)" stroke="#d9dfe2" stroke-width="1.1"/>
<path d="M709.6,420.9A9.2,18.3 -22.3 0 1 723.4,454.7" fill="none" stroke="rgba(255,255,255,0.8)" stroke-width="1.4" transform="translate(-1.02,0.42)"/>
<path d="M709.6,420.9A9.2,18.3 -22.3 0 1 723.4,454.7" fill="none" stroke="rgba(40,48,54,0.75)" stroke-width="0.9"/>
<path d="M760.7,401.6A8.3,16.6 -22.3 0 1 773.3,432.4" fill="none" stroke="rgba(255,255,255,0.8)" stroke-width="1.4" transform="translate(-1.02,0.42)"/>
<path d="M760.7,401.6A8.3,16.6 -22.3 0 1 773.3,432.4" fill="none" stroke="rgba(40,48,54,0.75)" stroke-width="0.9"/>
<path d="M797.4,391.6A9.0,16.3 -20.1 0 1 808.6,422.2" fill="none" stroke="rgba(255,255,255,0.8)" stroke-width="1.4" transform="translate(-1.03,0.38)"/>
<path d="M797.4,391.6A9.0,16.3 -20.1 0 1 808.6,422.2" fill="none" stroke="rgba(40,48,54,0.75)" stroke-width="0.9"/>
<polygon points="604.6,302.0 633.8,322.0 634.8,322.9 635.4,324.1 635.8,325.6 635.8,327.3 635.4,329.0 634.7,330.7 633.8,332.3 632.5,333.8 631.2,335.0 629.6,335.9 628.1,336.5 626.6,336.6 625.2,336.4 624.0,335.8 595.4,315.0 594.5,314.2 593.9,313.0 593.5,311.6 593.5,310.1 593.9,308.4 594.5,306.8 595.4,305.3 596.6,303.9 597.9,302.8 599.3,301.9 600.8,301.4 602.2,301.2 603.5,301.4" fill="url(#g63)"/>
<ellipse cx="628.9" cy="328.9" rx="5.9" ry="8.5" transform="rotate(35.2 628.9 328.9)" fill="url(#g64)" stroke="#d9dfe2" stroke-width="1.1"/>
<polygon points="641.4,331.2 665.8,347.1 666.9,348.5 667.5,350.2 667.7,352.1 667.5,354.2 666.7,356.4 665.6,358.5 664.1,360.5 662.3,362.1 660.4,363.5 658.3,364.4 656.2,364.9 654.2,364.9 652.5,364.4 651.0,363.5 632.6,340.8 632.0,340.0 631.6,339.0 631.5,337.9 631.6,336.6 632.1,335.3 632.7,334.1 633.6,333.0 634.7,332.0 635.8,331.2 637.1,330.6 638.3,330.3 639.5,330.3 640.5,330.6" fill="url(#g65)"/>
<ellipse cx="658.4" cy="355.3" rx="7.7" ry="11.0" transform="rotate(42.0 658.4 355.3)" fill="url(#g66)" stroke="#d9dfe2" stroke-width="1.1"/>
<polygon points="675.3,360.5 715.8,390.9 716.9,392.0 717.6,393.5 717.9,395.2 717.8,397.2 717.3,399.2 716.5,401.2 715.3,403.1 713.8,404.7 712.1,406.1 710.3,407.1 708.4,407.7 706.6,407.8 705.0,407.5 703.6,406.7 663.7,375.5 662.7,374.5 662.0,373.0 661.7,371.4 661.8,369.5 662.2,367.6 663.1,365.7 664.2,364.0 665.6,362.4 667.3,361.1 669.0,360.1 670.7,359.6 672.4,359.5 674.0,359.7" fill="url(#g67)"/>
<ellipse cx="709.7" cy="398.8" rx="7.0" ry="10.0" transform="rotate(37.5 709.7 398.8)" fill="url(#g68)" stroke="#d9dfe2" stroke-width="1.1"/>
<polygon points="349.2,280.0 449.0,249.2 473.5,271.0 373.4,301.3" fill="url(#g69)"/>
<polygon points="373.4,301.3 473.5,271.0 473.5,310.4 374.3,345.3" fill="url(#g70)"/>
<polygon points="349.2,280.0 373.4,301.3 374.3,345.3 352.1,322.6" fill="#4a5258"/>
<polygon points="353.0,288.0 370.5,303.5 371.3,338.0 355.0,321.0" fill="url(#g71)"/>
<polygon points="449.5,247.5 475.0,270.5 475.0,311.0 473.3,310.4 473.3,271.0 448.5,249.5" fill="#3a4147"/>
<polyline points="371.2,273.2 395.4,294.6 396.1,337.6" fill="none" stroke="rgba(80,90,98,0.5)" stroke-width="0.6" />
<polyline points="391.1,267.1 415.4,288.6 416.0,330.6" fill="none" stroke="rgba(80,90,98,0.5)" stroke-width="0.6" />
<polyline points="411.1,260.9 435.5,282.5 435.8,323.7" fill="none" stroke="rgba(80,90,98,0.5)" stroke-width="0.6" />
<polyline points="431.0,254.7 455.5,276.5 455.6,316.7" fill="none" stroke="rgba(80,90,98,0.5)" stroke-width="0.6" />
<polyline points="349.2,280.0 373.4,301.3 374.3,345.3" fill="none" stroke="#c9d0d4" stroke-width="1" />
<path d="M319.4,338.2 Q322,318 343.6,309.8 L347.8,352.4 L325.4,369.5 L320.5,365 Z" fill="url(#g72)" />
<polygon points="323.7,288.5 345.0,308.4 349.2,353.8 346.5,352.5 343.0,309.5 322.0,290.0" fill="#3a4147"/>
<path d="M220,299.8 L264,285.6 L268.3,289.9 Q285,302 300,296 Q312,291 322.2,289.5 L343.6,308.4 Q322,316 319.4,336.8 L309.5,342.5 L276.8,352.4 Z" fill="url(#g73)" />
<polygon points="220.0,299.8 276.8,352.4 278.2,396.5 221.4,342.5" fill="url(#g74)"/>
<polygon points="276.8,352.4 319.4,341.0 320.8,382.2 278.2,396.5" fill="#c1c8cc"/>
<polygon points="279.5,355.5 317.0,345.5 318.0,379.5 280.5,392.5" fill="url(#g75)"/>
<polyline points="220.0,299.8 264.0,285.6" fill="none" stroke="#a3dcec" stroke-width="2.2" />
<polygon points="220.0,299.8 223.3,302.9 224.6,345.6 221.4,342.5" fill="#aab3b8"/>
<polygon points="315.5,393.4 362.7,377.5 425.6,438.6 376.4,452.3" fill="url(#g76)"/>
<polygon points="315.5,393.4 376.4,452.3 377.2,499.5 317.5,436.6" fill="url(#g77)"/>
<polygon points="376.4,452.3 425.6,438.6 426.7,481.8 377.2,499.5" fill="#c1c8cc"/>
<polygon points="379.3,455.5 423.0,443.5 424.0,479.0 380.0,495.5" fill="url(#g78)"/>
<polyline points="315.5,393.4 362.7,377.5" fill="none" stroke="#a3dcec" stroke-width="2.2" />
<polygon points="315.5,393.4 318.8,396.6 320.6,439.8 317.5,436.6" fill="#aab3b8"/>
<polygon points="413.6,397.9 440.9,389.1 442.6,388.9 444.4,389.5 446.3,390.8 448.3,392.8 450.2,395.3 451.8,398.3 453.2,401.6 454.3,405.0 455.0,408.3 455.3,411.5 455.1,414.3 454.5,416.5 453.4,418.2 452.1,419.1 425.6,430.3 423.9,430.5 421.9,429.9 419.8,428.5 417.7,426.3 415.6,423.6 413.8,420.4 412.3,416.8 411.1,413.1 410.4,409.5 410.1,406.1 410.3,403.1 411.0,400.7 412.1,398.9" fill="url(#g79)"/>
<ellipse cx="419.6" cy="414.1" rx="7.8" ry="17.3" transform="rotate(-20.4 419.6 414.1)" fill="url(#g80)" stroke="#d9dfe2" stroke-width="1.1"/>
<path d="M424.0,394.1A7.7,17.2 -20.4 0 1 436.0,426.3" fill="none" stroke="rgba(255,255,255,0.8)" stroke-width="1.4" transform="translate(-1.03,0.38)"/>
<path d="M424.0,394.1A7.7,17.2 -20.4 0 1 436.0,426.3" fill="none" stroke="rgba(40,48,54,0.75)" stroke-width="0.9"/>
<polygon points="459.3,380.8 547.6,352.3 549.0,352.2 550.5,352.9 552.2,354.2 553.9,356.1 555.5,358.6 556.9,361.4 558.2,364.5 559.1,367.7 559.7,370.9 560.0,373.8 559.9,376.4 559.4,378.4 558.6,379.9 557.4,380.7 470.5,413.0 468.9,413.1 467.1,412.3 465.3,410.8 463.4,408.7 461.5,405.9 459.9,402.6 458.5,399.1 457.4,395.5 456.7,391.9 456.4,388.6 456.5,385.7 457.1,383.4 458.0,381.7" fill="url(#g81)"/>
<path d="M462.0,380.0A6.8,16.9 -19.1 0 1 473.1,412.0M464.7,379.1A6.8,16.9 -19.1 0 1 475.7,411.0M467.3,378.3A6.7,16.8 -19.1 0 1 478.3,410.0M470.0,377.4A6.7,16.8 -19.1 0 1 481.0,409.1M472.7,376.5A6.7,16.7 -19.1 0 1 483.6,408.1M475.3,375.7A6.7,16.6 -19.1 0 1 486.2,407.1M478.0,374.8A6.6,16.6 -19.1 0 1 488.9,406.1M480.6,374.0A6.6,16.5 -19.1 0 1 491.5,405.2M483.3,373.1A6.6,16.5 -19.1 0 1 494.1,404.2M486.0,372.2A6.6,16.4 -19.1 0 1 496.7,403.2M488.6,371.4A6.5,16.3 -19.1 0 1 499.4,402.2M491.3,370.5A6.5,16.3 -19.1 0 1 502.0,401.3M494.0,369.6A6.5,16.2 -19.1 0 1 504.6,400.3M496.6,368.8A6.5,16.2 -19.1 0 1 507.2,399.3M499.3,367.9A6.4,16.1 -19.1 0 1 509.9,398.3M502.0,367.1A6.4,16.0 -19.1 0 1 512.5,397.4M504.6,366.2A6.4,16.0 -19.1 0 1 515.1,396.4M507.3,365.3A6.4,15.9 -19.1 0 1 517.7,395.4M510.0,364.5A6.3,15.9 -19.1 0 1 520.4,394.4M512.6,363.6A6.3,15.8 -19.1 0 1 523.0,393.5M515.3,362.8A6.3,15.7 -19.1 0 1 525.6,392.5M518.0,361.9A6.3,15.7 -19.1 0 1 528.2,391.5M520.6,361.0A6.2,15.6 -19.1 0 1 530.9,390.5M523.3,360.2A6.2,15.6 -19.1 0 1 533.5,389.6M526.0,359.3A6.2,15.5 -19.1 0 1 536.1,388.6M528.6,358.5A6.2,15.4 -19.1 0 1 538.7,387.6M531.3,357.6A6.1,15.4 -19.1 0 1 541.4,386.6M533.9,356.7A6.1,15.3 -19.1 0 1 544.0,385.7M536.6,355.9A6.1,15.2 -19.1 0 1 546.6,384.7M539.3,355.0A6.1,15.2 -19.1 0 1 549.2,383.7M541.9,354.2A6.1,15.1 -19.1 0 1 551.9,382.7M544.6,353.3A6.0,15.1 -19.1 0 1 554.5,381.8M547.3,352.4A6.0,15.0 -19.1 0 1 557.1,380.8" fill="none" stroke="rgba(45,55,62,0.22)" stroke-width="0.8"/>
<path d="M462.0,380.0A6.8,16.9 -19.1 0 1 473.1,412.0M464.7,379.1A6.8,16.9 -19.1 0 1 475.7,411.0M467.3,378.3A6.7,16.8 -19.1 0 1 478.3,410.0M470.0,377.4A6.7,16.8 -19.1 0 1 481.0,409.1M472.7,376.5A6.7,16.7 -19.1 0 1 483.6,408.1M475.3,375.7A6.7,16.6 -19.1 0 1 486.2,407.1M478.0,374.8A6.6,16.6 -19.1 0 1 488.9,406.1M480.6,374.0A6.6,16.5 -19.1 0 1 491.5,405.2M483.3,373.1A6.6,16.5 -19.1 0 1 494.1,404.2M486.0,372.2A6.6,16.4 -19.1 0 1 496.7,403.2M488.6,371.4A6.5,16.3 -19.1 0 1 499.4,402.2M491.3,370.5A6.5,16.3 -19.1 0 1 502.0,401.3M494.0,369.6A6.5,16.2 -19.1 0 1 504.6,400.3M496.6,368.8A6.5,16.2 -19.1 0 1 507.2,399.3M499.3,367.9A6.4,16.1 -19.1 0 1 509.9,398.3M502.0,367.1A6.4,16.0 -19.1 0 1 512.5,397.4M504.6,366.2A6.4,16.0 -19.1 0 1 515.1,396.4M507.3,365.3A6.4,15.9 -19.1 0 1 517.7,395.4M510.0,364.5A6.3,15.9 -19.1 0 1 520.4,394.4M512.6,363.6A6.3,15.8 -19.1 0 1 523.0,393.5M515.3,362.8A6.3,15.7 -19.1 0 1 525.6,392.5M518.0,361.9A6.3,15.7 -19.1 0 1 528.2,391.5M520.6,361.0A6.2,15.6 -19.1 0 1 530.9,390.5M523.3,360.2A6.2,15.6 -19.1 0 1 533.5,389.6M526.0,359.3A6.2,15.5 -19.1 0 1 536.1,388.6M528.6,358.5A6.2,15.4 -19.1 0 1 538.7,387.6M531.3,357.6A6.1,15.4 -19.1 0 1 541.4,386.6M533.9,356.7A6.1,15.3 -19.1 0 1 544.0,385.7M536.6,355.9A6.1,15.2 -19.1 0 1 546.6,384.7M539.3,355.0A6.1,15.2 -19.1 0 1 549.2,383.7M541.9,354.2A6.1,15.1 -19.1 0 1 551.9,382.7M544.6,353.3A6.0,15.1 -19.1 0 1 554.5,381.8M547.3,352.4A6.0,15.0 -19.1 0 1 557.1,380.8" fill="none" stroke="rgba(255,255,255,0.28)" stroke-width="0.7" transform="translate(1.13,-0.39)"/>
<ellipse cx="464.9" cy="396.9" rx="6.8" ry="17.0" transform="rotate(-19.1 464.9 396.9)" fill="url(#g82)" stroke="#d9dfe2" stroke-width="1.1"/>
<path d="M422,489.8 Q440,506 469.5,511.4 Q500,515 528.5,505.2 L528.5,549.6 Q500,557 469.5,553.7 Q440,549 423.2,533.4 Z" fill="url(#g83)" />
<path d="M422,489.4 L469.5,470.8 L472,475 Q485,484 499.6,476.6 L500.7,475.5 L528.5,504.4 Q500,515 469.5,511.4 Q440,506 422,489.4 Z" fill="url(#g84)" />
<polygon points="500.7,474.0 530.5,503.5 530.5,550.5 528.0,549.6 528.0,505.0 499.0,476.6" fill="#3a4147"/>
<polyline points="422.0,489.4 469.5,470.8" fill="none" stroke="#a3dcec" stroke-width="2" />
<polyline points="422.3,490.0 423.4,533.0" fill="none" stroke="#c9d0d4" stroke-width="1.2" />
<polyline points="440.0,505.5 440.0,544.5" fill="none" stroke="rgba(60,70,78,0.25)" stroke-width="0.7" />
<polyline points="455.0,509.5 455.0,550.5" fill="none" stroke="rgba(60,70,78,0.25)" stroke-width="0.7" />
<polyline points="470.0,511.5 470.0,553.8" fill="none" stroke="rgba(60,70,78,0.25)" stroke-width="0.7" />
<polyline points="485.0,512.5 485.0,554.5" fill="none" stroke="rgba(60,70,78,0.25)" stroke-width="0.7" />
<polyline points="500.0,511.5 500.0,554.0" fill="none" stroke="rgba(60,70,78,0.25)" stroke-width="0.7" />
<polyline points="514.0,509.0 514.0,552.5" fill="none" stroke="rgba(60,70,78,0.25)" stroke-width="0.7" />
<polygon points="535.5,461.6 575.0,471.1 584.0,501.9 565.6,534.5 564.4,488.2" fill="url(#g85)"/>
<polygon points="575.0,471.1 590.5,466.6 592.0,466.6 593.6,467.4 595.3,468.9 597.0,471.0 598.6,473.7 600.0,476.8 601.1,480.2 602.0,483.7 602.5,487.1 602.6,490.2 602.3,492.9 601.7,495.1 600.7,496.6 599.5,497.4 584.0,501.9 582.5,501.9 580.9,501.1 579.2,499.6 577.5,497.5 575.9,494.8 574.5,491.7 573.4,488.3 572.5,484.8 572.0,481.4 571.9,478.3 572.2,475.6 572.8,473.4 573.8,471.9" fill="url(#g86)"/>
<polygon points="535.5,461.6 575.0,471.1 584.0,501.9 565.6,534.5 564.4,488.2" fill="url(#g87)"/>
<polygon points="564.4,488.2 575.0,471.1 584.0,501.9 565.6,534.5" fill="url(#g88)"/>
<path d="M582.6,468.3A6.6,16.6 -16.2 0 1 591.9,500.2" fill="none" stroke="rgba(255,255,255,0.8)" stroke-width="1.4" transform="translate(-1.06,0.31)"/>
<path d="M582.6,468.3A6.6,16.6 -16.2 0 1 591.9,500.2" fill="none" stroke="rgba(40,48,54,0.75)" stroke-width="0.9"/>
<polygon points="535.5,461.6 539.0,506.7 565.6,534.5 564.4,488.2" fill="#e2e7e9"/>
<polygon points="537.0,464.9 540.2,505.9 564.4,531.2 563.3,489.1" fill="#4d555b"/>
<polygon points="537.0,464.9 552.5,498.1 540.2,505.9" fill="url(#g89)"/>
<polygon points="537.0,464.9 552.5,498.1 563.3,489.1" fill="url(#g90)"/>
<polygon points="563.3,489.1 552.5,498.1 564.4,531.2" fill="url(#g91)"/>
<polygon points="540.2,505.9 552.5,498.1 564.4,531.2" fill="url(#g92)"/>
<polygon points="604.1,460.7 691.5,430.8 692.9,430.7 694.6,431.4 696.3,432.7 698.1,434.7 699.8,437.3 701.4,440.2 702.7,443.5 703.7,446.8 704.4,450.1 704.7,453.1 704.7,455.8 704.2,458.0 703.3,459.5 702.1,460.4 615.9,493.3 614.3,493.4 612.5,492.7 610.5,491.2 608.6,489.0 606.7,486.2 605.0,482.9 603.5,479.4 602.3,475.7 601.6,472.1 601.2,468.7 601.3,465.7 601.9,463.4 602.8,461.7" fill="url(#g93)"/>
<path d="M606.9,459.8A6.9,17.2 -19.9 0 1 618.6,492.2M609.6,458.9A6.9,17.2 -19.9 0 1 621.3,491.2M612.3,457.9A6.9,17.1 -19.9 0 1 624.0,490.2M615.1,457.0A6.8,17.1 -19.9 0 1 626.7,489.1M617.8,456.0A6.8,17.0 -19.9 0 1 629.4,488.1M620.6,455.1A6.8,17.0 -19.9 0 1 632.1,487.1M623.3,454.2A6.8,16.9 -19.9 0 1 634.9,486.0M626.1,453.2A6.8,16.9 -19.9 0 1 637.6,485.0M628.8,452.3A6.7,16.8 -19.9 0 1 640.3,484.0M631.6,451.3A6.7,16.8 -19.9 0 1 643.0,482.9M634.3,450.4A6.7,16.7 -19.9 0 1 645.7,481.9M637.0,449.5A6.7,16.7 -19.9 0 1 648.4,480.9M639.8,448.5A6.7,16.6 -19.9 0 1 651.1,479.8M642.5,447.6A6.6,16.6 -19.9 0 1 653.8,478.8M645.3,446.6A6.6,16.5 -19.9 0 1 656.5,477.8M648.0,445.7A6.6,16.5 -19.9 0 1 659.2,476.7M650.8,444.8A6.6,16.4 -19.9 0 1 662.0,475.7M653.5,443.8A6.6,16.4 -19.9 0 1 664.7,474.7M656.3,442.9A6.5,16.3 -19.9 0 1 667.4,473.6M659.0,441.9A6.5,16.3 -19.9 0 1 670.1,472.6M661.7,441.0A6.5,16.2 -19.9 0 1 672.8,471.6M664.5,440.1A6.5,16.2 -19.9 0 1 675.5,470.5M667.2,439.1A6.5,16.1 -19.9 0 1 678.2,469.5M670.0,438.2A6.4,16.1 -19.9 0 1 680.9,468.5M672.7,437.3A6.4,16.0 -19.9 0 1 683.6,467.4M675.5,436.3A6.4,16.0 -19.9 0 1 686.3,466.4M678.2,435.4A6.4,15.9 -19.9 0 1 689.1,465.4M681.0,434.4A6.4,15.9 -19.9 0 1 691.8,464.3M683.7,433.5A6.3,15.8 -19.9 0 1 694.5,463.3M686.4,432.6A6.3,15.8 -19.9 0 1 697.2,462.3M689.2,431.6A6.3,15.7 -19.9 0 1 699.9,461.2" fill="none" stroke="rgba(45,55,62,0.22)" stroke-width="0.8"/>
<path d="M606.9,459.8A6.9,17.2 -19.9 0 1 618.6,492.2M609.6,458.9A6.9,17.2 -19.9 0 1 621.3,491.2M612.3,457.9A6.9,17.1 -19.9 0 1 624.0,490.2M615.1,457.0A6.8,17.1 -19.9 0 1 626.7,489.1M617.8,456.0A6.8,17.0 -19.9 0 1 629.4,488.1M620.6,455.1A6.8,17.0 -19.9 0 1 632.1,487.1M623.3,454.2A6.8,16.9 -19.9 0 1 634.9,486.0M626.1,453.2A6.8,16.9 -19.9 0 1 637.6,485.0M628.8,452.3A6.7,16.8 -19.9 0 1 640.3,484.0M631.6,451.3A6.7,16.8 -19.9 0 1 643.0,482.9M634.3,450.4A6.7,16.7 -19.9 0 1 645.7,481.9M637.0,449.5A6.7,16.7 -19.9 0 1 648.4,480.9M639.8,448.5A6.7,16.6 -19.9 0 1 651.1,479.8M642.5,447.6A6.6,16.6 -19.9 0 1 653.8,478.8M645.3,446.6A6.6,16.5 -19.9 0 1 656.5,477.8M648.0,445.7A6.6,16.5 -19.9 0 1 659.2,476.7M650.8,444.8A6.6,16.4 -19.9 0 1 662.0,475.7M653.5,443.8A6.6,16.4 -19.9 0 1 664.7,474.7M656.3,442.9A6.5,16.3 -19.9 0 1 667.4,473.6M659.0,441.9A6.5,16.3 -19.9 0 1 670.1,472.6M661.7,441.0A6.5,16.2 -19.9 0 1 672.8,471.6M664.5,440.1A6.5,16.2 -19.9 0 1 675.5,470.5M667.2,439.1A6.5,16.1 -19.9 0 1 678.2,469.5M670.0,438.2A6.4,16.1 -19.9 0 1 680.9,468.5M672.7,437.3A6.4,16.0 -19.9 0 1 683.6,467.4M675.5,436.3A6.4,16.0 -19.9 0 1 686.3,466.4M678.2,435.4A6.4,15.9 -19.9 0 1 689.1,465.4M681.0,434.4A6.4,15.9 -19.9 0 1 691.8,464.3M683.7,433.5A6.3,15.8 -19.9 0 1 694.5,463.3M686.4,432.6A6.3,15.8 -19.9 0 1 697.2,462.3M689.2,431.6A6.3,15.7 -19.9 0 1 699.9,461.2" fill="none" stroke="rgba(255,255,255,0.28)" stroke-width="0.7" transform="translate(1.13,-0.41)"/>
<ellipse cx="610.0" cy="477.0" rx="6.9" ry="17.3" transform="rotate(-19.9 610.0 477.0)" fill="url(#g94)" stroke="#d9dfe2" stroke-width="1.1"/>
<polygon points="782.0,451.7 797.4,462.1 798.4,463.2 799.1,464.6 799.4,466.3 799.3,468.1 798.8,470.0 797.9,471.9 796.7,473.6 795.3,475.2 793.6,476.5 791.9,477.4 790.1,477.9 788.4,478.0 786.9,477.7 785.6,476.9 772.0,464.3 771.2,463.3 770.6,462.1 770.4,460.7 770.5,459.2 770.9,457.6 771.6,456.0 772.6,454.5 773.8,453.2 775.2,452.1 776.7,451.4 778.2,450.9 779.6,450.8 780.9,451.1" fill="url(#g95)"/>
<ellipse cx="791.5" cy="469.5" rx="6.6" ry="9.5" transform="rotate(38.4 791.5 469.5)" fill="url(#g96)" stroke="#d9dfe2" stroke-width="1.1"/>
<path d="M803,469 L811.5,472.5 L819.5,481 L822.6,493 L817.7,503.5 L809,511 L801.5,515.5 L794,492.5 L798,489 L795,485 L792.5,481 Q793,472 803,469 Z" fill="url(#g97)" />
<polyline points="811.0,474.0 796.0,486.0" fill="none" stroke="rgba(50,58,64,0.7)" stroke-width="0.7" />
<polyline points="819.0,482.0 798.0,489.0" fill="none" stroke="rgba(50,58,64,0.7)" stroke-width="0.7" />
<polyline points="822.0,494.0 808.0,487.0 798.0,489.0" fill="none" stroke="rgba(50,58,64,0.5)" stroke-width="0.7" />
<ellipse cx="797.8" cy="504.0" rx="7.0" ry="12.0" transform="rotate(-20.0 797.8 504.0)" fill="url(#g98)" stroke="#d9dfe2" stroke-width="1.2"/>
<polygon points="712.5,526.3 776.3,498.2 777.3,498.1 778.4,498.4 779.6,499.2 780.9,500.5 782.2,502.1 783.4,504.0 784.4,506.1 785.3,508.3 785.9,510.4 786.3,512.4 786.3,514.2 786.1,515.7 785.6,516.8 784.9,517.4 721.5,546.3 720.5,546.5 719.3,546.1 718.0,545.3 716.7,544.0 715.3,542.3 714.1,540.3 713.0,538.1 712.1,535.8 711.4,533.6 711.1,531.4 711.0,529.6 711.2,528.0 711.7,526.9" fill="url(#g99)"/>
<path d="M715.1,525.1A4.4,11.0 -24.1 0 1 724.0,545.2M717.6,524.0A4.4,11.0 -24.1 0 1 726.6,544.0M720.2,522.9A4.4,10.9 -24.1 0 1 729.1,542.8M722.8,521.8A4.4,10.9 -24.1 0 1 731.7,541.7M725.3,520.6A4.4,10.9 -24.1 0 1 734.2,540.5M727.9,519.5A4.4,10.9 -24.1 0 1 736.8,539.4M730.4,518.4A4.3,10.9 -24.1 0 1 739.3,538.2M733.0,517.2A4.3,10.8 -24.1 0 1 741.9,537.0M735.6,516.1A4.3,10.8 -24.1 0 1 744.4,535.9M738.1,515.0A4.3,10.8 -24.1 0 1 747.0,534.7M740.7,513.9A4.3,10.8 -24.1 0 1 749.5,533.5M743.3,512.7A4.3,10.8 -24.1 0 1 752.1,532.4M745.8,511.6A4.3,10.7 -24.1 0 1 754.6,531.2M748.4,510.5A4.3,10.7 -24.1 0 1 757.2,530.1M751.0,509.4A4.3,10.7 -24.1 0 1 759.7,528.9M753.5,508.2A4.3,10.7 -24.1 0 1 762.2,527.7M756.1,507.1A4.3,10.7 -24.1 0 1 764.8,526.6M758.6,506.0A4.3,10.6 -24.1 0 1 767.3,525.4M761.2,504.9A4.2,10.6 -24.1 0 1 769.9,524.2M763.8,503.7A4.2,10.6 -24.1 0 1 772.4,523.1M766.3,502.6A4.2,10.6 -24.1 0 1 775.0,521.9M768.9,501.5A4.2,10.6 -24.1 0 1 777.5,520.7M771.5,500.3A4.2,10.5 -24.1 0 1 780.1,519.6M774.0,499.2A4.2,10.5 -24.1 0 1 782.6,518.4" fill="none" stroke="rgba(45,55,62,0.22)" stroke-width="0.8"/>
<path d="M715.1,525.1A4.4,11.0 -24.1 0 1 724.0,545.2M717.6,524.0A4.4,11.0 -24.1 0 1 726.6,544.0M720.2,522.9A4.4,10.9 -24.1 0 1 729.1,542.8M722.8,521.8A4.4,10.9 -24.1 0 1 731.7,541.7M725.3,520.6A4.4,10.9 -24.1 0 1 734.2,540.5M727.9,519.5A4.4,10.9 -24.1 0 1 736.8,539.4M730.4,518.4A4.3,10.9 -24.1 0 1 739.3,538.2M733.0,517.2A4.3,10.8 -24.1 0 1 741.9,537.0M735.6,516.1A4.3,10.8 -24.1 0 1 744.4,535.9M738.1,515.0A4.3,10.8 -24.1 0 1 747.0,534.7M740.7,513.9A4.3,10.8 -24.1 0 1 749.5,533.5M743.3,512.7A4.3,10.8 -24.1 0 1 752.1,532.4M745.8,511.6A4.3,10.7 -24.1 0 1 754.6,531.2M748.4,510.5A4.3,10.7 -24.1 0 1 757.2,530.1M751.0,509.4A4.3,10.7 -24.1 0 1 759.7,528.9M753.5,508.2A4.3,10.7 -24.1 0 1 762.2,527.7M756.1,507.1A4.3,10.7 -24.1 0 1 764.8,526.6M758.6,506.0A4.3,10.6 -24.1 0 1 767.3,525.4M761.2,504.9A4.2,10.6 -24.1 0 1 769.9,524.2M763.8,503.7A4.2,10.6 -24.1 0 1 772.4,523.1M766.3,502.6A4.2,10.6 -24.1 0 1 775.0,521.9M768.9,501.5A4.2,10.6 -24.1 0 1 777.5,520.7M771.5,500.3A4.2,10.5 -24.1 0 1 780.1,519.6M774.0,499.2A4.2,10.5 -24.1 0 1 782.6,518.4" fill="none" stroke="rgba(255,255,255,0.28)" stroke-width="0.7" transform="translate(1.10,-0.49)"/>
<ellipse cx="717.0" cy="536.3" rx="4.4" ry="11.0" transform="rotate(-24.1 717.0 536.3)" fill="url(#g100)" stroke="#d9dfe2" stroke-width="1.1"/>
</g>
<g>
<text x="59.3" y="39.9" font-size="16.6" fill="url(#txt)" stroke="#156aae" stroke-width="0.25" textLength="114.5" lengthAdjust="spacingAndGlyphs">Переход “Утка”</text>
<text x="517.4" y="33.7" font-size="16.6" fill="url(#txt)" stroke="#156aae" stroke-width="0.25" textLength="53" lengthAdjust="spacingAndGlyphs">Врезка</text>
<text x="517.4" y="48.5" font-size="16.6" fill="url(#txt)" stroke="#156aae" stroke-width="0.25" textLength="110" lengthAdjust="spacingAndGlyphs">воротниковая</text>
<text x="598.9" y="103.8" font-size="16.6" fill="url(#txt)" stroke="#156aae" stroke-width="0.25" textLength="65" lengthAdjust="spacingAndGlyphs">Тройник</text>
<text x="710.5" y="167.4" font-size="16.6" fill="url(#txt)" stroke="#156aae" stroke-width="0.25" textLength="67.4" lengthAdjust="spacingAndGlyphs">Ниппель</text>
<text x="711" y="182.1" font-size="16.6" fill="url(#txt)" stroke="#156aae" stroke-width="0.25" textLength="79" lengthAdjust="spacingAndGlyphs">наружный</text>
<text x="791.7" y="223" font-size="16.6" fill="url(#txt)" stroke="#156aae" stroke-width="0.25" textLength="90.4" lengthAdjust="spacingAndGlyphs">Воздуховод</text>
<text x="791.7" y="238.3" font-size="16.6" fill="url(#txt)" stroke="#156aae" stroke-width="0.25" textLength="103.2" lengthAdjust="spacingAndGlyphs">прямая часть</text>
<text x="849.8" y="306.4" font-size="16.6" fill="url(#txt)" stroke="#156aae" stroke-width="0.25" textLength="46.8" lengthAdjust="spacingAndGlyphs">Отвод</text>
<text x="849.8" y="320.9" font-size="16.6" fill="url(#txt)" stroke="#156aae" stroke-width="0.25" textLength="83.8" lengthAdjust="spacingAndGlyphs">круглый 90</text>
<text x="938.5" y="315" font-size="11" fill="url(#txt)" stroke="#156aae" stroke-width="0.25" textLength="5.8" lengthAdjust="spacingAndGlyphs">0</text>
<text x="12.1" y="216.5" font-size="16.6" fill="url(#txt)" stroke="#156aae" stroke-width="0.25" textLength="52.3" lengthAdjust="spacingAndGlyphs">Врезка</text>
<text x="11.4" y="231.7" font-size="16.6" fill="url(#txt)" stroke="#156aae" stroke-width="0.25" textLength="56.8" lengthAdjust="spacingAndGlyphs">прямая</text>
<text x="252.9" y="217.9" font-size="16.6" fill="url(#txt)" stroke="#156aae" stroke-width="0.25" textLength="71" lengthAdjust="spacingAndGlyphs">Заглушка</text>
<text x="252.9" y="233.4" font-size="16.6" fill="url(#txt)" stroke="#156aae" stroke-width="0.25" textLength="58.5" lengthAdjust="spacingAndGlyphs">торцева</text>
<text x="437.8" y="228" font-size="16.6" fill="url(#txt)" stroke="#156aae" stroke-width="0.25" textLength="125" lengthAdjust="spacingAndGlyphs">Прямой участок</text>
<text x="560.1" y="271.7" font-size="16.6" fill="url(#txt)" stroke="#156aae" stroke-width="0.25" textLength="92" lengthAdjust="spacingAndGlyphs">Воздуховод</text>
<text x="560.1" y="286.2" font-size="16.6" fill="url(#txt)" stroke="#156aae" stroke-width="0.25" textLength="103" lengthAdjust="spacingAndGlyphs">прямая часть</text>
<text x="39.2" y="289" font-size="16.6" fill="url(#txt)" stroke="#156aae" stroke-width="0.25" textLength="65.7" lengthAdjust="spacingAndGlyphs">Переход</text>
<text x="114.7" y="382.7" font-size="16.6" fill="url(#txt)" stroke="#156aae" stroke-width="0.25" textLength="66.2" lengthAdjust="spacingAndGlyphs">Тройник</text>
<text x="473.9" y="329.7" font-size="16.6" fill="url(#txt)" stroke="#156aae" stroke-width="0.25" textLength="53.7" lengthAdjust="spacingAndGlyphs">Врезка</text>
<text x="473.9" y="344.2" font-size="16.6" fill="url(#txt)" stroke="#156aae" stroke-width="0.25" textLength="58.3" lengthAdjust="spacingAndGlyphs">прямая</text>
<text x="684.2" y="351.3" font-size="16.6" fill="url(#txt)" stroke="#156aae" stroke-width="0.25" textLength="91.4" lengthAdjust="spacingAndGlyphs">Крестовина</text>
<text x="565" y="408.5" font-size="16.6" fill="url(#txt)" stroke="#156aae" stroke-width="0.25" textLength="67" lengthAdjust="spacingAndGlyphs">Переход</text>
<text x="194" y="477" font-size="16.6" fill="url(#txt)" stroke="#156aae" stroke-width="0.25" textLength="91" lengthAdjust="spacingAndGlyphs">Воздуховод</text>
<text x="194" y="491.7" font-size="16.6" fill="url(#txt)" stroke="#156aae" stroke-width="0.25" textLength="103.4" lengthAdjust="spacingAndGlyphs">прямая часть</text>
<text x="842" y="484.7" font-size="16.6" fill="url(#txt)" stroke="#156aae" stroke-width="0.25" textLength="67.5" lengthAdjust="spacingAndGlyphs">Ниппель</text>
<text x="582.8" y="554.8" font-size="16.6" fill="url(#txt)" stroke="#156aae" stroke-width="0.25" textLength="66" lengthAdjust="spacingAndGlyphs">Переход</text>
<text x="315.2" y="584" font-size="16.6" fill="url(#txt)" stroke="#156aae" stroke-width="0.25" textLength="69.6" lengthAdjust="spacingAndGlyphs">Отвод 90</text>
<text x="387.2" y="577.3" font-size="11" fill="url(#txt)" stroke="#156aae" stroke-width="0.25" textLength="6" lengthAdjust="spacingAndGlyphs">0</text>
<polyline points="175.5,36.8 199.0,36.8 199.0,85.0" fill="none" stroke="#5cc6e8" stroke-width="1.1"/>
<circle cx="198.7" cy="89" r="3.4" fill="rgba(255,255,255,0.12)" stroke="#2bb6e6" stroke-width="1.7"/>
<polyline points="510.4,35.6 458.5,35.6 458.5,93.5" fill="none" stroke="#5cc6e8" stroke-width="1.1"/>
<circle cx="459.2" cy="97.5" r="3.4" fill="rgba(255,255,255,0.12)" stroke="#2bb6e6" stroke-width="1.7"/>
<polyline points="594.7,98.7 562.5,98.7 562.5,131.0" fill="none" stroke="#5cc6e8" stroke-width="1.1"/>
<circle cx="562.8" cy="135" r="3.4" fill="rgba(255,255,255,0.12)" stroke="#2bb6e6" stroke-width="1.7"/>
<polyline points="709.4,171.7 702.3,171.7 702.3,240.0" fill="none" stroke="#5cc6e8" stroke-width="1.1"/>
<circle cx="702.3" cy="243.9" r="3.4" fill="rgba(255,255,255,0.12)" stroke="#2bb6e6" stroke-width="1.7"/>
<polyline points="786.4,226.0 754.5,226.0 754.5,283.5" fill="none" stroke="#5cc6e8" stroke-width="1.1"/>
<circle cx="755" cy="287.5" r="3.4" fill="rgba(255,255,255,0.12)" stroke="#2bb6e6" stroke-width="1.7"/>
<polyline points="912.7,326.8 912.7,377.6 862.0,377.6" fill="none" stroke="#5cc6e8" stroke-width="1.1"/>
<circle cx="857.8" cy="377.6" r="3.4" fill="rgba(255,255,255,0.12)" stroke="#2bb6e6" stroke-width="1.7"/>
<polyline points="75.8,218.5 173.0,218.5 173.0,186.0" fill="none" stroke="#5cc6e8" stroke-width="1.1"/>
<circle cx="172.6" cy="182" r="3.4" fill="rgba(255,255,255,0.12)" stroke="#2bb6e6" stroke-width="1.7"/>
<polyline points="278.8,201.0 278.8,153.1 308.0,153.1" fill="none" stroke="#5cc6e8" stroke-width="1.1"/>
<circle cx="312" cy="153.1" r="3.4" fill="rgba(255,255,255,0.12)" stroke="#2bb6e6" stroke-width="1.7"/>
<polyline points="331.3,222.6 370.5,222.6 370.5,197.0" fill="none" stroke="#5cc6e8" stroke-width="1.1"/>
<circle cx="369.5" cy="193" r="3.4" fill="rgba(255,255,255,0.12)" stroke="#2bb6e6" stroke-width="1.7"/>
<polyline points="501.0,240.5 501.0,300.0 448.0,300.0" fill="none" stroke="#5cc6e8" stroke-width="1.1"/>
<circle cx="444" cy="300" r="3.4" fill="rgba(255,255,255,0.12)" stroke="#2bb6e6" stroke-width="1.7"/>
<polyline points="606.0,253.4 606.0,196.4 639.0,196.4" fill="none" stroke="#5cc6e8" stroke-width="1.1"/>
<circle cx="643" cy="196.4" r="3.4" fill="rgba(255,255,255,0.12)" stroke="#2bb6e6" stroke-width="1.7"/>
<polyline points="111.2,284.7 183.0,284.7" fill="none" stroke="#5cc6e8" stroke-width="1.1"/>
<circle cx="187" cy="284.7" r="3.4" fill="rgba(255,255,255,0.12)" stroke="#2bb6e6" stroke-width="1.7"/>
<polyline points="187.8,377.8 251.6,377.8 251.6,320.5" fill="none" stroke="#5cc6e8" stroke-width="1.1"/>
<circle cx="251.6" cy="316.5" r="3.4" fill="rgba(255,255,255,0.12)" stroke="#2bb6e6" stroke-width="1.7"/>
<polyline points="469.3,331.3 437.0,331.3 437.0,387.3" fill="none" stroke="#5cc6e8" stroke-width="1.1"/>
<circle cx="437" cy="391.3" r="3.4" fill="rgba(255,255,255,0.12)" stroke="#2bb6e6" stroke-width="1.7"/>
<polyline points="740.8,358.7 740.8,418.0" fill="none" stroke="#5cc6e8" stroke-width="1.1"/>
<circle cx="740.8" cy="422" r="3.4" fill="rgba(255,255,255,0.12)" stroke="#2bb6e6" stroke-width="1.7"/>
<polyline points="637.6,404.4 648.5,404.4 648.5,350.0" fill="none" stroke="#5cc6e8" stroke-width="1.1"/>
<circle cx="648" cy="345.8" r="3.4" fill="rgba(255,255,255,0.12)" stroke="#2bb6e6" stroke-width="1.7"/>
<polyline points="300.4,480.3 351.5,480.3 351.5,418.8" fill="none" stroke="#5cc6e8" stroke-width="1.1"/>
<circle cx="351.5" cy="414.8" r="3.4" fill="rgba(255,255,255,0.12)" stroke="#2bb6e6" stroke-width="1.7"/>
<polyline points="876.0,469.0 876.0,412.5 813.5,412.5" fill="none" stroke="#5cc6e8" stroke-width="1.1"/>
<circle cx="809.5" cy="412.2" r="3.4" fill="rgba(255,255,255,0.12)" stroke="#2bb6e6" stroke-width="1.7"/>
<polyline points="618.0,538.0 618.0,509.3 574.0,509.3" fill="none" stroke="#5cc6e8" stroke-width="1.1"/>
<circle cx="569.8" cy="509.3" r="3.4" fill="rgba(255,255,255,0.12)" stroke="#2bb6e6" stroke-width="1.7"/>
<polyline points="398.0,580.0 474.8,580.0 474.8,499.6" fill="none" stroke="#5cc6e8" stroke-width="1.1"/>
<circle cx="474" cy="495.6" r="3.4" fill="rgba(255,255,255,0.12)" stroke="#2bb6e6" stroke-width="1.7"/>
</g>
</svg>
</body></html>
